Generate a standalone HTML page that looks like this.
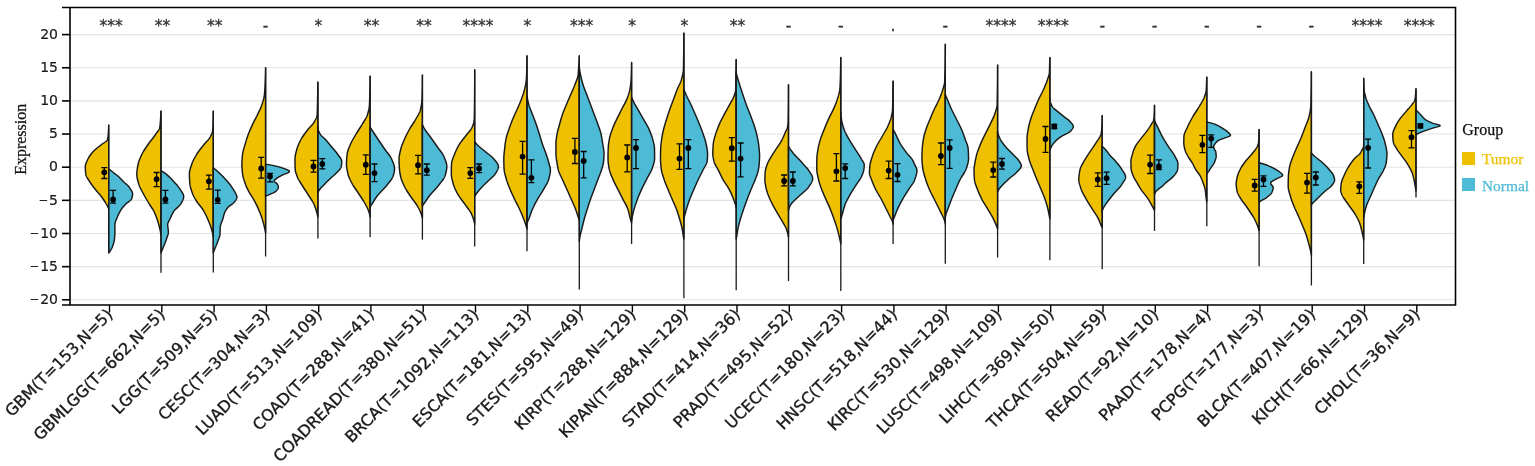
<!DOCTYPE html>
<html><head><meta charset="utf-8"><style>
html,body{margin:0;padding:0;background:#fff;}
svg{display:block;}
.yt{font-family:"DejaVu Sans",sans-serif;font-size:14px;fill:#1a1a1a;stroke:#1a1a1a;stroke-width:0.2px;}
.xt{font-family:"DejaVu Sans",sans-serif;font-size:16px;fill:#1a1a1a;stroke:#1a1a1a;stroke-width:0.35px;}
.sig{font-family:"DejaVu Sans",sans-serif;font-size:15.5px;fill:#333;stroke:#333;stroke-width:0.3px;}
.ttl{font-family:"Liberation Serif",serif;font-size:16px;fill:#111;stroke:#111;stroke-width:0.25px;}
</style></head><body>
<svg width="1535" height="466" viewBox="0 0 1535 466">
<rect width="100%" height="100%" fill="#fff"/>
<line x1="70.0" x2="1455.5" y1="299.80" y2="299.80" stroke="#e3e3e3" stroke-width="1.1"/>
<line x1="70.0" x2="1455.5" y1="266.65" y2="266.65" stroke="#e3e3e3" stroke-width="1.1"/>
<line x1="70.0" x2="1455.5" y1="233.50" y2="233.50" stroke="#e3e3e3" stroke-width="1.1"/>
<line x1="70.0" x2="1455.5" y1="200.35" y2="200.35" stroke="#e3e3e3" stroke-width="1.1"/>
<line x1="70.0" x2="1455.5" y1="167.20" y2="167.20" stroke="#e3e3e3" stroke-width="1.1"/>
<line x1="70.0" x2="1455.5" y1="134.05" y2="134.05" stroke="#e3e3e3" stroke-width="1.1"/>
<line x1="70.0" x2="1455.5" y1="100.90" y2="100.90" stroke="#e3e3e3" stroke-width="1.1"/>
<line x1="70.0" x2="1455.5" y1="67.75" y2="67.75" stroke="#e3e3e3" stroke-width="1.1"/>
<line x1="70.0" x2="1455.5" y1="34.60" y2="34.60" stroke="#e3e3e3" stroke-width="1.1"/>
<path d="M108.7,125.0 L108.70,125.00 L108.70,125.50 L108.69,126.00 L108.68,126.50 L108.67,127.00 L108.66,127.50 L108.64,128.00 L108.62,128.50 L108.59,129.00 L108.57,129.50 L108.54,130.00 L108.51,130.50 L108.48,131.00 L108.45,131.50 L108.41,132.00 L108.38,132.50 L108.34,133.00 L108.30,133.50 L108.26,134.00 L108.22,134.50 L108.18,135.00 L108.14,135.50 L108.10,136.00 L108.05,136.50 L107.99,137.00 L107.92,137.50 L107.85,138.00 L107.76,138.50 L107.66,139.00 L107.55,139.50 L107.39,140.00 L107.06,140.50 L106.58,141.00 L105.98,141.50 L105.29,142.00 L104.54,142.50 L103.76,143.00 L102.98,143.50 L102.23,144.00 L101.55,144.50 L100.94,145.00 L100.32,145.50 L99.70,146.00 L99.06,146.50 L98.43,147.00 L97.80,147.50 L97.17,148.00 L96.56,148.50 L95.95,149.00 L95.36,149.50 L94.79,150.00 L94.25,150.50 L93.73,151.00 L93.24,151.50 L92.79,152.00 L92.36,152.50 L91.94,153.00 L91.54,153.50 L91.14,154.00 L90.76,154.50 L90.38,155.00 L90.02,155.50 L89.68,156.00 L89.35,156.50 L89.03,157.00 L88.73,157.50 L88.44,158.00 L88.18,158.50 L87.93,159.00 L87.70,159.50 L87.48,160.00 L87.25,160.50 L87.03,161.00 L86.80,161.50 L86.58,162.00 L86.37,162.50 L86.17,163.00 L85.98,163.50 L85.81,164.00 L85.66,164.50 L85.53,165.00 L85.43,165.50 L85.36,166.00 L85.31,166.50 L85.30,167.00 L85.30,167.50 L85.31,168.00 L85.33,168.50 L85.35,169.00 L85.37,169.50 L85.40,170.00 L85.43,170.50 L85.47,171.00 L85.51,171.50 L85.55,172.00 L85.60,172.50 L85.65,173.00 L85.71,173.50 L85.76,174.00 L85.83,174.50 L85.93,175.00 L86.08,175.50 L86.26,176.00 L86.48,176.50 L86.73,177.00 L87.00,177.50 L87.29,178.00 L87.61,178.50 L87.93,179.00 L88.26,179.50 L88.60,180.00 L88.93,180.50 L89.26,181.00 L89.58,181.50 L89.89,182.00 L90.21,182.50 L90.54,183.00 L90.88,183.50 L91.23,184.00 L91.58,184.50 L91.95,185.00 L92.32,185.50 L92.70,186.00 L93.08,186.50 L93.46,187.00 L93.85,187.50 L94.24,188.00 L94.63,188.50 L95.02,189.00 L95.42,189.50 L95.82,190.00 L96.24,190.50 L96.67,191.00 L97.10,191.50 L97.54,192.00 L97.97,192.50 L98.41,193.00 L98.85,193.50 L99.28,194.00 L99.71,194.50 L100.12,195.00 L100.53,195.50 L100.92,196.00 L101.30,196.50 L101.67,197.00 L102.03,197.50 L102.39,198.00 L102.74,198.50 L103.09,199.00 L103.43,199.50 L103.77,200.00 L104.10,200.50 L104.43,201.00 L104.75,201.50 L105.07,202.00 L105.37,202.50 L105.67,203.00 L105.97,203.50 L106.26,204.00 L106.54,204.50 L106.81,205.00 L107.08,205.50 L107.34,206.00 L107.60,206.50 L107.85,207.00 L108.09,207.50 L108.33,208.00 L108.56,208.50 L108.70,208.80 L108.7,208.8 Z" fill="#EFC000" stroke="#1a1a1a" stroke-width="1.45" stroke-linejoin="round"/>
<path d="M108.7,168.8 L108.70,168.80 L109.31,169.30 L109.92,169.80 L110.54,170.30 L111.16,170.80 L111.78,171.30 L112.40,171.80 L113.03,172.30 L113.68,172.80 L114.34,173.30 L115.00,173.80 L115.65,174.30 L116.30,174.80 L116.94,175.30 L117.56,175.80 L118.15,176.30 L118.71,176.80 L119.24,177.30 L119.76,177.80 L120.25,178.30 L120.74,178.80 L121.21,179.30 L121.68,179.80 L122.15,180.30 L122.62,180.80 L123.11,181.30 L123.60,181.80 L124.12,182.30 L124.66,182.80 L125.23,183.30 L125.79,183.80 L126.36,184.30 L126.93,184.80 L127.47,185.30 L128.00,185.80 L128.49,186.30 L128.94,186.80 L129.35,187.30 L129.70,187.80 L130.02,188.30 L130.35,188.80 L130.68,189.30 L131.00,189.80 L131.31,190.30 L131.59,190.80 L131.85,191.30 L132.09,191.80 L132.28,192.30 L132.44,192.80 L132.54,193.30 L132.60,193.80 L132.60,194.30 L132.57,194.80 L132.51,195.30 L132.44,195.80 L132.34,196.30 L132.23,196.80 L132.10,197.30 L131.96,197.80 L131.80,198.30 L131.63,198.80 L131.41,199.30 L131.04,199.80 L130.55,200.30 L129.97,200.80 L129.32,201.30 L128.64,201.80 L127.95,202.30 L127.28,202.80 L126.65,203.30 L126.10,203.80 L125.61,204.30 L125.13,204.80 L124.66,205.30 L124.20,205.80 L123.74,206.30 L123.30,206.80 L122.87,207.30 L122.46,207.80 L122.06,208.30 L121.68,208.80 L121.33,209.30 L121.00,209.80 L120.69,210.30 L120.39,210.80 L120.10,211.30 L119.81,211.80 L119.54,212.30 L119.28,212.80 L119.03,213.30 L118.78,213.80 L118.54,214.30 L118.31,214.80 L118.09,215.30 L117.87,215.80 L117.66,216.30 L117.46,216.80 L117.26,217.30 L117.06,217.80 L116.84,218.30 L116.63,218.80 L116.41,219.30 L116.19,219.80 L115.98,220.30 L115.78,220.80 L115.59,221.30 L115.41,221.80 L115.26,222.30 L115.13,222.80 L115.02,223.30 L114.95,223.80 L114.91,224.30 L114.90,224.80 L114.90,225.30 L114.90,225.80 L114.90,226.30 L114.90,226.80 L114.90,227.30 L114.90,227.80 L114.90,228.30 L114.90,228.80 L114.90,229.30 L114.90,229.80 L114.90,230.30 L114.90,230.80 L114.90,231.30 L114.90,231.80 L114.90,232.30 L114.89,232.80 L114.88,233.30 L114.86,233.80 L114.84,234.30 L114.81,234.80 L114.78,235.30 L114.74,235.80 L114.70,236.30 L114.66,236.80 L114.61,237.30 L114.57,237.80 L114.52,238.30 L114.46,238.80 L114.41,239.30 L114.35,239.80 L114.28,240.30 L114.19,240.80 L114.10,241.30 L113.98,241.80 L113.86,242.30 L113.73,242.80 L113.59,243.30 L113.44,243.80 L113.28,244.30 L113.12,244.80 L112.95,245.30 L112.77,245.80 L112.59,246.30 L112.40,246.80 L112.20,247.30 L111.98,247.80 L111.74,248.30 L111.47,248.80 L111.19,249.30 L110.90,249.80 L110.59,250.30 L110.26,250.80 L109.92,251.30 L109.57,251.80 L109.22,252.30 L108.85,252.80 L108.70,253.00 L108.7,253.0 Z" fill="#4DBBD5" stroke="#1a1a1a" stroke-width="1.45" stroke-linejoin="round"/>
<line x1="108.7" x2="108.7" y1="125.0" y2="253.0" stroke="#1a1a1a" stroke-width="1.3"/>
<path d="M161.0,111.0 L160.99,111.00 L160.97,111.50 L160.95,112.00 L160.93,112.50 L160.91,113.00 L160.89,113.50 L160.86,114.00 L160.84,114.50 L160.81,115.00 L160.78,115.50 L160.75,116.00 L160.72,116.50 L160.69,117.00 L160.66,117.50 L160.63,118.00 L160.59,118.50 L160.56,119.00 L160.53,119.50 L160.49,120.00 L160.46,120.50 L160.42,121.00 L160.39,121.50 L160.35,122.00 L160.32,122.50 L160.28,123.00 L160.24,123.50 L160.20,124.00 L160.16,124.50 L160.11,125.00 L160.05,125.50 L159.99,126.00 L159.93,126.50 L159.85,127.00 L159.77,127.50 L159.65,128.00 L159.48,128.50 L159.27,129.00 L159.02,129.50 L158.73,130.00 L158.41,130.50 L158.08,131.00 L157.72,131.50 L157.35,132.00 L156.97,132.50 L156.59,133.00 L156.22,133.50 L155.85,134.00 L155.49,134.50 L155.16,135.00 L154.81,135.50 L154.46,136.00 L154.10,136.50 L153.73,137.00 L153.35,137.50 L152.97,138.00 L152.58,138.50 L152.19,139.00 L151.80,139.50 L151.41,140.00 L151.02,140.50 L150.63,141.00 L150.24,141.50 L149.85,142.00 L149.47,142.50 L149.10,143.00 L148.73,143.50 L148.38,144.00 L148.03,144.50 L147.69,145.00 L147.34,145.50 L147.00,146.00 L146.66,146.50 L146.32,147.00 L145.98,147.50 L145.64,148.00 L145.30,148.50 L144.97,149.00 L144.65,149.50 L144.32,150.00 L144.01,150.50 L143.70,151.00 L143.40,151.50 L143.10,152.00 L142.82,152.50 L142.55,153.00 L142.28,153.50 L142.03,154.00 L141.79,154.50 L141.56,155.00 L141.32,155.50 L141.09,156.00 L140.87,156.50 L140.64,157.00 L140.42,157.50 L140.20,158.00 L139.99,158.50 L139.78,159.00 L139.58,159.50 L139.39,160.00 L139.20,160.50 L139.03,161.00 L138.86,161.50 L138.70,162.00 L138.55,162.50 L138.41,163.00 L138.29,163.50 L138.17,164.00 L138.07,164.50 L137.97,165.00 L137.88,165.50 L137.78,166.00 L137.69,166.50 L137.59,167.00 L137.50,167.50 L137.42,168.00 L137.33,168.50 L137.25,169.00 L137.18,169.50 L137.11,170.00 L137.04,170.50 L136.98,171.00 L136.93,171.50 L136.89,172.00 L136.85,172.50 L136.82,173.00 L136.80,173.50 L136.79,174.00 L136.79,174.50 L136.81,175.00 L136.84,175.50 L136.88,176.00 L136.94,176.50 L137.01,177.00 L137.09,177.50 L137.18,178.00 L137.28,178.50 L137.39,179.00 L137.51,179.50 L137.64,180.00 L137.77,180.50 L137.90,181.00 L138.04,181.50 L138.18,182.00 L138.33,182.50 L138.47,183.00 L138.62,183.50 L138.76,184.00 L138.91,184.50 L139.07,185.00 L139.25,185.50 L139.44,186.00 L139.65,186.50 L139.86,187.00 L140.09,187.50 L140.33,188.00 L140.57,188.50 L140.82,189.00 L141.08,189.50 L141.34,190.00 L141.61,190.50 L141.88,191.00 L142.15,191.50 L142.42,192.00 L142.69,192.50 L142.96,193.00 L143.23,193.50 L143.49,194.00 L143.75,194.50 L144.02,195.00 L144.29,195.50 L144.56,196.00 L144.84,196.50 L145.12,197.00 L145.40,197.50 L145.69,198.00 L145.98,198.50 L146.27,199.00 L146.56,199.50 L146.85,200.00 L147.15,200.50 L147.45,201.00 L147.75,201.50 L148.05,202.00 L148.35,202.50 L148.65,203.00 L148.95,203.50 L149.25,204.00 L149.56,204.50 L149.88,205.00 L150.21,205.50 L150.55,206.00 L150.89,206.50 L151.23,207.00 L151.57,207.50 L151.91,208.00 L152.24,208.50 L152.57,209.00 L152.88,209.50 L153.18,210.00 L153.47,210.50 L153.74,211.00 L153.99,211.50 L154.23,212.00 L154.46,212.50 L154.68,213.00 L154.90,213.50 L155.12,214.00 L155.33,214.50 L155.53,215.00 L155.73,215.50 L155.93,216.00 L156.12,216.50 L156.31,217.00 L156.50,217.50 L156.68,218.00 L156.85,218.50 L157.03,219.00 L157.20,219.50 L157.37,220.00 L157.53,220.50 L157.69,221.00 L157.85,221.50 L158.01,222.00 L158.16,222.50 L158.31,223.00 L158.46,223.50 L158.61,224.00 L158.75,224.50 L158.89,225.00 L159.02,225.50 L159.15,226.00 L159.28,226.50 L159.41,227.00 L159.53,227.50 L159.65,228.00 L159.76,228.50 L159.88,229.00 L159.99,229.50 L160.10,230.00 L160.21,230.50 L160.31,231.00 L160.42,231.50 L160.52,232.00 L160.62,232.50 L160.72,233.00 L160.81,233.50 L160.90,234.00 L160.99,234.50 L161.0,234.5 Z" fill="#EFC000" stroke="#1a1a1a" stroke-width="1.45" stroke-linejoin="round"/>
<path d="M161.0,170.6 L160.99,170.60 L161.79,171.10 L162.58,171.60 L163.35,172.10 L164.10,172.60 L164.81,173.10 L165.50,173.60 L166.14,174.10 L166.75,174.60 L167.33,175.10 L167.89,175.60 L168.44,176.10 L168.97,176.60 L169.48,177.10 L169.98,177.60 L170.46,178.10 L170.94,178.60 L171.41,179.10 L171.88,179.60 L172.33,180.10 L172.79,180.60 L173.24,181.10 L173.70,181.60 L174.16,182.10 L174.62,182.60 L175.08,183.10 L175.54,183.60 L175.99,184.10 L176.45,184.60 L176.89,185.10 L177.33,185.60 L177.75,186.10 L178.17,186.60 L178.57,187.10 L178.95,187.60 L179.32,188.10 L179.67,188.60 L179.99,189.10 L180.31,189.60 L180.64,190.10 L180.98,190.60 L181.32,191.10 L181.66,191.60 L181.99,192.10 L182.30,192.60 L182.59,193.10 L182.86,193.60 L183.10,194.10 L183.31,194.60 L183.48,195.10 L183.60,195.60 L183.67,196.10 L183.69,196.60 L183.66,197.10 L183.59,197.60 L183.49,198.10 L183.36,198.60 L183.20,199.10 L183.01,199.60 L182.80,200.10 L182.57,200.60 L182.32,201.10 L182.06,201.60 L181.79,202.10 L181.52,202.60 L181.24,203.10 L180.96,203.60 L180.67,204.10 L180.34,204.60 L179.94,205.10 L179.49,205.60 L179.00,206.10 L178.48,206.60 L177.94,207.10 L177.38,207.60 L176.82,208.10 L176.27,208.60 L175.73,209.10 L175.22,209.60 L174.74,210.10 L174.31,210.60 L173.93,211.10 L173.60,211.60 L173.29,212.10 L172.99,212.60 L172.71,213.10 L172.45,213.60 L172.19,214.10 L171.94,214.60 L171.70,215.10 L171.47,215.60 L171.24,216.10 L171.02,216.60 L170.80,217.10 L170.58,217.60 L170.36,218.10 L170.13,218.60 L169.90,219.10 L169.65,219.60 L169.38,220.10 L169.11,220.60 L168.84,221.10 L168.59,221.60 L168.34,222.10 L168.13,222.60 L167.95,223.10 L167.81,223.60 L167.72,224.10 L167.69,224.60 L167.70,225.10 L167.72,225.60 L167.76,226.10 L167.82,226.60 L167.88,227.10 L167.94,227.60 L168.01,228.10 L168.08,228.60 L168.15,229.10 L168.22,229.60 L168.28,230.10 L168.32,230.60 L168.36,231.10 L168.38,231.60 L168.39,232.10 L168.37,232.60 L168.32,233.10 L168.24,233.60 L168.13,234.10 L168.01,234.60 L167.87,235.10 L167.72,235.60 L167.55,236.10 L167.38,236.60 L167.20,237.10 L167.02,237.60 L166.84,238.10 L166.66,238.60 L166.49,239.10 L166.33,239.60 L166.16,240.10 L165.98,240.60 L165.80,241.10 L165.61,241.60 L165.41,242.10 L165.21,242.60 L165.01,243.10 L164.81,243.60 L164.60,244.10 L164.39,244.60 L164.18,245.10 L163.98,245.60 L163.77,246.10 L163.57,246.60 L163.37,247.10 L163.17,247.60 L162.97,248.10 L162.77,248.60 L162.57,249.10 L162.37,249.60 L162.17,250.10 L161.97,250.60 L161.76,251.10 L161.56,251.60 L161.36,252.10 L161.15,252.60 L160.99,253.00 L161.0,253.0 Z" fill="#4DBBD5" stroke="#1a1a1a" stroke-width="1.45" stroke-linejoin="round"/>
<line x1="161.0" x2="161.0" y1="111.0" y2="272.7" stroke="#1a1a1a" stroke-width="1.3"/>
<path d="M213.3,111.0 L213.28,111.00 L213.28,111.50 L213.27,112.00 L213.27,112.50 L213.27,113.00 L213.26,113.50 L213.25,114.00 L213.25,114.50 L213.24,115.00 L213.23,115.50 L213.22,116.00 L213.21,116.50 L213.20,117.00 L213.19,117.50 L213.18,118.00 L213.16,118.50 L213.15,119.00 L213.14,119.50 L213.13,120.00 L213.11,120.50 L213.10,121.00 L213.08,121.50 L213.07,122.00 L213.06,122.50 L213.04,123.00 L213.03,123.50 L213.01,124.00 L213.00,124.50 L212.98,125.00 L212.96,125.50 L212.95,126.00 L212.93,126.50 L212.91,127.00 L212.89,127.50 L212.87,128.00 L212.84,128.50 L212.81,129.00 L212.78,129.50 L212.73,130.00 L212.66,130.50 L212.56,131.00 L212.44,131.50 L212.30,132.00 L212.15,132.50 L211.98,133.00 L211.79,133.50 L211.59,134.00 L211.38,134.50 L211.17,135.00 L210.94,135.50 L210.71,136.00 L210.47,136.50 L210.23,137.00 L209.96,137.50 L209.64,138.00 L209.29,138.50 L208.90,139.00 L208.49,139.50 L208.06,140.00 L207.61,140.50 L207.14,141.00 L206.67,141.50 L206.20,142.00 L205.74,142.50 L205.28,143.00 L204.84,143.50 L204.42,144.00 L204.02,144.50 L203.63,145.00 L203.23,145.50 L202.83,146.00 L202.43,146.50 L202.03,147.00 L201.63,147.50 L201.23,148.00 L200.84,148.50 L200.45,149.00 L200.06,149.50 L199.68,150.00 L199.30,150.50 L198.93,151.00 L198.57,151.50 L198.22,152.00 L197.87,152.50 L197.54,153.00 L197.21,153.50 L196.90,154.00 L196.60,154.50 L196.30,155.00 L196.00,155.50 L195.71,156.00 L195.41,156.50 L195.13,157.00 L194.84,157.50 L194.56,158.00 L194.29,158.50 L194.02,159.00 L193.76,159.50 L193.51,160.00 L193.26,160.50 L193.02,161.00 L192.80,161.50 L192.58,162.00 L192.37,162.50 L192.17,163.00 L191.99,163.50 L191.81,164.00 L191.65,164.50 L191.48,165.00 L191.31,165.50 L191.14,166.00 L190.97,166.50 L190.80,167.00 L190.64,167.50 L190.48,168.00 L190.32,168.50 L190.18,169.00 L190.04,169.50 L189.91,170.00 L189.79,170.50 L189.69,171.00 L189.60,171.50 L189.52,172.00 L189.46,172.50 L189.41,173.00 L189.39,173.50 L189.38,174.00 L189.38,174.50 L189.39,175.00 L189.40,175.50 L189.41,176.00 L189.42,176.50 L189.44,177.00 L189.46,177.50 L189.48,178.00 L189.51,178.50 L189.53,179.00 L189.56,179.50 L189.59,180.00 L189.63,180.50 L189.66,181.00 L189.70,181.50 L189.73,182.00 L189.77,182.50 L189.81,183.00 L189.85,183.50 L189.90,184.00 L189.95,184.50 L190.02,185.00 L190.10,185.50 L190.19,186.00 L190.30,186.50 L190.41,187.00 L190.54,187.50 L190.67,188.00 L190.81,188.50 L190.96,189.00 L191.11,189.50 L191.27,190.00 L191.44,190.50 L191.61,191.00 L191.78,191.50 L191.96,192.00 L192.14,192.50 L192.32,193.00 L192.51,193.50 L192.69,194.00 L192.89,194.50 L193.11,195.00 L193.34,195.50 L193.58,196.00 L193.83,196.50 L194.10,197.00 L194.37,197.50 L194.65,198.00 L194.94,198.50 L195.24,199.00 L195.54,199.50 L195.85,200.00 L196.15,200.50 L196.47,201.00 L196.78,201.50 L197.11,202.00 L197.45,202.50 L197.82,203.00 L198.20,203.50 L198.59,204.00 L198.99,204.50 L199.40,205.00 L199.81,205.50 L200.22,206.00 L200.62,206.50 L201.02,207.00 L201.41,207.50 L201.79,208.00 L202.15,208.50 L202.50,209.00 L202.82,209.50 L203.12,210.00 L203.42,210.50 L203.71,211.00 L203.99,211.50 L204.27,212.00 L204.54,212.50 L204.80,213.00 L205.07,213.50 L205.32,214.00 L205.57,214.50 L205.82,215.00 L206.06,215.50 L206.30,216.00 L206.54,216.50 L206.77,217.00 L207.00,217.50 L207.22,218.00 L207.44,218.50 L207.66,219.00 L207.88,219.50 L208.10,220.00 L208.31,220.50 L208.52,221.00 L208.73,221.50 L208.94,222.00 L209.15,222.50 L209.36,223.00 L209.56,223.50 L209.76,224.00 L209.95,224.50 L210.14,225.00 L210.33,225.50 L210.51,226.00 L210.69,226.50 L210.86,227.00 L211.03,227.50 L211.19,228.00 L211.35,228.50 L211.49,229.00 L211.64,229.50 L211.77,230.00 L211.91,230.50 L212.04,231.00 L212.17,231.50 L212.30,232.00 L212.42,232.50 L212.54,233.00 L212.65,233.50 L212.76,234.00 L212.87,234.50 L212.97,235.00 L213.07,235.50 L213.16,236.00 L213.25,236.50 L213.28,236.70 L213.3,236.7 Z" fill="#EFC000" stroke="#1a1a1a" stroke-width="1.45" stroke-linejoin="round"/>
<path d="M213.3,167.8 L213.28,167.80 L213.90,168.30 L214.52,168.80 L215.13,169.30 L215.73,169.80 L216.32,170.30 L216.90,170.80 L217.46,171.30 L218.01,171.80 L218.55,172.30 L219.08,172.80 L219.61,173.30 L220.13,173.80 L220.64,174.30 L221.15,174.80 L221.65,175.30 L222.15,175.80 L222.63,176.30 L223.12,176.80 L223.59,177.30 L224.06,177.80 L224.53,178.30 L224.99,178.80 L225.44,179.30 L225.90,179.80 L226.35,180.30 L226.80,180.80 L227.24,181.30 L227.68,181.80 L228.11,182.30 L228.54,182.80 L228.96,183.30 L229.37,183.80 L229.78,184.30 L230.17,184.80 L230.55,185.30 L230.92,185.80 L231.28,186.30 L231.63,186.80 L231.98,187.30 L232.32,187.80 L232.67,188.30 L233.00,188.80 L233.33,189.30 L233.65,189.80 L233.96,190.30 L234.26,190.80 L234.55,191.30 L234.84,191.80 L235.10,192.30 L235.36,192.80 L235.60,193.30 L235.82,193.80 L236.06,194.30 L236.31,194.80 L236.54,195.30 L236.74,195.80 L236.89,196.30 L236.97,196.80 L236.97,197.30 L236.88,197.80 L236.74,198.30 L236.53,198.80 L236.28,199.30 L235.98,199.80 L235.66,200.30 L235.31,200.80 L234.95,201.30 L234.58,201.80 L234.20,202.30 L233.75,202.80 L233.19,203.30 L232.56,203.80 L231.87,204.30 L231.15,204.80 L230.44,205.30 L229.75,205.80 L229.12,206.30 L228.56,206.80 L228.11,207.30 L227.68,207.80 L227.27,208.30 L226.88,208.80 L226.51,209.30 L226.16,209.80 L225.83,210.30 L225.53,210.80 L225.26,211.30 L225.01,211.80 L224.80,212.30 L224.60,212.80 L224.42,213.30 L224.25,213.80 L224.09,214.30 L223.95,214.80 L223.81,215.30 L223.67,215.80 L223.54,216.30 L223.42,216.80 L223.29,217.30 L223.16,217.80 L223.03,218.30 L222.89,218.80 L222.74,219.30 L222.58,219.80 L222.41,220.30 L222.22,220.80 L222.03,221.30 L221.83,221.80 L221.62,222.30 L221.42,222.80 L221.22,223.30 L221.03,223.80 L220.86,224.30 L220.70,224.80 L220.55,225.30 L220.44,225.80 L220.35,226.30 L220.29,226.80 L220.25,227.30 L220.22,227.80 L220.20,228.30 L220.18,228.80 L220.16,229.30 L220.15,229.80 L220.14,230.30 L220.12,230.80 L220.11,231.30 L220.10,231.80 L220.08,232.30 L220.06,232.80 L220.04,233.30 L220.01,233.80 L219.98,234.30 L219.93,234.80 L219.85,235.30 L219.75,235.80 L219.63,236.30 L219.49,236.80 L219.33,237.30 L219.16,237.80 L218.98,238.30 L218.79,238.80 L218.59,239.30 L218.40,239.80 L218.20,240.30 L218.01,240.80 L217.82,241.30 L217.64,241.80 L217.47,242.30 L217.28,242.80 L217.09,243.30 L216.90,243.80 L216.70,244.30 L216.50,244.80 L216.29,245.30 L216.09,245.80 L215.88,246.30 L215.67,246.80 L215.47,247.30 L215.26,247.80 L215.06,248.30 L214.86,248.80 L214.66,249.30 L214.46,249.80 L214.27,250.30 L214.07,250.80 L213.87,251.30 L213.67,251.80 L213.48,252.30 L213.28,252.80 L213.3,252.8 Z" fill="#4DBBD5" stroke="#1a1a1a" stroke-width="1.45" stroke-linejoin="round"/>
<line x1="213.3" x2="213.3" y1="111.0" y2="272.5" stroke="#1a1a1a" stroke-width="1.3"/>
<path d="M265.6,67.6 L265.57,67.60 L265.57,68.10 L265.57,68.60 L265.56,69.10 L265.56,69.60 L265.55,70.10 L265.54,70.60 L265.54,71.10 L265.53,71.60 L265.52,72.10 L265.51,72.60 L265.50,73.10 L265.48,73.60 L265.47,74.10 L265.46,74.60 L265.44,75.10 L265.43,75.60 L265.41,76.10 L265.40,76.60 L265.38,77.10 L265.36,77.60 L265.35,78.10 L265.33,78.60 L265.31,79.10 L265.29,79.60 L265.27,80.10 L265.25,80.60 L265.23,81.10 L265.21,81.60 L265.19,82.10 L265.17,82.60 L265.15,83.10 L265.13,83.60 L265.11,84.10 L265.09,84.60 L265.07,85.10 L265.04,85.60 L265.02,86.10 L265.00,86.60 L264.97,87.10 L264.95,87.60 L264.92,88.10 L264.89,88.60 L264.86,89.10 L264.83,89.60 L264.80,90.10 L264.76,90.60 L264.73,91.10 L264.69,91.60 L264.65,92.10 L264.61,92.60 L264.56,93.10 L264.51,93.60 L264.46,94.10 L264.41,94.60 L264.36,95.10 L264.30,95.60 L264.22,96.10 L264.14,96.60 L264.05,97.10 L263.95,97.60 L263.84,98.10 L263.73,98.60 L263.61,99.10 L263.48,99.60 L263.34,100.10 L263.20,100.60 L263.06,101.10 L262.91,101.60 L262.76,102.10 L262.61,102.60 L262.45,103.10 L262.29,103.60 L262.13,104.10 L261.97,104.60 L261.80,105.10 L261.63,105.60 L261.45,106.10 L261.26,106.60 L261.06,107.10 L260.85,107.60 L260.63,108.10 L260.41,108.60 L260.18,109.10 L259.95,109.60 L259.71,110.10 L259.47,110.60 L259.23,111.10 L258.98,111.60 L258.74,112.10 L258.49,112.60 L258.25,113.10 L258.00,113.60 L257.76,114.10 L257.52,114.60 L257.28,115.10 L257.03,115.60 L256.79,116.10 L256.53,116.60 L256.28,117.10 L256.02,117.60 L255.76,118.10 L255.50,118.60 L255.24,119.10 L254.98,119.60 L254.72,120.10 L254.46,120.60 L254.20,121.10 L253.94,121.60 L253.69,122.10 L253.43,122.60 L253.19,123.10 L252.94,123.60 L252.70,124.10 L252.47,124.60 L252.24,125.10 L252.01,125.60 L251.78,126.10 L251.56,126.60 L251.33,127.10 L251.11,127.60 L250.89,128.10 L250.67,128.60 L250.45,129.10 L250.23,129.60 L250.02,130.10 L249.81,130.60 L249.60,131.10 L249.40,131.60 L249.20,132.10 L249.00,132.60 L248.80,133.10 L248.61,133.60 L248.42,134.10 L248.23,134.60 L248.05,135.10 L247.87,135.60 L247.69,136.10 L247.51,136.60 L247.34,137.10 L247.17,137.60 L247.00,138.10 L246.83,138.60 L246.67,139.10 L246.50,139.60 L246.34,140.10 L246.18,140.60 L246.02,141.10 L245.87,141.60 L245.72,142.10 L245.57,142.60 L245.42,143.10 L245.27,143.60 L245.13,144.10 L244.98,144.60 L244.84,145.10 L244.69,145.60 L244.54,146.10 L244.39,146.60 L244.24,147.10 L244.09,147.60 L243.94,148.10 L243.79,148.60 L243.65,149.10 L243.51,149.60 L243.37,150.10 L243.25,150.60 L243.12,151.10 L243.01,151.60 L242.90,152.10 L242.81,152.60 L242.72,153.10 L242.65,153.60 L242.58,154.10 L242.53,154.60 L242.47,155.10 L242.42,155.60 L242.37,156.10 L242.31,156.60 L242.26,157.10 L242.22,157.60 L242.17,158.10 L242.13,158.60 L242.09,159.10 L242.05,159.60 L242.01,160.10 L241.98,160.60 L241.95,161.10 L241.93,161.60 L241.91,162.10 L241.89,162.60 L241.88,163.10 L241.87,163.60 L241.87,164.10 L241.87,164.60 L241.88,165.10 L241.89,165.60 L241.91,166.10 L241.93,166.60 L241.95,167.10 L241.98,167.60 L242.02,168.10 L242.05,168.60 L242.09,169.10 L242.13,169.60 L242.17,170.10 L242.22,170.60 L242.27,171.10 L242.32,171.60 L242.37,172.10 L242.43,172.60 L242.48,173.10 L242.54,173.60 L242.59,174.10 L242.66,174.60 L242.74,175.10 L242.83,175.60 L242.93,176.10 L243.04,176.60 L243.16,177.10 L243.28,177.60 L243.42,178.10 L243.56,178.60 L243.71,179.10 L243.86,179.60 L244.02,180.10 L244.18,180.60 L244.34,181.10 L244.51,181.60 L244.68,182.10 L244.85,182.60 L245.03,183.10 L245.20,183.60 L245.38,184.10 L245.56,184.60 L245.75,185.10 L245.96,185.60 L246.17,186.10 L246.38,186.60 L246.61,187.10 L246.84,187.60 L247.08,188.10 L247.32,188.60 L247.57,189.10 L247.82,189.60 L248.08,190.10 L248.34,190.60 L248.60,191.10 L248.86,191.60 L249.12,192.10 L249.40,192.60 L249.68,193.10 L249.98,193.60 L250.29,194.10 L250.60,194.60 L250.92,195.10 L251.24,195.60 L251.57,196.10 L251.89,196.60 L252.22,197.10 L252.54,197.60 L252.85,198.10 L253.16,198.60 L253.46,199.10 L253.75,199.60 L254.02,200.10 L254.30,200.60 L254.56,201.10 L254.83,201.60 L255.09,202.10 L255.35,202.60 L255.61,203.10 L255.87,203.60 L256.12,204.10 L256.37,204.60 L256.61,205.10 L256.86,205.60 L257.09,206.10 L257.33,206.60 L257.56,207.10 L257.79,207.60 L258.02,208.10 L258.24,208.60 L258.46,209.10 L258.67,209.60 L258.88,210.10 L259.09,210.60 L259.30,211.10 L259.50,211.60 L259.71,212.10 L259.91,212.60 L260.11,213.10 L260.30,213.60 L260.50,214.10 L260.69,214.60 L260.88,215.10 L261.06,215.60 L261.24,216.10 L261.42,216.60 L261.59,217.10 L261.76,217.60 L261.93,218.10 L262.09,218.60 L262.25,219.10 L262.40,219.60 L262.55,220.10 L262.70,220.60 L262.84,221.10 L262.98,221.60 L263.12,222.10 L263.26,222.60 L263.39,223.10 L263.53,223.60 L263.65,224.10 L263.78,224.60 L263.91,225.10 L264.03,225.60 L264.15,226.10 L264.27,226.60 L264.38,227.10 L264.50,227.60 L264.61,228.10 L264.72,228.60 L264.83,229.10 L264.93,229.60 L265.04,230.10 L265.13,230.60 L265.23,231.10 L265.32,231.60 L265.41,232.10 L265.50,232.60 L265.57,233.00 L265.6,233.0 Z" fill="#EFC000" stroke="#1a1a1a" stroke-width="1.45" stroke-linejoin="round"/>
<path d="M265.6,164.1 L265.57,164.10 L268.56,164.60 L271.29,165.10 L273.67,165.60 L275.91,166.10 L277.99,166.60 L279.88,167.10 L281.50,167.60 L282.89,168.10 L284.29,168.60 L285.65,169.10 L286.90,169.60 L287.98,170.10 L288.82,170.60 L289.33,171.10 L289.46,171.60 L289.10,172.10 L288.31,172.60 L287.23,173.10 L285.96,173.60 L284.62,174.10 L283.35,174.60 L282.26,175.10 L281.34,175.60 L280.40,176.10 L279.46,176.60 L278.56,177.10 L277.71,177.60 L276.95,178.10 L276.30,178.60 L275.77,179.10 L275.25,179.60 L274.77,180.10 L274.39,180.60 L274.19,181.10 L274.27,181.60 L274.80,182.10 L275.59,182.60 L276.40,183.10 L277.03,183.60 L277.33,184.10 L277.57,184.60 L277.80,185.10 L278.00,185.60 L278.16,186.10 L278.28,186.60 L278.35,187.10 L278.37,187.60 L278.28,188.10 L278.08,188.60 L277.80,189.10 L277.43,189.60 L277.01,190.10 L276.55,190.60 L276.07,191.10 L275.50,191.60 L274.74,192.10 L273.81,192.60 L272.75,193.10 L271.62,193.60 L270.44,194.10 L269.26,194.60 L268.11,195.10 L266.87,195.60 L265.57,196.10 L265.6,196.1 Z" fill="#4DBBD5" stroke="#1a1a1a" stroke-width="1.45" stroke-linejoin="round"/>
<line x1="265.6" x2="265.6" y1="67.6" y2="256.5" stroke="#1a1a1a" stroke-width="1.3"/>
<path d="M317.9,82.0 L317.86,82.00 L317.86,82.50 L317.85,83.00 L317.85,83.50 L317.84,84.00 L317.84,84.50 L317.83,85.00 L317.83,85.50 L317.82,86.00 L317.81,86.50 L317.81,87.00 L317.80,87.50 L317.79,88.00 L317.79,88.50 L317.78,89.00 L317.77,89.50 L317.76,90.00 L317.76,90.50 L317.75,91.00 L317.74,91.50 L317.73,92.00 L317.72,92.50 L317.71,93.00 L317.70,93.50 L317.69,94.00 L317.69,94.50 L317.68,95.00 L317.67,95.50 L317.66,96.00 L317.65,96.50 L317.64,97.00 L317.63,97.50 L317.62,98.00 L317.60,98.50 L317.59,99.00 L317.58,99.50 L317.57,100.00 L317.56,100.50 L317.55,101.00 L317.54,101.50 L317.53,102.00 L317.52,102.50 L317.51,103.00 L317.49,103.50 L317.48,104.00 L317.47,104.50 L317.46,105.00 L317.45,105.50 L317.44,106.00 L317.43,106.50 L317.42,107.00 L317.41,107.50 L317.40,108.00 L317.39,108.50 L317.37,109.00 L317.36,109.50 L317.35,110.00 L317.34,110.50 L317.32,111.00 L317.31,111.50 L317.29,112.00 L317.27,112.50 L317.25,113.00 L317.22,113.50 L317.20,114.00 L317.17,114.50 L317.14,115.00 L317.07,115.50 L316.96,116.00 L316.83,116.50 L316.67,117.00 L316.49,117.50 L316.29,118.00 L316.06,118.50 L315.83,119.00 L315.57,119.50 L315.31,120.00 L315.04,120.50 L314.77,121.00 L314.49,121.50 L314.21,122.00 L313.93,122.50 L313.60,123.00 L313.24,123.50 L312.85,124.00 L312.43,124.50 L311.99,125.00 L311.54,125.50 L311.08,126.00 L310.61,126.50 L310.14,127.00 L309.68,127.50 L309.22,128.00 L308.78,128.50 L308.36,129.00 L307.96,129.50 L307.57,130.00 L307.19,130.50 L306.80,131.00 L306.41,131.50 L306.03,132.00 L305.64,132.50 L305.26,133.00 L304.89,133.50 L304.51,134.00 L304.14,134.50 L303.78,135.00 L303.43,135.50 L303.08,136.00 L302.75,136.50 L302.42,137.00 L302.10,137.50 L301.80,138.00 L301.50,138.50 L301.22,139.00 L300.95,139.50 L300.69,140.00 L300.43,140.50 L300.18,141.00 L299.93,141.50 L299.68,142.00 L299.44,142.50 L299.20,143.00 L298.97,143.50 L298.74,144.00 L298.52,144.50 L298.31,145.00 L298.11,145.50 L297.91,146.00 L297.72,146.50 L297.54,147.00 L297.37,147.50 L297.21,148.00 L297.06,148.50 L296.91,149.00 L296.78,149.50 L296.65,150.00 L296.51,150.50 L296.38,151.00 L296.24,151.50 L296.11,152.00 L295.98,152.50 L295.85,153.00 L295.73,153.50 L295.62,154.00 L295.51,154.50 L295.40,155.00 L295.31,155.50 L295.23,156.00 L295.15,156.50 L295.09,157.00 L295.04,157.50 L295.00,158.00 L294.97,158.50 L294.96,159.00 L294.96,159.50 L294.96,160.00 L294.96,160.50 L294.97,161.00 L294.97,161.50 L294.98,162.00 L294.99,162.50 L294.99,163.00 L295.00,163.50 L295.01,164.00 L295.02,164.50 L295.04,165.00 L295.05,165.50 L295.06,166.00 L295.08,166.50 L295.09,167.00 L295.11,167.50 L295.13,168.00 L295.14,168.50 L295.16,169.00 L295.20,169.50 L295.26,170.00 L295.33,170.50 L295.42,171.00 L295.53,171.50 L295.66,172.00 L295.79,172.50 L295.94,173.00 L296.10,173.50 L296.27,174.00 L296.44,174.50 L296.62,175.00 L296.80,175.50 L296.99,176.00 L297.18,176.50 L297.36,177.00 L297.55,177.50 L297.77,178.00 L298.00,178.50 L298.25,179.00 L298.51,179.50 L298.79,180.00 L299.08,180.50 L299.38,181.00 L299.69,181.50 L300.00,182.00 L300.32,182.50 L300.64,183.00 L300.97,183.50 L301.29,184.00 L301.62,184.50 L301.94,185.00 L302.25,185.50 L302.56,186.00 L302.87,186.50 L303.18,187.00 L303.49,187.50 L303.81,188.00 L304.14,188.50 L304.46,189.00 L304.79,189.50 L305.11,190.00 L305.44,190.50 L305.77,191.00 L306.10,191.50 L306.43,192.00 L306.76,192.50 L307.08,193.00 L307.41,193.50 L307.73,194.00 L308.05,194.50 L308.36,195.00 L308.68,195.50 L309.00,196.00 L309.32,196.50 L309.65,197.00 L309.98,197.50 L310.31,198.00 L310.65,198.50 L310.97,199.00 L311.30,199.50 L311.62,200.00 L311.94,200.50 L312.25,201.00 L312.55,201.50 L312.84,202.00 L313.12,202.50 L313.39,203.00 L313.65,203.50 L313.89,204.00 L314.12,204.50 L314.33,205.00 L314.53,205.50 L314.73,206.00 L314.92,206.50 L315.10,207.00 L315.28,207.50 L315.45,208.00 L315.61,208.50 L315.77,209.00 L315.93,209.50 L316.08,210.00 L316.23,210.50 L316.38,211.00 L316.52,211.50 L316.66,212.00 L316.80,212.50 L316.93,213.00 L317.07,213.50 L317.19,214.00 L317.32,214.50 L317.44,215.00 L317.55,215.50 L317.67,216.00 L317.78,216.50 L317.86,216.90 L317.9,216.9 Z" fill="#EFC000" stroke="#1a1a1a" stroke-width="1.45" stroke-linejoin="round"/>
<path d="M317.9,127.0 L317.86,127.00 L317.88,127.50 L317.92,128.00 L318.00,128.50 L318.10,129.00 L318.23,129.50 L318.38,130.00 L318.55,130.50 L318.74,131.00 L318.95,131.50 L319.17,132.00 L319.40,132.50 L319.64,133.00 L319.90,133.50 L320.15,134.00 L320.41,134.50 L320.74,135.00 L321.16,135.50 L321.64,136.00 L322.18,136.50 L322.74,137.00 L323.32,137.50 L323.90,138.00 L324.45,138.50 L324.97,139.00 L325.44,139.50 L325.89,140.00 L326.33,140.50 L326.77,141.00 L327.19,141.50 L327.61,142.00 L328.03,142.50 L328.44,143.00 L328.85,143.50 L329.25,144.00 L329.66,144.50 L330.07,145.00 L330.47,145.50 L330.88,146.00 L331.29,146.50 L331.71,147.00 L332.14,147.50 L332.57,148.00 L333.00,148.50 L333.44,149.00 L333.88,149.50 L334.31,150.00 L334.74,150.50 L335.17,151.00 L335.59,151.50 L336.00,152.00 L336.39,152.50 L336.78,153.00 L337.14,153.50 L337.49,154.00 L337.84,154.50 L338.20,155.00 L338.57,155.50 L338.95,156.00 L339.34,156.50 L339.71,157.00 L340.07,157.50 L340.42,158.00 L340.73,158.50 L341.02,159.00 L341.27,159.50 L341.48,160.00 L341.63,160.50 L341.73,161.00 L341.76,161.50 L341.75,162.00 L341.73,162.50 L341.71,163.00 L341.66,163.50 L341.62,164.00 L341.56,164.50 L341.49,165.00 L341.42,165.50 L341.34,166.00 L341.26,166.50 L341.14,167.00 L340.96,167.50 L340.71,168.00 L340.41,168.50 L340.07,169.00 L339.68,169.50 L339.26,170.00 L338.81,170.50 L338.33,171.00 L337.84,171.50 L337.34,172.00 L336.84,172.50 L336.34,173.00 L335.84,173.50 L335.36,174.00 L334.87,174.50 L334.33,175.00 L333.77,175.50 L333.18,176.00 L332.59,176.50 L332.00,177.00 L331.42,177.50 L330.86,178.00 L330.31,178.50 L329.77,179.00 L329.23,179.50 L328.70,180.00 L328.18,180.50 L327.66,181.00 L327.16,181.50 L326.67,182.00 L326.20,182.50 L325.73,183.00 L325.27,183.50 L324.80,184.00 L324.33,184.50 L323.86,185.00 L323.37,185.50 L322.86,186.00 L322.34,186.50 L321.83,187.00 L321.33,187.50 L320.87,188.00 L320.44,188.50 L320.05,189.00 L319.67,189.50 L319.31,190.00 L318.97,190.50 L318.65,191.00 L318.35,191.50 L318.07,192.00 L317.86,192.40 L317.9,192.4 Z" fill="#4DBBD5" stroke="#1a1a1a" stroke-width="1.45" stroke-linejoin="round"/>
<line x1="317.9" x2="317.9" y1="82.0" y2="238.6" stroke="#1a1a1a" stroke-width="1.3"/>
<path d="M370.1,76.0 L370.15,76.00 L370.14,76.50 L370.13,77.00 L370.13,77.50 L370.12,78.00 L370.11,78.50 L370.10,79.00 L370.09,79.50 L370.08,80.00 L370.08,80.50 L370.07,81.00 L370.06,81.50 L370.05,82.00 L370.04,82.50 L370.03,83.00 L370.02,83.50 L370.01,84.00 L370.00,84.50 L369.99,85.00 L369.98,85.50 L369.96,86.00 L369.95,86.50 L369.94,87.00 L369.93,87.50 L369.92,88.00 L369.91,88.50 L369.90,89.00 L369.89,89.50 L369.87,90.00 L369.86,90.50 L369.85,91.00 L369.84,91.50 L369.83,92.00 L369.81,92.50 L369.80,93.00 L369.79,93.50 L369.78,94.00 L369.76,94.50 L369.75,95.00 L369.74,95.50 L369.73,96.00 L369.71,96.50 L369.70,97.00 L369.69,97.50 L369.68,98.00 L369.67,98.50 L369.66,99.00 L369.64,99.50 L369.63,100.00 L369.62,100.50 L369.60,101.00 L369.59,101.50 L369.57,102.00 L369.55,102.50 L369.53,103.00 L369.51,103.50 L369.49,104.00 L369.47,104.50 L369.44,105.00 L369.40,105.50 L369.36,106.00 L369.30,106.50 L369.24,107.00 L369.17,107.50 L369.09,108.00 L369.00,108.50 L368.91,109.00 L368.80,109.50 L368.70,110.00 L368.58,110.50 L368.46,111.00 L368.34,111.50 L368.21,112.00 L368.08,112.50 L367.94,113.00 L367.80,113.50 L367.66,114.00 L367.51,114.50 L367.36,115.00 L367.18,115.50 L366.99,116.00 L366.77,116.50 L366.54,117.00 L366.29,117.50 L366.03,118.00 L365.75,118.50 L365.46,119.00 L365.17,119.50 L364.86,120.00 L364.55,120.50 L364.23,121.00 L363.92,121.50 L363.60,122.00 L363.28,122.50 L362.96,123.00 L362.65,123.50 L362.35,124.00 L362.05,124.50 L361.75,125.00 L361.45,125.50 L361.15,126.00 L360.83,126.50 L360.52,127.00 L360.20,127.50 L359.88,128.00 L359.56,128.50 L359.24,129.00 L358.91,129.50 L358.59,130.00 L358.27,130.50 L357.95,131.00 L357.63,131.50 L357.31,132.00 L357.00,132.50 L356.69,133.00 L356.38,133.50 L356.09,134.00 L355.79,134.50 L355.50,135.00 L355.20,135.50 L354.91,136.00 L354.61,136.50 L354.31,137.00 L354.02,137.50 L353.72,138.00 L353.43,138.50 L353.14,139.00 L352.86,139.50 L352.58,140.00 L352.30,140.50 L352.03,141.00 L351.77,141.50 L351.51,142.00 L351.27,142.50 L351.03,143.00 L350.80,143.50 L350.58,144.00 L350.37,144.50 L350.16,145.00 L349.94,145.50 L349.73,146.00 L349.52,146.50 L349.31,147.00 L349.10,147.50 L348.90,148.00 L348.70,148.50 L348.51,149.00 L348.32,149.50 L348.15,150.00 L347.98,150.50 L347.82,151.00 L347.68,151.50 L347.54,152.00 L347.43,152.50 L347.32,153.00 L347.23,153.50 L347.16,154.00 L347.10,154.50 L347.05,155.00 L346.99,155.50 L346.94,156.00 L346.89,156.50 L346.84,157.00 L346.79,157.50 L346.74,158.00 L346.70,158.50 L346.66,159.00 L346.62,159.50 L346.59,160.00 L346.56,160.50 L346.53,161.00 L346.51,161.50 L346.49,162.00 L346.47,162.50 L346.46,163.00 L346.45,163.50 L346.45,164.00 L346.46,164.50 L346.47,165.00 L346.50,165.50 L346.54,166.00 L346.58,166.50 L346.64,167.00 L346.70,167.50 L346.77,168.00 L346.85,168.50 L346.93,169.00 L347.02,169.50 L347.11,170.00 L347.21,170.50 L347.31,171.00 L347.42,171.50 L347.53,172.00 L347.64,172.50 L347.75,173.00 L347.86,173.50 L347.97,174.00 L348.10,174.50 L348.23,175.00 L348.39,175.50 L348.55,176.00 L348.73,176.50 L348.92,177.00 L349.12,177.50 L349.33,178.00 L349.55,178.50 L349.78,179.00 L350.02,179.50 L350.26,180.00 L350.50,180.50 L350.76,181.00 L351.01,181.50 L351.27,182.00 L351.53,182.50 L351.79,183.00 L352.05,183.50 L352.31,184.00 L352.58,184.50 L352.87,185.00 L353.17,185.50 L353.48,186.00 L353.80,186.50 L354.12,187.00 L354.45,187.50 L354.79,188.00 L355.14,188.50 L355.49,189.00 L355.84,189.50 L356.19,190.00 L356.54,190.50 L356.89,191.00 L357.24,191.50 L357.58,192.00 L357.92,192.50 L358.26,193.00 L358.59,193.50 L358.91,194.00 L359.24,194.50 L359.57,195.00 L359.90,195.50 L360.23,196.00 L360.57,196.50 L360.90,197.00 L361.24,197.50 L361.57,198.00 L361.90,198.50 L362.23,199.00 L362.55,199.50 L362.87,200.00 L363.19,200.50 L363.50,201.00 L363.80,201.50 L364.10,202.00 L364.39,202.50 L364.68,203.00 L364.95,203.50 L365.22,204.00 L365.49,204.50 L365.76,205.00 L366.03,205.50 L366.29,206.00 L366.56,206.50 L366.81,207.00 L367.07,207.50 L367.31,208.00 L367.55,208.50 L367.78,209.00 L368.00,209.50 L368.22,210.00 L368.42,210.50 L368.61,211.00 L368.79,211.50 L368.95,212.00 L369.10,212.50 L369.25,213.00 L369.39,213.50 L369.53,214.00 L369.65,214.50 L369.77,215.00 L369.89,215.50 L369.99,216.00 L370.08,216.50 L370.15,216.90 L370.1,216.9 Z" fill="#EFC000" stroke="#1a1a1a" stroke-width="1.45" stroke-linejoin="round"/>
<path d="M370.1,127.0 L370.15,127.00 L370.45,127.50 L370.75,128.00 L371.05,128.50 L371.35,129.00 L371.65,129.50 L371.96,130.00 L372.27,130.50 L372.58,131.00 L372.90,131.50 L373.21,132.00 L373.53,132.50 L373.86,133.00 L374.18,133.50 L374.51,134.00 L374.84,134.50 L375.17,135.00 L375.50,135.50 L375.84,136.00 L376.17,136.50 L376.51,137.00 L376.84,137.50 L377.18,138.00 L377.51,138.50 L377.85,139.00 L378.18,139.50 L378.52,140.00 L378.85,140.50 L379.19,141.00 L379.52,141.50 L379.86,142.00 L380.20,142.50 L380.53,143.00 L380.87,143.50 L381.21,144.00 L381.55,144.50 L381.89,145.00 L382.22,145.50 L382.56,146.00 L382.90,146.50 L383.24,147.00 L383.59,147.50 L383.93,148.00 L384.27,148.50 L384.61,149.00 L384.96,149.50 L385.32,150.00 L385.69,150.50 L386.07,151.00 L386.45,151.50 L386.85,152.00 L387.24,152.50 L387.64,153.00 L388.03,153.50 L388.42,154.00 L388.80,154.50 L389.18,155.00 L389.54,155.50 L389.89,156.00 L390.23,156.50 L390.55,157.00 L390.85,157.50 L391.13,158.00 L391.38,158.50 L391.61,159.00 L391.82,159.50 L392.03,160.00 L392.24,160.50 L392.45,161.00 L392.65,161.50 L392.86,162.00 L393.06,162.50 L393.25,163.00 L393.43,163.50 L393.61,164.00 L393.77,164.50 L393.93,165.00 L394.06,165.50 L394.19,166.00 L394.30,166.50 L394.39,167.00 L394.46,167.50 L394.51,168.00 L394.54,168.50 L394.55,169.00 L394.54,169.50 L394.50,170.00 L394.45,170.50 L394.39,171.00 L394.30,171.50 L394.21,172.00 L394.10,172.50 L393.99,173.00 L393.86,173.50 L393.73,174.00 L393.59,174.50 L393.45,175.00 L393.30,175.50 L393.15,176.00 L392.98,176.50 L392.78,177.00 L392.55,177.50 L392.29,178.00 L392.00,178.50 L391.69,179.00 L391.36,179.50 L391.01,180.00 L390.65,180.50 L390.27,181.00 L389.88,181.50 L389.48,182.00 L389.08,182.50 L388.67,183.00 L388.27,183.50 L387.86,184.00 L387.46,184.50 L387.07,185.00 L386.67,185.50 L386.25,186.00 L385.81,186.50 L385.37,187.00 L384.91,187.50 L384.45,188.00 L383.98,188.50 L383.51,189.00 L383.04,189.50 L382.57,190.00 L382.11,190.50 L381.65,191.00 L381.19,191.50 L380.73,192.00 L380.26,192.50 L379.78,193.00 L379.31,193.50 L378.85,194.00 L378.40,194.50 L377.96,195.00 L377.54,195.50 L377.15,196.00 L376.78,196.50 L376.42,197.00 L376.07,197.50 L375.73,198.00 L375.40,198.50 L375.08,199.00 L374.76,199.50 L374.45,200.00 L374.14,200.50 L373.83,201.00 L373.52,201.50 L373.21,202.00 L372.90,202.50 L372.59,203.00 L372.28,203.50 L371.98,204.00 L371.68,204.50 L371.38,205.00 L371.08,205.50 L370.79,206.00 L370.50,206.50 L370.21,207.00 L370.15,207.10 L370.1,207.1 Z" fill="#4DBBD5" stroke="#1a1a1a" stroke-width="1.45" stroke-linejoin="round"/>
<line x1="370.1" x2="370.1" y1="76.0" y2="237.2" stroke="#1a1a1a" stroke-width="1.3"/>
<path d="M422.4,75.0 L422.44,75.00 L422.44,75.50 L422.44,76.00 L422.44,76.50 L422.44,77.00 L422.43,77.50 L422.43,78.00 L422.43,78.50 L422.42,79.00 L422.42,79.50 L422.42,80.00 L422.41,80.50 L422.41,81.00 L422.40,81.50 L422.39,82.00 L422.39,82.50 L422.38,83.00 L422.37,83.50 L422.37,84.00 L422.36,84.50 L422.35,85.00 L422.34,85.50 L422.33,86.00 L422.32,86.50 L422.32,87.00 L422.31,87.50 L422.30,88.00 L422.29,88.50 L422.28,89.00 L422.27,89.50 L422.25,90.00 L422.24,90.50 L422.23,91.00 L422.22,91.50 L422.21,92.00 L422.20,92.50 L422.19,93.00 L422.18,93.50 L422.16,94.00 L422.15,94.50 L422.14,95.00 L422.13,95.50 L422.11,96.00 L422.10,96.50 L422.08,97.00 L422.06,97.50 L422.04,98.00 L422.02,98.50 L421.99,99.00 L421.96,99.50 L421.93,100.00 L421.90,100.50 L421.86,101.00 L421.82,101.50 L421.77,102.00 L421.71,102.50 L421.65,103.00 L421.59,103.50 L421.52,104.00 L421.45,104.50 L421.37,105.00 L421.29,105.50 L421.20,106.00 L421.11,106.50 L421.02,107.00 L420.92,107.50 L420.82,108.00 L420.71,108.50 L420.60,109.00 L420.49,109.50 L420.37,110.00 L420.22,110.50 L420.06,111.00 L419.88,111.50 L419.68,112.00 L419.46,112.50 L419.23,113.00 L418.99,113.50 L418.73,114.00 L418.47,114.50 L418.19,115.00 L417.91,115.50 L417.62,116.00 L417.33,116.50 L417.04,117.00 L416.75,117.50 L416.45,118.00 L416.16,118.50 L415.88,119.00 L415.60,119.50 L415.32,120.00 L415.03,120.50 L414.73,121.00 L414.42,121.50 L414.11,122.00 L413.79,122.50 L413.46,123.00 L413.14,123.50 L412.81,124.00 L412.48,124.50 L412.15,125.00 L411.82,125.50 L411.49,126.00 L411.16,126.50 L410.84,127.00 L410.53,127.50 L410.22,128.00 L409.92,128.50 L409.62,129.00 L409.34,129.50 L409.06,130.00 L408.79,130.50 L408.52,131.00 L408.25,131.50 L407.98,132.00 L407.71,132.50 L407.45,133.00 L407.19,133.50 L406.94,134.00 L406.68,134.50 L406.43,135.00 L406.19,135.50 L405.94,136.00 L405.70,136.50 L405.47,137.00 L405.24,137.50 L405.01,138.00 L404.79,138.50 L404.57,139.00 L404.35,139.50 L404.14,140.00 L403.92,140.50 L403.71,141.00 L403.49,141.50 L403.28,142.00 L403.07,142.50 L402.86,143.00 L402.65,143.50 L402.45,144.00 L402.25,144.50 L402.06,145.00 L401.88,145.50 L401.70,146.00 L401.52,146.50 L401.36,147.00 L401.20,147.50 L401.05,148.00 L400.92,148.50 L400.79,149.00 L400.67,149.50 L400.55,150.00 L400.43,150.50 L400.31,151.00 L400.19,151.50 L400.07,152.00 L399.95,152.50 L399.84,153.00 L399.73,153.50 L399.63,154.00 L399.53,154.50 L399.44,155.00 L399.35,155.50 L399.28,156.00 L399.21,156.50 L399.15,157.00 L399.11,157.50 L399.07,158.00 L399.05,158.50 L399.04,159.00 L399.04,159.50 L399.04,160.00 L399.05,160.50 L399.06,161.00 L399.07,161.50 L399.08,162.00 L399.10,162.50 L399.12,163.00 L399.14,163.50 L399.16,164.00 L399.18,164.50 L399.21,165.00 L399.23,165.50 L399.26,166.00 L399.29,166.50 L399.32,167.00 L399.35,167.50 L399.38,168.00 L399.41,168.50 L399.45,169.00 L399.49,169.50 L399.53,170.00 L399.58,170.50 L399.64,171.00 L399.71,171.50 L399.78,172.00 L399.86,172.50 L399.94,173.00 L400.02,173.50 L400.12,174.00 L400.21,174.50 L400.31,175.00 L400.41,175.50 L400.52,176.00 L400.63,176.50 L400.74,177.00 L400.86,177.50 L400.99,178.00 L401.13,178.50 L401.28,179.00 L401.45,179.50 L401.62,180.00 L401.80,180.50 L401.99,181.00 L402.19,181.50 L402.39,182.00 L402.60,182.50 L402.82,183.00 L403.04,183.50 L403.27,184.00 L403.50,184.50 L403.73,185.00 L403.96,185.50 L404.20,186.00 L404.44,186.50 L404.68,187.00 L404.94,187.50 L405.21,188.00 L405.48,188.50 L405.77,189.00 L406.06,189.50 L406.36,190.00 L406.67,190.50 L406.98,191.00 L407.30,191.50 L407.63,192.00 L407.96,192.50 L408.29,193.00 L408.62,193.50 L408.96,194.00 L409.29,194.50 L409.63,195.00 L409.97,195.50 L410.31,196.00 L410.64,196.50 L410.98,197.00 L411.33,197.50 L411.69,198.00 L412.06,198.50 L412.43,199.00 L412.81,199.50 L413.18,200.00 L413.56,200.50 L413.94,201.00 L414.32,201.50 L414.69,202.00 L415.06,202.50 L415.42,203.00 L415.77,203.50 L416.10,204.00 L416.43,204.50 L416.74,205.00 L417.04,205.50 L417.34,206.00 L417.64,206.50 L417.93,207.00 L418.22,207.50 L418.50,208.00 L418.77,208.50 L419.04,209.00 L419.30,209.50 L419.55,210.00 L419.79,210.50 L420.02,211.00 L420.23,211.50 L420.44,212.00 L420.64,212.50 L420.83,213.00 L421.02,213.50 L421.20,214.00 L421.37,214.50 L421.54,215.00 L421.70,215.50 L421.86,216.00 L422.00,216.50 L422.14,217.00 L422.27,217.50 L422.39,218.00 L422.44,218.20 L422.4,218.2 Z" fill="#EFC000" stroke="#1a1a1a" stroke-width="1.45" stroke-linejoin="round"/>
<path d="M422.4,124.5 L422.44,124.50 L422.65,125.00 L422.87,125.50 L423.09,126.00 L423.33,126.50 L423.58,127.00 L423.83,127.50 L424.10,128.00 L424.37,128.50 L424.65,129.00 L424.94,129.50 L425.24,130.00 L425.56,130.50 L425.90,131.00 L426.25,131.50 L426.61,132.00 L426.99,132.50 L427.37,133.00 L427.75,133.50 L428.14,134.00 L428.53,134.50 L428.91,135.00 L429.30,135.50 L429.68,136.00 L430.05,136.50 L430.41,137.00 L430.77,137.50 L431.13,138.00 L431.48,138.50 L431.84,139.00 L432.20,139.50 L432.55,140.00 L432.91,140.50 L433.26,141.00 L433.61,141.50 L433.96,142.00 L434.32,142.50 L434.67,143.00 L435.02,143.50 L435.37,144.00 L435.71,144.50 L436.06,145.00 L436.41,145.50 L436.76,146.00 L437.10,146.50 L437.45,147.00 L437.81,147.50 L438.17,148.00 L438.55,148.50 L438.92,149.00 L439.31,149.50 L439.69,150.00 L440.07,150.50 L440.45,151.00 L440.83,151.50 L441.20,152.00 L441.56,152.50 L441.91,153.00 L442.24,153.50 L442.57,154.00 L442.87,154.50 L443.16,155.00 L443.43,155.50 L443.68,156.00 L443.90,156.50 L444.10,157.00 L444.31,157.50 L444.52,158.00 L444.73,158.50 L444.93,159.00 L445.13,159.50 L445.33,160.00 L445.52,160.50 L445.70,161.00 L445.88,161.50 L446.04,162.00 L446.20,162.50 L446.34,163.00 L446.46,163.50 L446.57,164.00 L446.66,164.50 L446.74,165.00 L446.79,165.50 L446.83,166.00 L446.84,166.50 L446.83,167.00 L446.81,167.50 L446.77,168.00 L446.73,168.50 L446.67,169.00 L446.59,169.50 L446.51,170.00 L446.42,170.50 L446.32,171.00 L446.21,171.50 L446.09,172.00 L445.97,172.50 L445.84,173.00 L445.71,173.50 L445.57,174.00 L445.43,174.50 L445.29,175.00 L445.14,175.50 L444.98,176.00 L444.78,176.50 L444.56,177.00 L444.31,177.50 L444.04,178.00 L443.74,178.50 L443.42,179.00 L443.09,179.50 L442.74,180.00 L442.37,180.50 L441.99,181.00 L441.61,181.50 L441.21,182.00 L440.82,182.50 L440.41,183.00 L440.01,183.50 L439.61,184.00 L439.21,184.50 L438.82,185.00 L438.44,185.50 L438.05,186.00 L437.65,186.50 L437.24,187.00 L436.82,187.50 L436.38,188.00 L435.94,188.50 L435.49,189.00 L435.04,189.50 L434.58,190.00 L434.12,190.50 L433.66,191.00 L433.20,191.50 L432.74,192.00 L432.29,192.50 L431.84,193.00 L431.40,193.50 L430.97,194.00 L430.55,194.50 L430.14,195.00 L429.74,195.50 L429.35,196.00 L428.98,196.50 L428.61,197.00 L428.24,197.50 L427.88,198.00 L427.53,198.50 L427.17,199.00 L426.82,199.50 L426.48,200.00 L426.13,200.50 L425.79,201.00 L425.44,201.50 L425.09,202.00 L424.74,202.50 L424.39,203.00 L424.04,203.50 L423.69,204.00 L423.34,204.50 L422.99,205.00 L422.65,205.50 L422.44,205.80 L422.4,205.8 Z" fill="#4DBBD5" stroke="#1a1a1a" stroke-width="1.45" stroke-linejoin="round"/>
<line x1="422.4" x2="422.4" y1="75.0" y2="239.6" stroke="#1a1a1a" stroke-width="1.3"/>
<path d="M474.7,69.7 L474.73,69.70 L474.73,70.20 L474.73,70.70 L474.73,71.20 L474.73,71.70 L474.73,72.20 L474.73,72.70 L474.73,73.20 L474.73,73.70 L474.73,74.20 L474.72,74.70 L474.72,75.20 L474.72,75.70 L474.72,76.20 L474.72,76.70 L474.72,77.20 L474.71,77.70 L474.71,78.20 L474.71,78.70 L474.71,79.20 L474.71,79.70 L474.70,80.20 L474.70,80.70 L474.70,81.20 L474.70,81.70 L474.69,82.20 L474.69,82.70 L474.69,83.20 L474.69,83.70 L474.68,84.20 L474.68,84.70 L474.68,85.20 L474.67,85.70 L474.67,86.20 L474.67,86.70 L474.66,87.20 L474.66,87.70 L474.65,88.20 L474.65,88.70 L474.65,89.20 L474.64,89.70 L474.64,90.20 L474.63,90.70 L474.63,91.20 L474.63,91.70 L474.62,92.20 L474.62,92.70 L474.61,93.20 L474.61,93.70 L474.60,94.20 L474.60,94.70 L474.59,95.20 L474.59,95.70 L474.58,96.20 L474.58,96.70 L474.57,97.20 L474.57,97.70 L474.56,98.20 L474.56,98.70 L474.55,99.20 L474.55,99.70 L474.54,100.20 L474.54,100.70 L474.53,101.20 L474.53,101.70 L474.52,102.20 L474.52,102.70 L474.51,103.20 L474.50,103.70 L474.50,104.20 L474.49,104.70 L474.49,105.20 L474.48,105.70 L474.48,106.20 L474.47,106.70 L474.46,107.20 L474.46,107.70 L474.45,108.20 L474.45,108.70 L474.44,109.20 L474.43,109.70 L474.43,110.20 L474.42,110.70 L474.42,111.20 L474.41,111.70 L474.40,112.20 L474.40,112.70 L474.39,113.20 L474.38,113.70 L474.37,114.20 L474.37,114.70 L474.36,115.20 L474.35,115.70 L474.34,116.20 L474.32,116.70 L474.31,117.20 L474.30,117.70 L474.28,118.20 L474.26,118.70 L474.25,119.20 L474.23,119.70 L474.19,120.20 L474.13,120.70 L474.06,121.20 L473.96,121.70 L473.85,122.20 L473.73,122.70 L473.59,123.20 L473.44,123.70 L473.27,124.20 L473.10,124.70 L472.92,125.20 L472.73,125.70 L472.54,126.20 L472.35,126.70 L472.15,127.20 L471.91,127.70 L471.64,128.20 L471.33,128.70 L470.99,129.20 L470.63,129.70 L470.25,130.20 L469.85,130.70 L469.44,131.20 L469.02,131.70 L468.60,132.20 L468.18,132.70 L467.77,133.20 L467.37,133.70 L466.98,134.20 L466.61,134.70 L466.23,135.20 L465.85,135.70 L465.46,136.20 L465.06,136.70 L464.67,137.20 L464.27,137.70 L463.87,138.20 L463.47,138.70 L463.08,139.20 L462.68,139.70 L462.30,140.20 L461.91,140.70 L461.54,141.20 L461.17,141.70 L460.81,142.20 L460.46,142.70 L460.12,143.20 L459.80,143.70 L459.49,144.20 L459.19,144.70 L458.90,145.20 L458.61,145.70 L458.32,146.20 L458.04,146.70 L457.76,147.20 L457.49,147.70 L457.23,148.20 L456.96,148.70 L456.71,149.20 L456.46,149.70 L456.21,150.20 L455.98,150.70 L455.74,151.20 L455.52,151.70 L455.30,152.20 L455.09,152.70 L454.88,153.20 L454.68,153.70 L454.49,154.20 L454.30,154.70 L454.10,155.20 L453.90,155.70 L453.70,156.20 L453.50,156.70 L453.30,157.20 L453.11,157.70 L452.92,158.20 L452.73,158.70 L452.56,159.20 L452.39,159.70 L452.23,160.20 L452.09,160.70 L451.95,161.20 L451.84,161.70 L451.74,162.20 L451.65,162.70 L451.59,163.20 L451.55,163.70 L451.52,164.20 L451.50,164.70 L451.49,165.20 L451.47,165.70 L451.45,166.20 L451.44,166.70 L451.43,167.20 L451.41,167.70 L451.40,168.20 L451.39,168.70 L451.38,169.20 L451.37,169.70 L451.36,170.20 L451.35,170.70 L451.35,171.20 L451.34,171.70 L451.34,172.20 L451.33,172.70 L451.33,173.20 L451.33,173.70 L451.33,174.20 L451.35,174.70 L451.38,175.20 L451.43,175.70 L451.48,176.20 L451.55,176.70 L451.64,177.20 L451.73,177.70 L451.82,178.20 L451.93,178.70 L452.05,179.20 L452.17,179.70 L452.29,180.20 L452.42,180.70 L452.55,181.20 L452.69,181.70 L452.82,182.20 L452.96,182.70 L453.10,183.20 L453.23,183.70 L453.37,184.20 L453.52,184.70 L453.68,185.20 L453.84,185.70 L454.02,186.20 L454.21,186.70 L454.40,187.20 L454.60,187.70 L454.81,188.20 L455.03,188.70 L455.25,189.20 L455.48,189.70 L455.71,190.20 L455.95,190.70 L456.20,191.20 L456.45,191.70 L456.70,192.20 L456.96,192.70 L457.22,193.20 L457.48,193.70 L457.76,194.20 L458.05,194.70 L458.36,195.20 L458.68,195.70 L459.01,196.20 L459.35,196.70 L459.70,197.20 L460.06,197.70 L460.43,198.20 L460.80,198.70 L461.18,199.20 L461.56,199.70 L461.94,200.20 L462.32,200.70 L462.70,201.20 L463.07,201.70 L463.44,202.20 L463.81,202.70 L464.17,203.20 L464.52,203.70 L464.87,204.20 L465.22,204.70 L465.57,205.20 L465.94,205.70 L466.30,206.20 L466.67,206.70 L467.04,207.20 L467.41,207.70 L467.78,208.20 L468.15,208.70 L468.51,209.20 L468.87,209.70 L469.22,210.20 L469.56,210.70 L469.89,211.20 L470.21,211.70 L470.52,212.20 L470.81,212.70 L471.09,213.20 L471.35,213.70 L471.59,214.20 L471.82,214.70 L472.03,215.20 L472.24,215.70 L472.43,216.20 L472.63,216.70 L472.81,217.20 L472.99,217.70 L473.16,218.20 L473.32,218.70 L473.48,219.20 L473.63,219.70 L473.78,220.20 L473.92,220.70 L474.05,221.20 L474.18,221.70 L474.30,222.20 L474.42,222.70 L474.52,223.20 L474.62,223.70 L474.71,224.20 L474.73,224.30 L474.7,224.3 Z" fill="#EFC000" stroke="#1a1a1a" stroke-width="1.45" stroke-linejoin="round"/>
<path d="M474.7,141.8 L474.73,141.80 L475.11,142.30 L475.50,142.80 L475.92,143.30 L476.35,143.80 L476.79,144.30 L477.25,144.80 L477.73,145.30 L478.23,145.80 L478.76,146.30 L479.32,146.80 L479.90,147.30 L480.50,147.80 L481.11,148.30 L481.73,148.80 L482.36,149.30 L482.99,149.80 L483.62,150.30 L484.24,150.80 L484.85,151.30 L485.45,151.80 L486.05,152.30 L486.67,152.80 L487.30,153.30 L487.94,153.80 L488.58,154.30 L489.22,154.80 L489.86,155.30 L490.48,155.80 L491.08,156.30 L491.66,156.80 L492.22,157.30 L492.74,157.80 L493.23,158.30 L493.68,158.80 L494.09,159.30 L494.50,159.80 L494.92,160.30 L495.34,160.80 L495.75,161.30 L496.16,161.80 L496.55,162.30 L496.92,162.80 L497.26,163.30 L497.57,163.80 L497.84,164.30 L498.07,164.80 L498.24,165.30 L498.36,165.80 L498.42,166.30 L498.42,166.80 L498.37,167.30 L498.28,167.80 L498.15,168.30 L497.99,168.80 L497.80,169.30 L497.58,169.80 L497.34,170.30 L497.08,170.80 L496.80,171.30 L496.51,171.80 L496.21,172.30 L495.90,172.80 L495.60,173.30 L495.29,173.80 L494.97,174.30 L494.61,174.80 L494.19,175.30 L493.75,175.80 L493.26,176.30 L492.75,176.80 L492.22,177.30 L491.68,177.80 L491.12,178.30 L490.55,178.80 L489.99,179.30 L489.43,179.80 L488.88,180.30 L488.34,180.80 L487.83,181.30 L487.33,181.80 L486.82,182.30 L486.30,182.80 L485.78,183.30 L485.26,183.80 L484.74,184.30 L484.22,184.80 L483.71,185.30 L483.20,185.80 L482.70,186.30 L482.20,186.80 L481.72,187.30 L481.25,187.80 L480.79,188.30 L480.34,188.80 L479.91,189.30 L479.49,189.80 L479.09,190.30 L478.69,190.80 L478.30,191.30 L477.91,191.80 L477.53,192.30 L477.14,192.80 L476.76,193.30 L476.38,193.80 L476.00,194.30 L475.62,194.80 L475.25,195.30 L474.88,195.80 L474.73,196.00 L474.7,196.0 Z" fill="#4DBBD5" stroke="#1a1a1a" stroke-width="1.45" stroke-linejoin="round"/>
<line x1="474.7" x2="474.7" y1="69.7" y2="246.5" stroke="#1a1a1a" stroke-width="1.3"/>
<path d="M527.0,55.7 L527.02,55.70 L527.01,56.20 L527.01,56.70 L527.00,57.20 L527.00,57.70 L526.99,58.20 L526.98,58.70 L526.97,59.20 L526.96,59.70 L526.95,60.20 L526.95,60.70 L526.94,61.20 L526.93,61.70 L526.91,62.20 L526.90,62.70 L526.89,63.20 L526.88,63.70 L526.87,64.20 L526.86,64.70 L526.84,65.20 L526.83,65.70 L526.82,66.20 L526.81,66.70 L526.79,67.20 L526.78,67.70 L526.76,68.20 L526.75,68.70 L526.74,69.20 L526.72,69.70 L526.71,70.20 L526.69,70.70 L526.68,71.20 L526.67,71.70 L526.65,72.20 L526.64,72.70 L526.62,73.20 L526.60,73.70 L526.59,74.20 L526.57,74.70 L526.55,75.20 L526.53,75.70 L526.51,76.20 L526.49,76.70 L526.46,77.20 L526.44,77.70 L526.41,78.20 L526.38,78.70 L526.35,79.20 L526.32,79.70 L526.28,80.20 L526.24,80.70 L526.18,81.20 L526.12,81.70 L526.05,82.20 L525.97,82.70 L525.89,83.20 L525.80,83.70 L525.70,84.20 L525.61,84.70 L525.50,85.20 L525.40,85.70 L525.29,86.20 L525.17,86.70 L525.06,87.20 L524.94,87.70 L524.83,88.20 L524.71,88.70 L524.59,89.20 L524.47,89.70 L524.35,90.20 L524.22,90.70 L524.08,91.20 L523.94,91.70 L523.80,92.20 L523.65,92.70 L523.49,93.20 L523.33,93.70 L523.17,94.20 L523.00,94.70 L522.83,95.20 L522.66,95.70 L522.48,96.20 L522.30,96.70 L522.12,97.20 L521.94,97.70 L521.76,98.20 L521.58,98.70 L521.39,99.20 L521.21,99.70 L521.02,100.20 L520.83,100.70 L520.63,101.20 L520.43,101.70 L520.22,102.20 L520.01,102.70 L519.80,103.20 L519.59,103.70 L519.37,104.20 L519.15,104.70 L518.93,105.20 L518.71,105.70 L518.49,106.20 L518.27,106.70 L518.05,107.20 L517.82,107.70 L517.60,108.20 L517.38,108.70 L517.16,109.20 L516.94,109.70 L516.72,110.20 L516.50,110.70 L516.27,111.20 L516.04,111.70 L515.81,112.20 L515.58,112.70 L515.35,113.20 L515.12,113.70 L514.89,114.20 L514.65,114.70 L514.42,115.20 L514.20,115.70 L513.97,116.20 L513.75,116.70 L513.53,117.20 L513.31,117.70 L513.09,118.20 L512.88,118.70 L512.68,119.20 L512.48,119.70 L512.27,120.20 L512.08,120.70 L511.88,121.20 L511.68,121.70 L511.49,122.20 L511.29,122.70 L511.10,123.20 L510.91,123.70 L510.72,124.20 L510.54,124.70 L510.35,125.20 L510.17,125.70 L509.99,126.20 L509.81,126.70 L509.64,127.20 L509.46,127.70 L509.29,128.20 L509.12,128.70 L508.95,129.20 L508.78,129.70 L508.61,130.20 L508.44,130.70 L508.27,131.20 L508.10,131.70 L507.93,132.20 L507.76,132.70 L507.59,133.20 L507.43,133.70 L507.27,134.20 L507.11,134.70 L506.96,135.20 L506.81,135.70 L506.67,136.20 L506.53,136.70 L506.40,137.20 L506.28,137.70 L506.16,138.20 L506.06,138.70 L505.96,139.20 L505.87,139.70 L505.78,140.20 L505.69,140.70 L505.61,141.20 L505.52,141.70 L505.45,142.20 L505.37,142.70 L505.29,143.20 L505.22,143.70 L505.15,144.20 L505.09,144.70 L505.02,145.20 L504.96,145.70 L504.90,146.20 L504.84,146.70 L504.78,147.20 L504.73,147.70 L504.67,148.20 L504.62,148.70 L504.57,149.20 L504.51,149.70 L504.46,150.20 L504.40,150.70 L504.35,151.20 L504.29,151.70 L504.24,152.20 L504.19,152.70 L504.14,153.20 L504.09,153.70 L504.04,154.20 L504.00,154.70 L503.96,155.20 L503.92,155.70 L503.89,156.20 L503.87,156.70 L503.85,157.20 L503.83,157.70 L503.82,158.20 L503.82,158.70 L503.82,159.20 L503.82,159.70 L503.83,160.20 L503.83,160.70 L503.84,161.20 L503.84,161.70 L503.85,162.20 L503.86,162.70 L503.87,163.20 L503.88,163.70 L503.89,164.20 L503.90,164.70 L503.91,165.20 L503.93,165.70 L503.94,166.20 L503.96,166.70 L503.97,167.20 L503.99,167.70 L504.01,168.20 L504.03,168.70 L504.06,169.20 L504.10,169.70 L504.16,170.20 L504.23,170.70 L504.30,171.20 L504.39,171.70 L504.49,172.20 L504.59,172.70 L504.71,173.20 L504.83,173.70 L504.95,174.20 L505.08,174.70 L505.22,175.20 L505.36,175.70 L505.50,176.20 L505.65,176.70 L505.79,177.20 L505.94,177.70 L506.09,178.20 L506.23,178.70 L506.38,179.20 L506.52,179.70 L506.66,180.20 L506.82,180.70 L506.97,181.20 L507.14,181.70 L507.31,182.20 L507.48,182.70 L507.66,183.20 L507.85,183.70 L508.04,184.20 L508.23,184.70 L508.43,185.20 L508.62,185.70 L508.82,186.20 L509.03,186.70 L509.23,187.20 L509.44,187.70 L509.64,188.20 L509.85,188.70 L510.06,189.20 L510.26,189.70 L510.47,190.20 L510.68,190.70 L510.89,191.20 L511.11,191.70 L511.33,192.20 L511.55,192.70 L511.77,193.20 L512.00,193.70 L512.23,194.20 L512.46,194.70 L512.69,195.20 L512.92,195.70 L513.16,196.20 L513.39,196.70 L513.63,197.20 L513.86,197.70 L514.10,198.20 L514.34,198.70 L514.58,199.20 L514.82,199.70 L515.06,200.20 L515.30,200.70 L515.55,201.20 L515.80,201.70 L516.06,202.20 L516.31,202.70 L516.57,203.20 L516.83,203.70 L517.09,204.20 L517.35,204.70 L517.60,205.20 L517.86,205.70 L518.11,206.20 L518.37,206.70 L518.61,207.20 L518.86,207.70 L519.10,208.20 L519.34,208.70 L519.57,209.20 L519.80,209.70 L520.03,210.20 L520.26,210.70 L520.48,211.20 L520.71,211.70 L520.93,212.20 L521.15,212.70 L521.37,213.20 L521.59,213.70 L521.80,214.20 L522.02,214.70 L522.23,215.20 L522.44,215.70 L522.64,216.20 L522.85,216.70 L523.05,217.20 L523.24,217.70 L523.44,218.20 L523.63,218.70 L523.82,219.20 L524.01,219.70 L524.19,220.20 L524.37,220.70 L524.55,221.20 L524.72,221.70 L524.89,222.20 L525.06,222.70 L525.23,223.20 L525.40,223.70 L525.56,224.20 L525.72,224.70 L525.88,225.20 L526.04,225.70 L526.20,226.20 L526.35,226.70 L526.50,227.20 L526.65,227.70 L526.79,228.20 L526.94,228.70 L527.02,229.00 L527.0,229.0 Z" fill="#EFC000" stroke="#1a1a1a" stroke-width="1.45" stroke-linejoin="round"/>
<path d="M527.0,95.7 L527.02,95.70 L527.08,96.20 L527.15,96.70 L527.22,97.20 L527.30,97.70 L527.38,98.20 L527.47,98.70 L527.56,99.20 L527.66,99.70 L527.76,100.20 L527.86,100.70 L527.97,101.20 L528.09,101.70 L528.20,102.20 L528.32,102.70 L528.44,103.20 L528.57,103.70 L528.69,104.20 L528.83,104.70 L528.97,105.20 L529.12,105.70 L529.28,106.20 L529.46,106.70 L529.63,107.20 L529.82,107.70 L530.01,108.20 L530.21,108.70 L530.41,109.20 L530.61,109.70 L530.81,110.20 L531.02,110.70 L531.22,111.20 L531.43,111.70 L531.63,112.20 L531.84,112.70 L532.04,113.20 L532.23,113.70 L532.42,114.20 L532.61,114.70 L532.80,115.20 L532.99,115.70 L533.18,116.20 L533.37,116.70 L533.56,117.20 L533.75,117.70 L533.94,118.20 L534.13,118.70 L534.32,119.20 L534.51,119.70 L534.70,120.20 L534.89,120.70 L535.07,121.20 L535.26,121.70 L535.44,122.20 L535.62,122.70 L535.80,123.20 L535.98,123.70 L536.15,124.20 L536.33,124.70 L536.50,125.20 L536.67,125.70 L536.84,126.20 L537.01,126.70 L537.17,127.20 L537.34,127.70 L537.50,128.20 L537.66,128.70 L537.83,129.20 L537.99,129.70 L538.15,130.20 L538.31,130.70 L538.47,131.20 L538.63,131.70 L538.78,132.20 L538.94,132.70 L539.10,133.20 L539.26,133.70 L539.41,134.20 L539.57,134.70 L539.72,135.20 L539.87,135.70 L540.02,136.20 L540.17,136.70 L540.31,137.20 L540.46,137.70 L540.61,138.20 L540.75,138.70 L540.90,139.20 L541.04,139.70 L541.19,140.20 L541.34,140.70 L541.49,141.20 L541.65,141.70 L541.80,142.20 L541.96,142.70 L542.12,143.20 L542.29,143.70 L542.46,144.20 L542.63,144.70 L542.81,145.20 L542.99,145.70 L543.18,146.20 L543.37,146.70 L543.56,147.20 L543.76,147.70 L543.95,148.20 L544.15,148.70 L544.34,149.20 L544.54,149.70 L544.74,150.20 L544.93,150.70 L545.12,151.20 L545.31,151.70 L545.49,152.20 L545.67,152.70 L545.85,153.20 L546.02,153.70 L546.19,154.20 L546.36,154.70 L546.52,155.20 L546.69,155.70 L546.85,156.20 L547.02,156.70 L547.18,157.20 L547.34,157.70 L547.50,158.20 L547.65,158.70 L547.81,159.20 L547.96,159.70 L548.11,160.20 L548.26,160.70 L548.40,161.20 L548.54,161.70 L548.68,162.20 L548.81,162.70 L548.94,163.20 L549.07,163.70 L549.21,164.20 L549.35,164.70 L549.50,165.20 L549.64,165.70 L549.78,166.20 L549.92,166.70 L550.05,167.20 L550.16,167.70 L550.26,168.20 L550.34,168.70 L550.39,169.20 L550.42,169.70 L550.42,170.20 L550.40,170.70 L550.37,171.20 L550.33,171.70 L550.27,172.20 L550.20,172.70 L550.13,173.20 L550.04,173.70 L549.94,174.20 L549.83,174.70 L549.72,175.20 L549.60,175.70 L549.48,176.20 L549.35,176.70 L549.22,177.20 L549.08,177.70 L548.94,178.20 L548.80,178.70 L548.66,179.20 L548.52,179.70 L548.37,180.20 L548.20,180.70 L548.02,181.20 L547.81,181.70 L547.60,182.20 L547.36,182.70 L547.12,183.20 L546.87,183.70 L546.60,184.20 L546.33,184.70 L546.05,185.20 L545.77,185.70 L545.48,186.20 L545.19,186.70 L544.90,187.20 L544.61,187.70 L544.32,188.20 L544.03,188.70 L543.74,189.20 L543.46,189.70 L543.18,190.20 L542.89,190.70 L542.59,191.20 L542.29,191.70 L541.98,192.20 L541.66,192.70 L541.34,193.20 L541.02,193.70 L540.70,194.20 L540.38,194.70 L540.05,195.20 L539.73,195.70 L539.41,196.20 L539.10,196.70 L538.78,197.20 L538.48,197.70 L538.17,198.20 L537.88,198.70 L537.59,199.20 L537.31,199.70 L537.03,200.20 L536.75,200.70 L536.48,201.20 L536.20,201.70 L535.93,202.20 L535.66,202.70 L535.40,203.20 L535.13,203.70 L534.87,204.20 L534.61,204.70 L534.35,205.20 L534.10,205.70 L533.86,206.20 L533.61,206.70 L533.37,207.20 L533.14,207.70 L532.91,208.20 L532.68,208.70 L532.46,209.20 L532.25,209.70 L532.04,210.20 L531.84,210.70 L531.65,211.20 L531.46,211.70 L531.28,212.20 L531.10,212.70 L530.92,213.20 L530.75,213.70 L530.57,214.20 L530.40,214.70 L530.22,215.20 L530.05,215.70 L529.87,216.20 L529.69,216.70 L529.51,217.20 L529.32,217.70 L529.12,218.20 L528.93,218.70 L528.72,219.20 L528.51,219.70 L528.29,220.20 L528.06,220.70 L527.83,221.20 L527.59,221.70 L527.36,222.20 L527.12,222.70 L527.02,222.90 L527.0,222.9 Z" fill="#4DBBD5" stroke="#1a1a1a" stroke-width="1.45" stroke-linejoin="round"/>
<line x1="527.0" x2="527.0" y1="55.7" y2="251.3" stroke="#1a1a1a" stroke-width="1.3"/>
<path d="M579.3,55.7 L579.31,55.70 L579.29,56.20 L579.26,56.70 L579.24,57.20 L579.21,57.70 L579.19,58.20 L579.16,58.70 L579.14,59.20 L579.11,59.70 L579.08,60.20 L579.06,60.70 L579.03,61.20 L579.00,61.70 L578.97,62.20 L578.94,62.70 L578.91,63.20 L578.88,63.70 L578.85,64.20 L578.82,64.70 L578.79,65.20 L578.76,65.70 L578.73,66.20 L578.71,66.70 L578.68,67.20 L578.65,67.70 L578.62,68.20 L578.59,68.70 L578.56,69.20 L578.53,69.70 L578.50,70.20 L578.47,70.70 L578.43,71.20 L578.40,71.70 L578.36,72.20 L578.31,72.70 L578.27,73.20 L578.22,73.70 L578.17,74.20 L578.11,74.70 L578.04,75.20 L577.96,75.70 L577.86,76.20 L577.74,76.70 L577.61,77.20 L577.47,77.70 L577.32,78.20 L577.15,78.70 L576.98,79.20 L576.80,79.70 L576.62,80.20 L576.43,80.70 L576.23,81.20 L576.03,81.70 L575.84,82.20 L575.64,82.70 L575.44,83.20 L575.25,83.70 L575.06,84.20 L574.87,84.70 L574.69,85.20 L574.49,85.70 L574.30,86.20 L574.09,86.70 L573.89,87.20 L573.68,87.70 L573.47,88.20 L573.25,88.70 L573.04,89.20 L572.82,89.70 L572.60,90.20 L572.38,90.70 L572.16,91.20 L571.93,91.70 L571.71,92.20 L571.49,92.70 L571.27,93.20 L571.05,93.70 L570.84,94.20 L570.62,94.70 L570.41,95.20 L570.20,95.70 L569.98,96.20 L569.77,96.70 L569.55,97.20 L569.33,97.70 L569.12,98.20 L568.90,98.70 L568.68,99.20 L568.47,99.70 L568.25,100.20 L568.04,100.70 L567.82,101.20 L567.61,101.70 L567.39,102.20 L567.18,102.70 L566.97,103.20 L566.76,103.70 L566.55,104.20 L566.34,104.70 L566.13,105.20 L565.92,105.70 L565.71,106.20 L565.50,106.70 L565.28,107.20 L565.07,107.70 L564.86,108.20 L564.65,108.70 L564.44,109.20 L564.23,109.70 L564.02,110.20 L563.82,110.70 L563.62,111.20 L563.42,111.70 L563.23,112.20 L563.04,112.70 L562.86,113.20 L562.68,113.70 L562.51,114.20 L562.34,114.70 L562.18,115.20 L562.02,115.70 L561.86,116.20 L561.70,116.70 L561.55,117.20 L561.40,117.70 L561.25,118.20 L561.11,118.70 L560.96,119.20 L560.82,119.70 L560.68,120.20 L560.54,120.70 L560.40,121.20 L560.26,121.70 L560.13,122.20 L559.99,122.70 L559.86,123.20 L559.72,123.70 L559.58,124.20 L559.44,124.70 L559.30,125.20 L559.16,125.70 L559.02,126.20 L558.88,126.70 L558.73,127.20 L558.59,127.70 L558.45,128.20 L558.31,128.70 L558.17,129.20 L558.04,129.70 L557.91,130.20 L557.78,130.70 L557.66,131.20 L557.54,131.70 L557.43,132.20 L557.33,132.70 L557.23,133.20 L557.14,133.70 L557.06,134.20 L556.98,134.70 L556.89,135.20 L556.81,135.70 L556.72,136.20 L556.64,136.70 L556.56,137.20 L556.48,137.70 L556.40,138.20 L556.33,138.70 L556.26,139.20 L556.19,139.70 L556.13,140.20 L556.08,140.70 L556.03,141.20 L555.99,141.70 L555.96,142.20 L555.93,142.70 L555.92,143.20 L555.91,143.70 L555.91,144.20 L555.91,144.70 L555.91,145.20 L555.91,145.70 L555.91,146.20 L555.91,146.70 L555.91,147.20 L555.91,147.70 L555.91,148.20 L555.91,148.70 L555.91,149.20 L555.91,149.70 L555.91,150.20 L555.91,150.70 L555.91,151.20 L555.91,151.70 L555.91,152.20 L555.91,152.70 L555.91,153.20 L555.91,153.70 L555.92,154.20 L555.93,154.70 L555.96,155.20 L555.99,155.70 L556.03,156.20 L556.08,156.70 L556.14,157.20 L556.20,157.70 L556.27,158.20 L556.34,158.70 L556.42,159.20 L556.49,159.70 L556.58,160.20 L556.66,160.70 L556.74,161.20 L556.82,161.70 L556.91,162.20 L556.99,162.70 L557.06,163.20 L557.14,163.70 L557.22,164.20 L557.29,164.70 L557.37,165.20 L557.45,165.70 L557.54,166.20 L557.63,166.70 L557.72,167.20 L557.82,167.70 L557.92,168.20 L558.03,168.70 L558.14,169.20 L558.26,169.70 L558.39,170.20 L558.53,170.70 L558.69,171.20 L558.87,171.70 L559.06,172.20 L559.25,172.70 L559.46,173.20 L559.68,173.70 L559.90,174.20 L560.13,174.70 L560.37,175.20 L560.61,175.70 L560.85,176.20 L561.09,176.70 L561.34,177.20 L561.58,177.70 L561.82,178.20 L562.06,178.70 L562.29,179.20 L562.51,179.70 L562.73,180.20 L562.95,180.70 L563.18,181.20 L563.40,181.70 L563.63,182.20 L563.86,182.70 L564.09,183.20 L564.31,183.70 L564.54,184.20 L564.77,184.70 L565.00,185.20 L565.23,185.70 L565.46,186.20 L565.69,186.70 L565.92,187.20 L566.15,187.70 L566.38,188.20 L566.60,188.70 L566.83,189.20 L567.05,189.70 L567.28,190.20 L567.50,190.70 L567.73,191.20 L567.95,191.70 L568.18,192.20 L568.40,192.70 L568.62,193.20 L568.85,193.70 L569.07,194.20 L569.29,194.70 L569.52,195.20 L569.74,195.70 L569.96,196.20 L570.18,196.70 L570.40,197.20 L570.62,197.70 L570.84,198.20 L571.06,198.70 L571.28,199.20 L571.50,199.70 L571.72,200.20 L571.94,200.70 L572.16,201.20 L572.38,201.70 L572.61,202.20 L572.83,202.70 L573.05,203.20 L573.27,203.70 L573.50,204.20 L573.72,204.70 L573.93,205.20 L574.15,205.70 L574.36,206.20 L574.57,206.70 L574.78,207.20 L574.99,207.70 L575.19,208.20 L575.38,208.70 L575.57,209.20 L575.76,209.70 L575.94,210.20 L576.12,210.70 L576.29,211.20 L576.47,211.70 L576.64,212.20 L576.80,212.70 L576.97,213.20 L577.13,213.70 L577.29,214.20 L577.46,214.70 L577.62,215.20 L577.78,215.70 L577.95,216.20 L578.11,216.70 L578.27,217.20 L578.44,217.70 L578.60,218.20 L578.76,218.70 L578.92,219.20 L579.09,219.70 L579.25,220.20 L579.31,220.40 L579.3,220.4 Z" fill="#EFC000" stroke="#1a1a1a" stroke-width="1.45" stroke-linejoin="round"/>
<path d="M579.3,66.0 L579.31,66.00 L579.33,66.50 L579.36,67.00 L579.39,67.50 L579.43,68.00 L579.48,68.50 L579.53,69.00 L579.58,69.50 L579.63,70.00 L579.70,70.50 L579.77,71.00 L579.86,71.50 L579.95,72.00 L580.05,72.50 L580.15,73.00 L580.26,73.50 L580.36,74.00 L580.47,74.50 L580.57,75.00 L580.68,75.50 L580.79,76.00 L580.90,76.50 L581.01,77.00 L581.13,77.50 L581.24,78.00 L581.36,78.50 L581.48,79.00 L581.61,79.50 L581.73,80.00 L581.86,80.50 L581.99,81.00 L582.13,81.50 L582.26,82.00 L582.40,82.50 L582.54,83.00 L582.69,83.50 L582.83,84.00 L582.98,84.50 L583.13,85.00 L583.29,85.50 L583.46,86.00 L583.63,86.50 L583.81,87.00 L583.99,87.50 L584.17,88.00 L584.36,88.50 L584.55,89.00 L584.75,89.50 L584.94,90.00 L585.14,90.50 L585.34,91.00 L585.54,91.50 L585.74,92.00 L585.94,92.50 L586.13,93.00 L586.33,93.50 L586.52,94.00 L586.71,94.50 L586.90,95.00 L587.09,95.50 L587.27,96.00 L587.46,96.50 L587.65,97.00 L587.84,97.50 L588.03,98.00 L588.22,98.50 L588.41,99.00 L588.60,99.50 L588.79,100.00 L588.98,100.50 L589.17,101.00 L589.35,101.50 L589.54,102.00 L589.73,102.50 L589.92,103.00 L590.11,103.50 L590.30,104.00 L590.49,104.50 L590.67,105.00 L590.86,105.50 L591.05,106.00 L591.23,106.50 L591.42,107.00 L591.61,107.50 L591.80,108.00 L591.98,108.50 L592.17,109.00 L592.36,109.50 L592.54,110.00 L592.73,110.50 L592.92,111.00 L593.10,111.50 L593.29,112.00 L593.48,112.50 L593.66,113.00 L593.85,113.50 L594.04,114.00 L594.22,114.50 L594.41,115.00 L594.60,115.50 L594.79,116.00 L594.98,116.50 L595.17,117.00 L595.36,117.50 L595.55,118.00 L595.74,118.50 L595.93,119.00 L596.12,119.50 L596.31,120.00 L596.50,120.50 L596.69,121.00 L596.87,121.50 L597.06,122.00 L597.24,122.50 L597.42,123.00 L597.60,123.50 L597.78,124.00 L597.95,124.50 L598.13,125.00 L598.31,125.50 L598.49,126.00 L598.67,126.50 L598.85,127.00 L599.03,127.50 L599.21,128.00 L599.39,128.50 L599.56,129.00 L599.73,129.50 L599.90,130.00 L600.06,130.50 L600.22,131.00 L600.37,131.50 L600.52,132.00 L600.66,132.50 L600.79,133.00 L600.92,133.50 L601.03,134.00 L601.14,134.50 L601.25,135.00 L601.35,135.50 L601.45,136.00 L601.54,136.50 L601.64,137.00 L601.73,137.50 L601.81,138.00 L601.90,138.50 L601.98,139.00 L602.06,139.50 L602.14,140.00 L602.22,140.50 L602.29,141.00 L602.37,141.50 L602.44,142.00 L602.52,142.50 L602.59,143.00 L602.67,143.50 L602.74,144.00 L602.82,144.50 L602.90,145.00 L602.99,145.50 L603.07,146.00 L603.16,146.50 L603.25,147.00 L603.33,147.50 L603.42,148.00 L603.50,148.50 L603.58,149.00 L603.66,149.50 L603.73,150.00 L603.79,150.50 L603.85,151.00 L603.90,151.50 L603.94,152.00 L603.98,152.50 L604.00,153.00 L604.01,153.50 L604.01,154.00 L604.00,154.50 L603.99,155.00 L603.98,155.50 L603.96,156.00 L603.94,156.50 L603.91,157.00 L603.88,157.50 L603.85,158.00 L603.82,158.50 L603.78,159.00 L603.74,159.50 L603.70,160.00 L603.65,160.50 L603.61,161.00 L603.56,161.50 L603.51,162.00 L603.45,162.50 L603.38,163.00 L603.29,163.50 L603.20,164.00 L603.08,164.50 L602.96,165.00 L602.83,165.50 L602.70,166.00 L602.55,166.50 L602.40,167.00 L602.25,167.50 L602.10,168.00 L601.94,168.50 L601.79,169.00 L601.63,169.50 L601.48,170.00 L601.32,170.50 L601.16,171.00 L600.99,171.50 L600.82,172.00 L600.63,172.50 L600.45,173.00 L600.26,173.50 L600.07,174.00 L599.87,174.50 L599.67,175.00 L599.47,175.50 L599.27,176.00 L599.07,176.50 L598.87,177.00 L598.67,177.50 L598.47,178.00 L598.27,178.50 L598.08,179.00 L597.89,179.50 L597.70,180.00 L597.51,180.50 L597.32,181.00 L597.13,181.50 L596.95,182.00 L596.76,182.50 L596.57,183.00 L596.39,183.50 L596.20,184.00 L596.01,184.50 L595.83,185.00 L595.64,185.50 L595.45,186.00 L595.27,186.50 L595.08,187.00 L594.89,187.50 L594.71,188.00 L594.52,188.50 L594.33,189.00 L594.15,189.50 L593.96,190.00 L593.77,190.50 L593.58,191.00 L593.39,191.50 L593.20,192.00 L593.01,192.50 L592.82,193.00 L592.63,193.50 L592.44,194.00 L592.25,194.50 L592.06,195.00 L591.87,195.50 L591.68,196.00 L591.49,196.50 L591.31,197.00 L591.13,197.50 L590.94,198.00 L590.76,198.50 L590.59,199.00 L590.41,199.50 L590.24,200.00 L590.06,200.50 L589.89,201.00 L589.73,201.50 L589.56,202.00 L589.39,202.50 L589.23,203.00 L589.06,203.50 L588.90,204.00 L588.74,204.50 L588.57,205.00 L588.41,205.50 L588.25,206.00 L588.09,206.50 L587.94,207.00 L587.78,207.50 L587.62,208.00 L587.46,208.50 L587.30,209.00 L587.15,209.50 L586.99,210.00 L586.83,210.50 L586.67,211.00 L586.52,211.50 L586.36,212.00 L586.20,212.50 L586.04,213.00 L585.89,213.50 L585.73,214.00 L585.58,214.50 L585.43,215.00 L585.27,215.50 L585.12,216.00 L584.98,216.50 L584.83,217.00 L584.68,217.50 L584.54,218.00 L584.40,218.50 L584.26,219.00 L584.13,219.50 L584.00,220.00 L583.87,220.50 L583.74,221.00 L583.61,221.50 L583.49,222.00 L583.36,222.50 L583.24,223.00 L583.12,223.50 L583.00,224.00 L582.88,224.50 L582.76,225.00 L582.64,225.50 L582.52,226.00 L582.41,226.50 L582.29,227.00 L582.17,227.50 L582.05,228.00 L581.93,228.50 L581.81,229.00 L581.69,229.50 L581.56,230.00 L581.43,230.50 L581.30,231.00 L581.17,231.50 L581.04,232.00 L580.91,232.50 L580.78,233.00 L580.66,233.50 L580.54,234.00 L580.42,234.50 L580.31,235.00 L580.20,235.50 L580.10,236.00 L580.01,236.50 L579.92,237.00 L579.84,237.50 L579.76,238.00 L579.68,238.50 L579.61,239.00 L579.54,239.50 L579.47,240.00 L579.41,240.50 L579.35,241.00 L579.31,241.40 L579.3,241.4 Z" fill="#4DBBD5" stroke="#1a1a1a" stroke-width="1.45" stroke-linejoin="round"/>
<line x1="579.3" x2="579.3" y1="55.7" y2="289.6" stroke="#1a1a1a" stroke-width="1.3"/>
<path d="M631.6,62.4 L631.60,62.40 L631.59,62.90 L631.59,63.40 L631.58,63.90 L631.57,64.40 L631.57,64.90 L631.56,65.40 L631.55,65.90 L631.54,66.40 L631.53,66.90 L631.52,67.40 L631.50,67.90 L631.49,68.40 L631.48,68.90 L631.47,69.40 L631.45,69.90 L631.44,70.40 L631.43,70.90 L631.41,71.40 L631.40,71.90 L631.38,72.40 L631.37,72.90 L631.35,73.40 L631.33,73.90 L631.32,74.40 L631.30,74.90 L631.29,75.40 L631.27,75.90 L631.25,76.40 L631.23,76.90 L631.21,77.40 L631.19,77.90 L631.17,78.40 L631.14,78.90 L631.12,79.40 L631.09,79.90 L631.05,80.40 L631.02,80.90 L630.98,81.40 L630.93,81.90 L630.89,82.40 L630.84,82.90 L630.78,83.40 L630.73,83.90 L630.67,84.40 L630.61,84.90 L630.54,85.40 L630.47,85.90 L630.40,86.40 L630.33,86.90 L630.25,87.40 L630.17,87.90 L630.09,88.40 L630.00,88.90 L629.92,89.40 L629.83,89.90 L629.72,90.40 L629.61,90.90 L629.49,91.40 L629.36,91.90 L629.22,92.40 L629.07,92.90 L628.91,93.40 L628.75,93.90 L628.59,94.40 L628.41,94.90 L628.23,95.40 L628.05,95.90 L627.87,96.40 L627.68,96.90 L627.48,97.40 L627.29,97.90 L627.09,98.40 L626.90,98.90 L626.70,99.40 L626.50,99.90 L626.28,100.40 L626.06,100.90 L625.83,101.40 L625.59,101.90 L625.34,102.40 L625.09,102.90 L624.83,103.40 L624.57,103.90 L624.31,104.40 L624.04,104.90 L623.77,105.40 L623.50,105.90 L623.23,106.40 L622.96,106.90 L622.69,107.40 L622.42,107.90 L622.16,108.40 L621.90,108.90 L621.65,109.40 L621.40,109.90 L621.14,110.40 L620.89,110.90 L620.64,111.40 L620.38,111.90 L620.13,112.40 L619.87,112.90 L619.62,113.40 L619.36,113.90 L619.11,114.40 L618.86,114.90 L618.61,115.40 L618.36,115.90 L618.11,116.40 L617.86,116.90 L617.62,117.40 L617.37,117.90 L617.13,118.40 L616.89,118.90 L616.66,119.40 L616.42,119.90 L616.18,120.40 L615.95,120.90 L615.71,121.40 L615.47,121.90 L615.23,122.40 L615.00,122.90 L614.76,123.40 L614.53,123.90 L614.30,124.40 L614.08,124.90 L613.86,125.40 L613.64,125.90 L613.42,126.40 L613.21,126.90 L613.01,127.40 L612.81,127.90 L612.62,128.40 L612.44,128.90 L612.26,129.40 L612.08,129.90 L611.89,130.40 L611.72,130.90 L611.54,131.40 L611.36,131.90 L611.19,132.40 L611.02,132.90 L610.85,133.40 L610.69,133.90 L610.53,134.40 L610.37,134.90 L610.23,135.40 L610.09,135.90 L609.95,136.40 L609.82,136.90 L609.70,137.40 L609.59,137.90 L609.49,138.40 L609.40,138.90 L609.31,139.40 L609.23,139.90 L609.14,140.40 L609.06,140.90 L608.98,141.40 L608.90,141.90 L608.83,142.40 L608.75,142.90 L608.68,143.40 L608.62,143.90 L608.55,144.40 L608.49,144.90 L608.44,145.40 L608.39,145.90 L608.34,146.40 L608.30,146.90 L608.27,147.40 L608.24,147.90 L608.21,148.40 L608.19,148.90 L608.18,149.40 L608.16,149.90 L608.14,150.40 L608.13,150.90 L608.11,151.40 L608.10,151.90 L608.09,152.40 L608.07,152.90 L608.06,153.40 L608.05,153.90 L608.04,154.40 L608.03,154.90 L608.02,155.40 L608.02,155.90 L608.01,156.40 L608.01,156.90 L608.00,157.40 L608.00,157.90 L608.00,158.40 L608.00,158.90 L608.01,159.40 L608.03,159.90 L608.05,160.40 L608.08,160.90 L608.12,161.40 L608.16,161.90 L608.21,162.40 L608.27,162.90 L608.32,163.40 L608.39,163.90 L608.45,164.40 L608.52,164.90 L608.60,165.40 L608.68,165.90 L608.75,166.40 L608.83,166.90 L608.92,167.40 L609.00,167.90 L609.08,168.40 L609.17,168.90 L609.27,169.40 L609.39,169.90 L609.51,170.40 L609.65,170.90 L609.80,171.40 L609.96,171.90 L610.13,172.40 L610.30,172.90 L610.48,173.40 L610.67,173.90 L610.87,174.40 L611.07,174.90 L611.28,175.40 L611.48,175.90 L611.69,176.40 L611.91,176.90 L612.12,177.40 L612.34,177.90 L612.55,178.40 L612.76,178.90 L612.97,179.40 L613.18,179.90 L613.40,180.40 L613.62,180.90 L613.85,181.40 L614.08,181.90 L614.32,182.40 L614.57,182.90 L614.81,183.40 L615.06,183.90 L615.32,184.40 L615.58,184.90 L615.83,185.40 L616.09,185.90 L616.35,186.40 L616.61,186.90 L616.87,187.40 L617.13,187.90 L617.39,188.40 L617.65,188.90 L617.90,189.40 L618.15,189.90 L618.40,190.40 L618.65,190.90 L618.90,191.40 L619.16,191.90 L619.41,192.40 L619.66,192.90 L619.91,193.40 L620.17,193.90 L620.42,194.40 L620.67,194.90 L620.93,195.40 L621.18,195.90 L621.43,196.40 L621.69,196.90 L621.94,197.40 L622.19,197.90 L622.45,198.40 L622.70,198.90 L622.95,199.40 L623.20,199.90 L623.46,200.40 L623.73,200.90 L624.00,201.40 L624.28,201.90 L624.55,202.40 L624.83,202.90 L625.11,203.40 L625.38,203.90 L625.65,204.40 L625.92,204.90 L626.18,205.40 L626.44,205.90 L626.69,206.40 L626.93,206.90 L627.15,207.40 L627.37,207.90 L627.57,208.40 L627.76,208.90 L627.93,209.40 L628.09,209.90 L628.25,210.40 L628.39,210.90 L628.53,211.40 L628.66,211.90 L628.78,212.40 L628.90,212.90 L629.02,213.40 L629.13,213.90 L629.24,214.40 L629.35,214.90 L629.46,215.40 L629.57,215.90 L629.69,216.40 L629.80,216.90 L629.92,217.40 L630.05,217.90 L630.18,218.40 L630.31,218.90 L630.46,219.40 L630.61,219.90 L630.76,220.40 L630.93,220.90 L631.09,221.40 L631.26,221.90 L631.43,222.40 L631.60,222.90 L631.6,222.9 Z" fill="#EFC000" stroke="#1a1a1a" stroke-width="1.45" stroke-linejoin="round"/>
<path d="M631.6,96.9 L631.60,96.90 L631.77,97.40 L631.95,97.90 L632.13,98.40 L632.32,98.90 L632.52,99.40 L632.72,99.90 L632.93,100.40 L633.15,100.90 L633.37,101.40 L633.60,101.90 L633.84,102.40 L634.09,102.90 L634.35,103.40 L634.62,103.90 L634.90,104.40 L635.19,104.90 L635.48,105.40 L635.78,105.90 L636.08,106.40 L636.38,106.90 L636.68,107.40 L636.98,107.90 L637.28,108.40 L637.57,108.90 L637.86,109.40 L638.14,109.90 L638.43,110.40 L638.71,110.90 L639.00,111.40 L639.29,111.90 L639.57,112.40 L639.86,112.90 L640.15,113.40 L640.44,113.90 L640.72,114.40 L641.01,114.90 L641.30,115.40 L641.58,115.90 L641.87,116.40 L642.15,116.90 L642.44,117.40 L642.72,117.90 L643.00,118.40 L643.29,118.90 L643.57,119.40 L643.86,119.90 L644.15,120.40 L644.44,120.90 L644.73,121.40 L645.03,121.90 L645.32,122.40 L645.62,122.90 L645.91,123.40 L646.21,123.90 L646.50,124.40 L646.78,124.90 L647.06,125.40 L647.34,125.90 L647.61,126.40 L647.88,126.90 L648.14,127.40 L648.38,127.90 L648.62,128.40 L648.86,128.90 L649.08,129.40 L649.30,129.90 L649.52,130.40 L649.74,130.90 L649.95,131.40 L650.16,131.90 L650.37,132.40 L650.57,132.90 L650.77,133.40 L650.97,133.90 L651.16,134.40 L651.34,134.90 L651.52,135.40 L651.70,135.90 L651.87,136.40 L652.03,136.90 L652.18,137.40 L652.33,137.90 L652.47,138.40 L652.60,138.90 L652.73,139.40 L652.86,139.90 L652.99,140.40 L653.12,140.90 L653.25,141.40 L653.38,141.90 L653.51,142.40 L653.63,142.90 L653.75,143.40 L653.86,143.90 L653.97,144.40 L654.07,144.90 L654.16,145.40 L654.24,145.90 L654.31,146.40 L654.38,146.90 L654.43,147.40 L654.47,147.90 L654.49,148.40 L654.50,148.90 L654.51,149.40 L654.52,149.90 L654.53,150.40 L654.54,150.90 L654.55,151.40 L654.55,151.90 L654.56,152.40 L654.57,152.90 L654.57,153.40 L654.58,153.90 L654.58,154.40 L654.59,154.90 L654.59,155.40 L654.59,155.90 L654.59,156.40 L654.60,156.90 L654.60,157.40 L654.60,157.90 L654.60,158.40 L654.60,158.90 L654.57,159.40 L654.53,159.90 L654.47,160.40 L654.40,160.90 L654.30,161.40 L654.20,161.90 L654.08,162.40 L653.95,162.90 L653.81,163.40 L653.66,163.90 L653.50,164.40 L653.34,164.90 L653.17,165.40 L653.00,165.90 L652.83,166.40 L652.65,166.90 L652.48,167.40 L652.30,167.90 L652.13,168.40 L651.96,168.90 L651.77,169.40 L651.57,169.90 L651.36,170.40 L651.13,170.90 L650.90,171.40 L650.65,171.90 L650.40,172.40 L650.13,172.90 L649.87,173.40 L649.59,173.90 L649.32,174.40 L649.04,174.90 L648.75,175.40 L648.47,175.90 L648.19,176.40 L647.90,176.90 L647.63,177.40 L647.35,177.90 L647.08,178.40 L646.81,178.90 L646.55,179.40 L646.30,179.90 L646.05,180.40 L645.79,180.90 L645.54,181.40 L645.29,181.90 L645.03,182.40 L644.78,182.90 L644.53,183.40 L644.27,183.90 L644.02,184.40 L643.77,184.90 L643.52,185.40 L643.27,185.90 L643.02,186.40 L642.78,186.90 L642.54,187.40 L642.30,187.90 L642.06,188.40 L641.82,188.90 L641.59,189.40 L641.36,189.90 L641.14,190.40 L640.91,190.90 L640.68,191.40 L640.46,191.90 L640.23,192.40 L640.01,192.90 L639.79,193.40 L639.57,193.90 L639.36,194.40 L639.14,194.90 L638.93,195.40 L638.72,195.90 L638.51,196.40 L638.31,196.90 L638.11,197.40 L637.91,197.90 L637.72,198.40 L637.52,198.90 L637.34,199.40 L637.15,199.90 L636.97,200.40 L636.79,200.90 L636.61,201.40 L636.44,201.90 L636.26,202.40 L636.09,202.90 L635.92,203.40 L635.75,203.90 L635.59,204.40 L635.42,204.90 L635.26,205.40 L635.11,205.90 L634.95,206.40 L634.80,206.90 L634.65,207.40 L634.50,207.90 L634.35,208.40 L634.21,208.90 L634.07,209.40 L633.94,209.90 L633.80,210.40 L633.67,210.90 L633.54,211.40 L633.41,211.90 L633.29,212.40 L633.16,212.90 L633.04,213.40 L632.92,213.90 L632.81,214.40 L632.69,214.90 L632.58,215.40 L632.47,215.90 L632.36,216.40 L632.26,216.90 L632.16,217.40 L632.06,217.90 L631.96,218.40 L631.87,218.90 L631.78,219.40 L631.69,219.90 L631.60,220.40 L631.6,220.4 Z" fill="#4DBBD5" stroke="#1a1a1a" stroke-width="1.45" stroke-linejoin="round"/>
<line x1="631.6" x2="631.6" y1="62.4" y2="243.9" stroke="#1a1a1a" stroke-width="1.3"/>
<path d="M683.9,33.0 L683.89,33.00 L683.89,33.50 L683.89,34.00 L683.88,34.50 L683.88,35.00 L683.88,35.50 L683.87,36.00 L683.87,36.50 L683.87,37.00 L683.86,37.50 L683.86,38.00 L683.86,38.50 L683.85,39.00 L683.85,39.50 L683.84,40.00 L683.84,40.50 L683.83,41.00 L683.83,41.50 L683.83,42.00 L683.82,42.50 L683.82,43.00 L683.81,43.50 L683.80,44.00 L683.80,44.50 L683.79,45.00 L683.79,45.50 L683.78,46.00 L683.78,46.50 L683.77,47.00 L683.76,47.50 L683.76,48.00 L683.75,48.50 L683.75,49.00 L683.74,49.50 L683.73,50.00 L683.73,50.50 L683.72,51.00 L683.71,51.50 L683.71,52.00 L683.70,52.50 L683.69,53.00 L683.69,53.50 L683.68,54.00 L683.67,54.50 L683.66,55.00 L683.66,55.50 L683.65,56.00 L683.64,56.50 L683.63,57.00 L683.63,57.50 L683.62,58.00 L683.61,58.50 L683.61,59.00 L683.60,59.50 L683.59,60.00 L683.58,60.50 L683.58,61.00 L683.57,61.50 L683.56,62.00 L683.55,62.50 L683.55,63.00 L683.54,63.50 L683.53,64.00 L683.52,64.50 L683.52,65.00 L683.51,65.50 L683.50,66.00 L683.49,66.50 L683.47,67.00 L683.46,67.50 L683.45,68.00 L683.43,68.50 L683.42,69.00 L683.40,69.50 L683.38,70.00 L683.35,70.50 L683.31,71.00 L683.26,71.50 L683.19,72.00 L683.12,72.50 L683.04,73.00 L682.94,73.50 L682.85,74.00 L682.74,74.50 L682.63,75.00 L682.51,75.50 L682.39,76.00 L682.26,76.50 L682.13,77.00 L681.99,77.50 L681.86,78.00 L681.72,78.50 L681.58,79.00 L681.45,79.50 L681.30,80.00 L681.15,80.50 L680.98,81.00 L680.80,81.50 L680.60,82.00 L680.39,82.50 L680.18,83.00 L679.95,83.50 L679.72,84.00 L679.49,84.50 L679.25,85.00 L679.01,85.50 L678.77,86.00 L678.53,86.50 L678.29,87.00 L678.06,87.50 L677.83,88.00 L677.61,88.50 L677.39,89.00 L677.19,89.50 L676.99,90.00 L676.80,90.50 L676.60,91.00 L676.41,91.50 L676.22,92.00 L676.03,92.50 L675.84,93.00 L675.66,93.50 L675.47,94.00 L675.29,94.50 L675.11,95.00 L674.92,95.50 L674.74,96.00 L674.56,96.50 L674.38,97.00 L674.19,97.50 L674.01,98.00 L673.82,98.50 L673.64,99.00 L673.45,99.50 L673.26,100.00 L673.08,100.50 L672.89,101.00 L672.70,101.50 L672.51,102.00 L672.31,102.50 L672.12,103.00 L671.93,103.50 L671.74,104.00 L671.55,104.50 L671.36,105.00 L671.17,105.50 L670.99,106.00 L670.80,106.50 L670.62,107.00 L670.43,107.50 L670.25,108.00 L670.07,108.50 L669.90,109.00 L669.72,109.50 L669.55,110.00 L669.38,110.50 L669.21,111.00 L669.04,111.50 L668.87,112.00 L668.70,112.50 L668.53,113.00 L668.37,113.50 L668.21,114.00 L668.04,114.50 L667.88,115.00 L667.72,115.50 L667.56,116.00 L667.40,116.50 L667.25,117.00 L667.09,117.50 L666.93,118.00 L666.78,118.50 L666.62,119.00 L666.47,119.50 L666.31,120.00 L666.15,120.50 L666.00,121.00 L665.84,121.50 L665.69,122.00 L665.53,122.50 L665.37,123.00 L665.22,123.50 L665.07,124.00 L664.92,124.50 L664.77,125.00 L664.62,125.50 L664.48,126.00 L664.34,126.50 L664.20,127.00 L664.07,127.50 L663.94,128.00 L663.81,128.50 L663.69,129.00 L663.57,129.50 L663.45,130.00 L663.33,130.50 L663.22,131.00 L663.10,131.50 L662.99,132.00 L662.88,132.50 L662.77,133.00 L662.66,133.50 L662.55,134.00 L662.45,134.50 L662.35,135.00 L662.25,135.50 L662.16,136.00 L662.07,136.50 L661.98,137.00 L661.90,137.50 L661.82,138.00 L661.75,138.50 L661.68,139.00 L661.61,139.50 L661.54,140.00 L661.47,140.50 L661.41,141.00 L661.34,141.50 L661.28,142.00 L661.22,142.50 L661.16,143.00 L661.10,143.50 L661.04,144.00 L660.99,144.50 L660.94,145.00 L660.89,145.50 L660.85,146.00 L660.81,146.50 L660.78,147.00 L660.75,147.50 L660.72,148.00 L660.70,148.50 L660.68,149.00 L660.66,149.50 L660.65,150.00 L660.63,150.50 L660.62,151.00 L660.60,151.50 L660.59,152.00 L660.58,152.50 L660.56,153.00 L660.55,153.50 L660.54,154.00 L660.53,154.50 L660.52,155.00 L660.51,155.50 L660.51,156.00 L660.50,156.50 L660.50,157.00 L660.49,157.50 L660.49,158.00 L660.49,158.50 L660.49,159.00 L660.50,159.50 L660.51,160.00 L660.52,160.50 L660.54,161.00 L660.57,161.50 L660.60,162.00 L660.63,162.50 L660.66,163.00 L660.70,163.50 L660.74,164.00 L660.78,164.50 L660.83,165.00 L660.88,165.50 L660.92,166.00 L660.98,166.50 L661.03,167.00 L661.08,167.50 L661.13,168.00 L661.19,168.50 L661.25,169.00 L661.32,169.50 L661.41,170.00 L661.50,170.50 L661.60,171.00 L661.71,171.50 L661.83,172.00 L661.95,172.50 L662.09,173.00 L662.22,173.50 L662.37,174.00 L662.52,174.50 L662.67,175.00 L662.82,175.50 L662.98,176.00 L663.14,176.50 L663.31,177.00 L663.47,177.50 L663.64,178.00 L663.80,178.50 L663.96,179.00 L664.13,179.50 L664.29,180.00 L664.45,180.50 L664.63,181.00 L664.81,181.50 L664.99,182.00 L665.18,182.50 L665.37,183.00 L665.57,183.50 L665.77,184.00 L665.97,184.50 L666.17,185.00 L666.38,185.50 L666.59,186.00 L666.80,186.50 L667.01,187.00 L667.22,187.50 L667.43,188.00 L667.64,188.50 L667.84,189.00 L668.05,189.50 L668.25,190.00 L668.46,190.50 L668.67,191.00 L668.88,191.50 L669.09,192.00 L669.30,192.50 L669.51,193.00 L669.72,193.50 L669.93,194.00 L670.15,194.50 L670.36,195.00 L670.57,195.50 L670.79,196.00 L671.00,196.50 L671.22,197.00 L671.43,197.50 L671.65,198.00 L671.86,198.50 L672.08,199.00 L672.29,199.50 L672.50,200.00 L672.72,200.50 L672.94,201.00 L673.16,201.50 L673.39,202.00 L673.61,202.50 L673.84,203.00 L674.06,203.50 L674.28,204.00 L674.51,204.50 L674.73,205.00 L674.94,205.50 L675.16,206.00 L675.37,206.50 L675.58,207.00 L675.79,207.50 L675.99,208.00 L676.19,208.50 L676.38,209.00 L676.56,209.50 L676.75,210.00 L676.92,210.50 L677.10,211.00 L677.28,211.50 L677.45,212.00 L677.62,212.50 L677.78,213.00 L677.95,213.50 L678.11,214.00 L678.27,214.50 L678.43,215.00 L678.59,215.50 L678.74,216.00 L678.90,216.50 L679.05,217.00 L679.20,217.50 L679.34,218.00 L679.49,218.50 L679.63,219.00 L679.78,219.50 L679.92,220.00 L680.06,220.50 L680.20,221.00 L680.34,221.50 L680.48,222.00 L680.62,222.50 L680.76,223.00 L680.89,223.50 L681.02,224.00 L681.16,224.50 L681.28,225.00 L681.41,225.50 L681.53,226.00 L681.65,226.50 L681.77,227.00 L681.88,227.50 L681.99,228.00 L682.09,228.50 L682.19,229.00 L682.28,229.50 L682.37,230.00 L682.46,230.50 L682.54,231.00 L682.61,231.50 L682.69,232.00 L682.76,232.50 L682.84,233.00 L682.91,233.50 L682.98,234.00 L683.06,234.50 L683.13,235.00 L683.22,235.50 L683.30,236.00 L683.39,236.50 L683.49,237.00 L683.59,237.50 L683.69,238.00 L683.80,238.50 L683.89,238.90 L683.9,238.9 Z" fill="#EFC000" stroke="#1a1a1a" stroke-width="1.45" stroke-linejoin="round"/>
<path d="M683.9,89.5 L683.89,89.50 L684.09,90.00 L684.29,90.50 L684.50,91.00 L684.71,91.50 L684.92,92.00 L685.13,92.50 L685.34,93.00 L685.56,93.50 L685.78,94.00 L686.00,94.50 L686.22,95.00 L686.45,95.50 L686.68,96.00 L686.91,96.50 L687.14,97.00 L687.37,97.50 L687.62,98.00 L687.86,98.50 L688.11,99.00 L688.37,99.50 L688.62,100.00 L688.88,100.50 L689.14,101.00 L689.40,101.50 L689.65,102.00 L689.91,102.50 L690.16,103.00 L690.41,103.50 L690.65,104.00 L690.88,104.50 L691.12,105.00 L691.35,105.50 L691.58,106.00 L691.81,106.50 L692.03,107.00 L692.26,107.50 L692.48,108.00 L692.71,108.50 L692.93,109.00 L693.15,109.50 L693.37,110.00 L693.58,110.50 L693.80,111.00 L694.02,111.50 L694.24,112.00 L694.45,112.50 L694.67,113.00 L694.89,113.50 L695.10,114.00 L695.32,114.50 L695.54,115.00 L695.75,115.50 L695.97,116.00 L696.19,116.50 L696.41,117.00 L696.62,117.50 L696.84,118.00 L697.05,118.50 L697.27,119.00 L697.48,119.50 L697.70,120.00 L697.91,120.50 L698.12,121.00 L698.33,121.50 L698.53,122.00 L698.74,122.50 L698.95,123.00 L699.15,123.50 L699.35,124.00 L699.55,124.50 L699.75,125.00 L699.95,125.50 L700.15,126.00 L700.34,126.50 L700.54,127.00 L700.74,127.50 L700.93,128.00 L701.13,128.50 L701.32,129.00 L701.51,129.50 L701.70,130.00 L701.88,130.50 L702.07,131.00 L702.25,131.50 L702.43,132.00 L702.61,132.50 L702.78,133.00 L702.95,133.50 L703.12,134.00 L703.29,134.50 L703.46,135.00 L703.63,135.50 L703.81,136.00 L703.98,136.50 L704.15,137.00 L704.31,137.50 L704.48,138.00 L704.64,138.50 L704.80,139.00 L704.96,139.50 L705.11,140.00 L705.26,140.50 L705.41,141.00 L705.54,141.50 L705.68,142.00 L705.80,142.50 L705.92,143.00 L706.03,143.50 L706.13,144.00 L706.23,144.50 L706.34,145.00 L706.44,145.50 L706.55,146.00 L706.65,146.50 L706.75,147.00 L706.86,147.50 L706.95,148.00 L707.05,148.50 L707.13,149.00 L707.22,149.50 L707.29,150.00 L707.36,150.50 L707.42,151.00 L707.48,151.50 L707.52,152.00 L707.56,152.50 L707.58,153.00 L707.59,153.50 L707.59,154.00 L707.58,154.50 L707.57,155.00 L707.56,155.50 L707.54,156.00 L707.52,156.50 L707.50,157.00 L707.47,157.50 L707.44,158.00 L707.40,158.50 L707.36,159.00 L707.32,159.50 L707.28,160.00 L707.24,160.50 L707.19,161.00 L707.12,161.50 L707.02,162.00 L706.88,162.50 L706.71,163.00 L706.52,163.50 L706.30,164.00 L706.06,164.50 L705.81,165.00 L705.54,165.50 L705.26,166.00 L704.97,166.50 L704.68,167.00 L704.39,167.50 L704.10,168.00 L703.82,168.50 L703.55,169.00 L703.29,169.50 L703.04,170.00 L702.80,170.50 L702.55,171.00 L702.31,171.50 L702.06,172.00 L701.80,172.50 L701.55,173.00 L701.30,173.50 L701.04,174.00 L700.78,174.50 L700.53,175.00 L700.27,175.50 L700.02,176.00 L699.76,176.50 L699.51,177.00 L699.26,177.50 L699.01,178.00 L698.77,178.50 L698.52,179.00 L698.28,179.50 L698.05,180.00 L697.82,180.50 L697.58,181.00 L697.36,181.50 L697.13,182.00 L696.90,182.50 L696.68,183.00 L696.45,183.50 L696.23,184.00 L696.01,184.50 L695.79,185.00 L695.57,185.50 L695.35,186.00 L695.14,186.50 L694.92,187.00 L694.70,187.50 L694.48,188.00 L694.27,188.50 L694.05,189.00 L693.83,189.50 L693.62,190.00 L693.40,190.50 L693.18,191.00 L692.96,191.50 L692.73,192.00 L692.51,192.50 L692.29,193.00 L692.07,193.50 L691.85,194.00 L691.63,194.50 L691.41,195.00 L691.20,195.50 L690.99,196.00 L690.78,196.50 L690.57,197.00 L690.36,197.50 L690.16,198.00 L689.97,198.50 L689.78,199.00 L689.59,199.50 L689.41,200.00 L689.23,200.50 L689.05,201.00 L688.87,201.50 L688.70,202.00 L688.53,202.50 L688.36,203.00 L688.19,203.50 L688.03,204.00 L687.87,204.50 L687.71,205.00 L687.55,205.50 L687.39,206.00 L687.23,206.50 L687.08,207.00 L686.93,207.50 L686.78,208.00 L686.63,208.50 L686.48,209.00 L686.33,209.50 L686.18,210.00 L686.04,210.50 L685.89,211.00 L685.75,211.50 L685.61,212.00 L685.46,212.50 L685.33,213.00 L685.19,213.50 L685.05,214.00 L684.92,214.50 L684.80,215.00 L684.67,215.50 L684.55,216.00 L684.44,216.50 L684.32,217.00 L684.22,217.50 L684.12,218.00 L684.02,218.50 L683.93,219.00 L683.89,219.20 L683.9,219.2 Z" fill="#4DBBD5" stroke="#1a1a1a" stroke-width="1.45" stroke-linejoin="round"/>
<line x1="683.9" x2="683.9" y1="33.0" y2="298.3" stroke="#1a1a1a" stroke-width="1.3"/>
<path d="M736.2,59.4 L736.18,59.40 L736.17,59.90 L736.17,60.40 L736.16,60.90 L736.16,61.40 L736.15,61.90 L736.15,62.40 L736.14,62.90 L736.14,63.40 L736.13,63.90 L736.12,64.40 L736.12,64.90 L736.11,65.40 L736.10,65.90 L736.10,66.40 L736.09,66.90 L736.08,67.40 L736.08,67.90 L736.07,68.40 L736.06,68.90 L736.05,69.40 L736.05,69.90 L736.04,70.40 L736.03,70.90 L736.02,71.40 L736.02,71.90 L736.01,72.40 L736.00,72.90 L735.99,73.40 L735.98,73.90 L735.98,74.40 L735.97,74.90 L735.96,75.40 L735.95,75.90 L735.94,76.40 L735.93,76.90 L735.93,77.40 L735.92,77.90 L735.91,78.40 L735.90,78.90 L735.89,79.40 L735.88,79.90 L735.87,80.40 L735.87,80.90 L735.86,81.40 L735.85,81.90 L735.84,82.40 L735.84,82.90 L735.83,83.40 L735.82,83.90 L735.81,84.40 L735.80,84.90 L735.80,85.40 L735.79,85.90 L735.77,86.40 L735.76,86.90 L735.75,87.40 L735.74,87.90 L735.72,88.40 L735.70,88.90 L735.68,89.40 L735.66,89.90 L735.60,90.40 L735.53,90.90 L735.44,91.40 L735.33,91.90 L735.20,92.40 L735.06,92.90 L734.91,93.40 L734.75,93.90 L734.58,94.40 L734.40,94.90 L734.22,95.40 L734.04,95.90 L733.86,96.40 L733.68,96.90 L733.49,97.40 L733.28,97.90 L733.05,98.40 L732.81,98.90 L732.55,99.40 L732.29,99.90 L732.01,100.40 L731.72,100.90 L731.43,101.40 L731.14,101.90 L730.85,102.40 L730.56,102.90 L730.28,103.40 L730.00,103.90 L729.73,104.40 L729.46,104.90 L729.19,105.40 L728.91,105.90 L728.64,106.40 L728.37,106.90 L728.09,107.40 L727.81,107.90 L727.54,108.40 L727.26,108.90 L726.98,109.40 L726.71,109.90 L726.43,110.40 L726.16,110.90 L725.88,111.40 L725.61,111.90 L725.34,112.40 L725.07,112.90 L724.80,113.40 L724.54,113.90 L724.27,114.40 L724.01,114.90 L723.75,115.40 L723.48,115.90 L723.22,116.40 L722.95,116.90 L722.68,117.40 L722.42,117.90 L722.16,118.40 L721.90,118.90 L721.64,119.40 L721.38,119.90 L721.13,120.40 L720.88,120.90 L720.63,121.40 L720.39,121.90 L720.15,122.40 L719.92,122.90 L719.69,123.40 L719.47,123.90 L719.25,124.40 L719.04,124.90 L718.82,125.40 L718.61,125.90 L718.40,126.40 L718.20,126.90 L717.99,127.40 L717.79,127.90 L717.60,128.40 L717.40,128.90 L717.21,129.40 L717.02,129.90 L716.84,130.40 L716.66,130.90 L716.48,131.40 L716.31,131.90 L716.15,132.40 L715.99,132.90 L715.83,133.40 L715.68,133.90 L715.53,134.40 L715.38,134.90 L715.23,135.40 L715.08,135.90 L714.93,136.40 L714.77,136.90 L714.63,137.40 L714.48,137.90 L714.34,138.40 L714.20,138.90 L714.07,139.40 L713.95,139.90 L713.83,140.40 L713.72,140.90 L713.62,141.40 L713.53,141.90 L713.45,142.40 L713.38,142.90 L713.32,143.40 L713.27,143.90 L713.23,144.40 L713.19,144.90 L713.15,145.40 L713.11,145.90 L713.08,146.40 L713.04,146.90 L713.01,147.40 L712.98,147.90 L712.95,148.40 L712.92,148.90 L712.89,149.40 L712.87,149.90 L712.85,150.40 L712.83,150.90 L712.81,151.40 L712.80,151.90 L712.79,152.40 L712.78,152.90 L712.78,153.40 L712.78,153.90 L712.79,154.40 L712.82,154.90 L712.86,155.40 L712.91,155.90 L712.98,156.40 L713.05,156.90 L713.13,157.40 L713.23,157.90 L713.33,158.40 L713.43,158.90 L713.54,159.40 L713.66,159.90 L713.78,160.40 L713.90,160.90 L714.03,161.40 L714.15,161.90 L714.29,162.40 L714.46,162.90 L714.65,163.40 L714.87,163.90 L715.10,164.40 L715.36,164.90 L715.63,165.40 L715.91,165.90 L716.19,166.40 L716.49,166.90 L716.78,167.40 L717.08,167.90 L717.37,168.40 L717.65,168.90 L717.92,169.40 L718.18,169.90 L718.43,170.40 L718.68,170.90 L718.92,171.40 L719.17,171.90 L719.41,172.40 L719.65,172.90 L719.89,173.40 L720.13,173.90 L720.37,174.40 L720.61,174.90 L720.86,175.40 L721.10,175.90 L721.35,176.40 L721.60,176.90 L721.86,177.40 L722.11,177.90 L722.38,178.40 L722.64,178.90 L722.91,179.40 L723.19,179.90 L723.48,180.40 L723.78,180.90 L724.09,181.40 L724.40,181.90 L724.73,182.40 L725.06,182.90 L725.39,183.40 L725.72,183.90 L726.06,184.40 L726.39,184.90 L726.73,185.40 L727.06,185.90 L727.38,186.40 L727.70,186.90 L728.02,187.40 L728.32,187.90 L728.62,188.40 L728.90,188.90 L729.17,189.40 L729.44,189.90 L729.69,190.40 L729.94,190.90 L730.19,191.40 L730.43,191.90 L730.67,192.40 L730.91,192.90 L731.14,193.40 L731.37,193.90 L731.60,194.40 L731.82,194.90 L732.03,195.40 L732.25,195.90 L732.46,196.40 L732.66,196.90 L732.87,197.40 L733.07,197.90 L733.26,198.40 L733.45,198.90 L733.64,199.40 L733.83,199.90 L734.01,200.40 L734.20,200.90 L734.38,201.40 L734.56,201.90 L734.73,202.40 L734.90,202.90 L735.06,203.40 L735.22,203.90 L735.36,204.40 L735.50,204.90 L735.63,205.40 L735.75,205.90 L735.86,206.40 L735.96,206.90 L736.06,207.40 L736.15,207.90 L736.18,208.10 L736.2,208.1 Z" fill="#EFC000" stroke="#1a1a1a" stroke-width="1.45" stroke-linejoin="round"/>
<path d="M736.2,72.3 L736.18,72.30 L736.29,72.80 L736.41,73.30 L736.53,73.80 L736.65,74.30 L736.77,74.80 L736.89,75.30 L737.02,75.80 L737.14,76.30 L737.27,76.80 L737.41,77.30 L737.54,77.80 L737.68,78.30 L737.82,78.80 L737.97,79.30 L738.11,79.80 L738.26,80.30 L738.41,80.80 L738.56,81.30 L738.71,81.80 L738.87,82.30 L739.02,82.80 L739.18,83.30 L739.34,83.80 L739.50,84.30 L739.65,84.80 L739.81,85.30 L739.97,85.80 L740.13,86.30 L740.29,86.80 L740.44,87.30 L740.60,87.80 L740.76,88.30 L740.92,88.80 L741.08,89.30 L741.24,89.80 L741.40,90.30 L741.56,90.80 L741.72,91.30 L741.88,91.80 L742.05,92.30 L742.21,92.80 L742.38,93.30 L742.54,93.80 L742.71,94.30 L742.87,94.80 L743.04,95.30 L743.21,95.80 L743.38,96.30 L743.55,96.80 L743.72,97.30 L743.89,97.80 L744.06,98.30 L744.23,98.80 L744.40,99.30 L744.57,99.80 L744.75,100.30 L744.92,100.80 L745.10,101.30 L745.27,101.80 L745.45,102.30 L745.63,102.80 L745.80,103.30 L745.98,103.80 L746.16,104.30 L746.34,104.80 L746.53,105.30 L746.71,105.80 L746.89,106.30 L747.08,106.80 L747.27,107.30 L747.46,107.80 L747.65,108.30 L747.85,108.80 L748.04,109.30 L748.24,109.80 L748.44,110.30 L748.64,110.80 L748.85,111.30 L749.05,111.80 L749.25,112.30 L749.45,112.80 L749.65,113.30 L749.85,113.80 L750.05,114.30 L750.25,114.80 L750.44,115.30 L750.64,115.80 L750.83,116.30 L751.02,116.80 L751.21,117.30 L751.39,117.80 L751.58,118.30 L751.77,118.80 L751.96,119.30 L752.14,119.80 L752.33,120.30 L752.52,120.80 L752.70,121.30 L752.88,121.80 L753.06,122.30 L753.24,122.80 L753.42,123.30 L753.59,123.80 L753.76,124.30 L753.93,124.80 L754.10,125.30 L754.26,125.80 L754.42,126.30 L754.57,126.80 L754.73,127.30 L754.88,127.80 L755.03,128.30 L755.18,128.80 L755.33,129.30 L755.48,129.80 L755.62,130.30 L755.77,130.80 L755.91,131.30 L756.05,131.80 L756.19,132.30 L756.32,132.80 L756.45,133.30 L756.58,133.80 L756.70,134.30 L756.82,134.80 L756.94,135.30 L757.05,135.80 L757.16,136.30 L757.26,136.80 L757.37,137.30 L757.47,137.80 L757.58,138.30 L757.68,138.80 L757.78,139.30 L757.88,139.80 L757.97,140.30 L758.07,140.80 L758.16,141.30 L758.25,141.80 L758.33,142.30 L758.41,142.80 L758.49,143.30 L758.57,143.80 L758.64,144.30 L758.71,144.80 L758.77,145.30 L758.83,145.80 L758.88,146.30 L758.93,146.80 L758.98,147.30 L759.03,147.80 L759.08,148.30 L759.13,148.80 L759.18,149.30 L759.23,149.80 L759.28,150.30 L759.32,150.80 L759.36,151.30 L759.40,151.80 L759.44,152.30 L759.47,152.80 L759.50,153.30 L759.52,153.80 L759.55,154.30 L759.56,154.80 L759.57,155.30 L759.58,155.80 L759.58,156.30 L759.58,156.80 L759.57,157.30 L759.55,157.80 L759.54,158.30 L759.52,158.80 L759.50,159.30 L759.47,159.80 L759.45,160.30 L759.42,160.80 L759.39,161.30 L759.36,161.80 L759.33,162.30 L759.29,162.80 L759.26,163.30 L759.22,163.80 L759.18,164.30 L759.13,164.80 L759.07,165.30 L759.01,165.80 L758.95,166.30 L758.88,166.80 L758.81,167.30 L758.74,167.80 L758.66,168.30 L758.57,168.80 L758.49,169.30 L758.40,169.80 L758.30,170.30 L758.20,170.80 L758.08,171.30 L757.95,171.80 L757.81,172.30 L757.67,172.80 L757.51,173.30 L757.35,173.80 L757.18,174.30 L757.01,174.80 L756.83,175.30 L756.65,175.80 L756.46,176.30 L756.28,176.80 L756.09,177.30 L755.90,177.80 L755.71,178.30 L755.52,178.80 L755.33,179.30 L755.14,179.80 L754.95,180.30 L754.76,180.80 L754.56,181.30 L754.36,181.80 L754.15,182.30 L753.94,182.80 L753.72,183.30 L753.50,183.80 L753.28,184.30 L753.06,184.80 L752.84,185.30 L752.62,185.80 L752.40,186.30 L752.18,186.80 L751.96,187.30 L751.74,187.80 L751.52,188.30 L751.31,188.80 L751.10,189.30 L750.90,189.80 L750.69,190.30 L750.49,190.80 L750.29,191.30 L750.09,191.80 L749.89,192.30 L749.68,192.80 L749.48,193.30 L749.29,193.80 L749.09,194.30 L748.89,194.80 L748.69,195.30 L748.50,195.80 L748.30,196.30 L748.11,196.80 L747.92,197.30 L747.72,197.80 L747.53,198.30 L747.34,198.80 L747.16,199.30 L746.97,199.80 L746.78,200.30 L746.60,200.80 L746.41,201.30 L746.23,201.80 L746.04,202.30 L745.86,202.80 L745.68,203.30 L745.50,203.80 L745.32,204.30 L745.14,204.80 L744.97,205.30 L744.79,205.80 L744.61,206.30 L744.44,206.80 L744.27,207.30 L744.09,207.80 L743.92,208.30 L743.75,208.80 L743.58,209.30 L743.41,209.80 L743.24,210.30 L743.07,210.80 L742.90,211.30 L742.73,211.80 L742.56,212.30 L742.39,212.80 L742.23,213.30 L742.06,213.80 L741.90,214.30 L741.73,214.80 L741.57,215.30 L741.41,215.80 L741.25,216.30 L741.10,216.80 L740.94,217.30 L740.79,217.80 L740.64,218.30 L740.49,218.80 L740.35,219.30 L740.21,219.80 L740.07,220.30 L739.93,220.80 L739.78,221.30 L739.64,221.80 L739.51,222.30 L739.37,222.80 L739.23,223.30 L739.10,223.80 L738.97,224.30 L738.84,224.80 L738.71,225.30 L738.59,225.80 L738.47,226.30 L738.35,226.80 L738.24,227.30 L738.13,227.80 L738.02,228.30 L737.92,228.80 L737.82,229.30 L737.73,229.80 L737.65,230.30 L737.56,230.80 L737.49,231.30 L737.41,231.80 L737.34,232.30 L737.26,232.80 L737.19,233.30 L737.12,233.80 L737.04,234.30 L736.97,234.80 L736.89,235.30 L736.80,235.80 L736.72,236.30 L736.62,236.80 L736.52,237.30 L736.42,237.80 L736.31,238.30 L736.20,238.80 L736.18,238.90 L736.2,238.9 Z" fill="#4DBBD5" stroke="#1a1a1a" stroke-width="1.45" stroke-linejoin="round"/>
<line x1="736.2" x2="736.2" y1="59.4" y2="290.2" stroke="#1a1a1a" stroke-width="1.3"/>
<path d="M788.5,84.8 L788.47,84.80 L788.47,85.30 L788.47,85.80 L788.47,86.30 L788.47,86.80 L788.47,87.30 L788.47,87.80 L788.47,88.30 L788.47,88.80 L788.47,89.30 L788.47,89.80 L788.46,90.30 L788.46,90.80 L788.46,91.30 L788.46,91.80 L788.46,92.30 L788.46,92.80 L788.46,93.30 L788.45,93.80 L788.45,94.30 L788.45,94.80 L788.45,95.30 L788.44,95.80 L788.44,96.30 L788.44,96.80 L788.44,97.30 L788.43,97.80 L788.43,98.30 L788.43,98.80 L788.43,99.30 L788.42,99.80 L788.42,100.30 L788.41,100.80 L788.41,101.30 L788.41,101.80 L788.40,102.30 L788.40,102.80 L788.40,103.30 L788.39,103.80 L788.39,104.30 L788.38,104.80 L788.38,105.30 L788.37,105.80 L788.37,106.30 L788.36,106.80 L788.36,107.30 L788.35,107.80 L788.35,108.30 L788.34,108.80 L788.33,109.30 L788.33,109.80 L788.32,110.30 L788.32,110.80 L788.31,111.30 L788.30,111.80 L788.30,112.30 L788.29,112.80 L788.28,113.30 L788.27,113.80 L788.27,114.30 L788.26,114.80 L788.25,115.30 L788.24,115.80 L788.23,116.30 L788.23,116.80 L788.22,117.30 L788.21,117.80 L788.20,118.30 L788.19,118.80 L788.18,119.30 L788.17,119.80 L788.16,120.30 L788.15,120.80 L788.13,121.30 L788.11,121.80 L788.08,122.30 L788.04,122.80 L788.01,123.30 L787.97,123.80 L787.92,124.30 L787.87,124.80 L787.82,125.30 L787.76,125.80 L787.70,126.30 L787.62,126.80 L787.51,127.30 L787.36,127.80 L787.18,128.30 L786.97,128.80 L786.74,129.30 L786.51,129.80 L786.26,130.30 L786.02,130.80 L785.78,131.30 L785.56,131.80 L785.34,132.30 L785.14,132.80 L784.93,133.30 L784.73,133.80 L784.52,134.30 L784.31,134.80 L784.10,135.30 L783.89,135.80 L783.68,136.30 L783.46,136.80 L783.23,137.30 L783.00,137.80 L782.77,138.30 L782.52,138.80 L782.27,139.30 L782.01,139.80 L781.74,140.30 L781.46,140.80 L781.17,141.30 L780.87,141.80 L780.57,142.30 L780.25,142.80 L779.93,143.30 L779.61,143.80 L779.28,144.30 L778.94,144.80 L778.61,145.30 L778.27,145.80 L777.92,146.30 L777.58,146.80 L777.24,147.30 L776.90,147.80 L776.56,148.30 L776.22,148.80 L775.88,149.30 L775.55,149.80 L775.23,150.30 L774.91,150.80 L774.58,151.30 L774.26,151.80 L773.93,152.30 L773.60,152.80 L773.28,153.30 L772.95,153.80 L772.63,154.30 L772.31,154.80 L771.99,155.30 L771.68,155.80 L771.38,156.30 L771.09,156.80 L770.80,157.30 L770.51,157.80 L770.22,158.30 L769.92,158.80 L769.64,159.30 L769.35,159.80 L769.07,160.30 L768.80,160.80 L768.55,161.30 L768.30,161.80 L768.06,162.30 L767.85,162.80 L767.64,163.30 L767.46,163.80 L767.28,164.30 L767.09,164.80 L766.91,165.30 L766.73,165.80 L766.55,166.30 L766.38,166.80 L766.22,167.30 L766.06,167.80 L765.91,168.30 L765.77,168.80 L765.64,169.30 L765.53,169.80 L765.42,170.30 L765.33,170.80 L765.26,171.30 L765.20,171.80 L765.16,172.30 L765.13,172.80 L765.10,173.30 L765.07,173.80 L765.04,174.30 L765.02,174.80 L764.99,175.30 L764.97,175.80 L764.95,176.30 L764.93,176.80 L764.91,177.30 L764.90,177.80 L764.89,178.30 L764.88,178.80 L764.87,179.30 L764.87,179.80 L764.87,180.30 L764.89,180.80 L764.93,181.30 L764.98,181.80 L765.04,182.30 L765.11,182.80 L765.19,183.30 L765.28,183.80 L765.36,184.30 L765.46,184.80 L765.55,185.30 L765.64,185.80 L765.72,186.30 L765.82,186.80 L765.91,187.30 L766.02,187.80 L766.13,188.30 L766.25,188.80 L766.37,189.30 L766.50,189.80 L766.63,190.30 L766.77,190.80 L766.91,191.30 L767.06,191.80 L767.21,192.30 L767.38,192.80 L767.55,193.30 L767.72,193.80 L767.91,194.30 L768.10,194.80 L768.29,195.30 L768.49,195.80 L768.70,196.30 L768.91,196.80 L769.12,197.30 L769.34,197.80 L769.56,198.30 L769.79,198.80 L770.01,199.30 L770.24,199.80 L770.47,200.30 L770.71,200.80 L770.94,201.30 L771.18,201.80 L771.41,202.30 L771.65,202.80 L771.90,203.30 L772.16,203.80 L772.42,204.30 L772.68,204.80 L772.95,205.30 L773.23,205.80 L773.50,206.30 L773.78,206.80 L774.07,207.30 L774.35,207.80 L774.64,208.30 L774.93,208.80 L775.21,209.30 L775.50,209.80 L775.79,210.30 L776.08,210.80 L776.37,211.30 L776.66,211.80 L776.94,212.30 L777.23,212.80 L777.52,213.30 L777.81,213.80 L778.11,214.30 L778.40,214.80 L778.70,215.30 L779.00,215.80 L779.30,216.30 L779.60,216.80 L779.90,217.30 L780.20,217.80 L780.50,218.30 L780.80,218.80 L781.10,219.30 L781.39,219.80 L781.69,220.30 L781.98,220.80 L782.27,221.30 L782.56,221.80 L782.84,222.30 L783.13,222.80 L783.43,223.30 L783.73,223.80 L784.03,224.30 L784.33,224.80 L784.62,225.30 L784.90,225.80 L785.18,226.30 L785.43,226.80 L785.67,227.30 L785.89,227.80 L786.09,228.30 L786.28,228.80 L786.46,229.30 L786.63,229.80 L786.80,230.30 L786.96,230.80 L787.12,231.30 L787.26,231.80 L787.41,232.30 L787.54,232.80 L787.67,233.30 L787.80,233.80 L787.92,234.30 L788.04,234.80 L788.15,235.30 L788.25,235.80 L788.35,236.30 L788.44,236.80 L788.47,237.00 L788.5,237.0 Z" fill="#EFC000" stroke="#1a1a1a" stroke-width="1.45" stroke-linejoin="round"/>
<path d="M788.5,146.3 L788.47,146.30 L788.76,146.80 L789.06,147.30 L789.37,147.80 L789.69,148.30 L790.01,148.80 L790.34,149.30 L790.69,149.80 L791.04,150.30 L791.39,150.80 L791.76,151.30 L792.13,151.80 L792.51,152.30 L792.89,152.80 L793.29,153.30 L793.70,153.80 L794.13,154.30 L794.58,154.80 L795.04,155.30 L795.51,155.80 L795.98,156.30 L796.47,156.80 L796.95,157.30 L797.45,157.80 L797.94,158.30 L798.43,158.80 L798.91,159.30 L799.40,159.80 L799.87,160.30 L800.34,160.80 L800.79,161.30 L801.23,161.80 L801.67,162.30 L802.09,162.80 L802.52,163.30 L802.94,163.80 L803.36,164.30 L803.80,164.80 L804.24,165.30 L804.70,165.80 L805.19,166.30 L805.68,166.80 L806.17,167.30 L806.65,167.80 L807.12,168.30 L807.56,168.80 L807.97,169.30 L808.34,169.80 L808.67,170.30 L809.00,170.80 L809.34,171.30 L809.68,171.80 L810.01,172.30 L810.34,172.80 L810.67,173.30 L810.98,173.80 L811.27,174.30 L811.54,174.80 L811.80,175.30 L812.02,175.80 L812.22,176.30 L812.39,176.80 L812.52,177.30 L812.61,177.80 L812.66,178.30 L812.67,178.80 L812.63,179.30 L812.54,179.80 L812.42,180.30 L812.26,180.80 L812.07,181.30 L811.85,181.80 L811.61,182.30 L811.34,182.80 L811.05,183.30 L810.74,183.80 L810.42,184.30 L810.09,184.80 L809.76,185.30 L809.42,185.80 L809.08,186.30 L808.74,186.80 L808.40,187.30 L808.04,187.80 L807.65,188.30 L807.22,188.80 L806.76,189.30 L806.27,189.80 L805.77,190.30 L805.23,190.80 L804.69,191.30 L804.13,191.80 L803.55,192.30 L802.97,192.80 L802.39,193.30 L801.81,193.80 L801.22,194.30 L800.65,194.80 L800.08,195.30 L799.52,195.80 L798.98,196.30 L798.45,196.80 L797.92,197.30 L797.37,197.80 L796.82,198.30 L796.27,198.80 L795.73,199.30 L795.18,199.80 L794.65,200.30 L794.13,200.80 L793.63,201.30 L793.14,201.80 L792.68,202.30 L792.22,202.80 L791.76,203.30 L791.32,203.80 L790.93,204.30 L790.59,204.80 L790.31,205.30 L790.07,205.80 L789.86,206.30 L789.67,206.80 L789.48,207.30 L789.30,207.80 L789.12,208.30 L788.93,208.80 L788.74,209.30 L788.55,209.80 L788.47,210.00 L788.5,210.0 Z" fill="#4DBBD5" stroke="#1a1a1a" stroke-width="1.45" stroke-linejoin="round"/>
<line x1="788.5" x2="788.5" y1="84.8" y2="281.0" stroke="#1a1a1a" stroke-width="1.3"/>
<path d="M840.8,57.4 L840.76,57.40 L840.76,57.90 L840.75,58.40 L840.74,58.90 L840.74,59.40 L840.73,59.90 L840.73,60.40 L840.72,60.90 L840.71,61.40 L840.71,61.90 L840.70,62.40 L840.69,62.90 L840.68,63.40 L840.68,63.90 L840.67,64.40 L840.66,64.90 L840.65,65.40 L840.64,65.90 L840.63,66.40 L840.62,66.90 L840.62,67.40 L840.61,67.90 L840.60,68.40 L840.59,68.90 L840.58,69.40 L840.57,69.90 L840.56,70.40 L840.55,70.90 L840.54,71.40 L840.53,71.90 L840.52,72.40 L840.51,72.90 L840.49,73.40 L840.48,73.90 L840.47,74.40 L840.46,74.90 L840.45,75.40 L840.44,75.90 L840.43,76.40 L840.42,76.90 L840.41,77.40 L840.39,77.90 L840.38,78.40 L840.37,78.90 L840.35,79.40 L840.34,79.90 L840.32,80.40 L840.31,80.90 L840.29,81.40 L840.27,81.90 L840.25,82.40 L840.23,82.90 L840.21,83.40 L840.18,83.90 L840.16,84.40 L840.13,84.90 L840.10,85.40 L840.07,85.90 L840.04,86.40 L840.00,86.90 L839.96,87.40 L839.92,87.90 L839.88,88.40 L839.83,88.90 L839.78,89.40 L839.73,89.90 L839.66,90.40 L839.59,90.90 L839.50,91.40 L839.40,91.90 L839.30,92.40 L839.19,92.90 L839.07,93.40 L838.94,93.90 L838.81,94.40 L838.67,94.90 L838.52,95.40 L838.38,95.90 L838.22,96.40 L838.07,96.90 L837.92,97.40 L837.76,97.90 L837.60,98.40 L837.45,98.90 L837.29,99.40 L837.13,99.90 L836.97,100.40 L836.80,100.90 L836.63,101.40 L836.45,101.90 L836.26,102.40 L836.07,102.90 L835.87,103.40 L835.67,103.90 L835.47,104.40 L835.27,104.90 L835.06,105.40 L834.84,105.90 L834.63,106.40 L834.41,106.90 L834.20,107.40 L833.98,107.90 L833.76,108.40 L833.54,108.90 L833.32,109.40 L833.09,109.90 L832.86,110.40 L832.62,110.90 L832.38,111.40 L832.13,111.90 L831.88,112.40 L831.62,112.90 L831.37,113.40 L831.11,113.90 L830.85,114.40 L830.59,114.90 L830.33,115.40 L830.08,115.90 L829.82,116.40 L829.57,116.90 L829.32,117.40 L829.07,117.90 L828.83,118.40 L828.60,118.90 L828.37,119.40 L828.14,119.90 L827.92,120.40 L827.69,120.90 L827.47,121.40 L827.25,121.90 L827.04,122.40 L826.82,122.90 L826.61,123.40 L826.39,123.90 L826.18,124.40 L825.97,124.90 L825.77,125.40 L825.56,125.90 L825.35,126.40 L825.15,126.90 L824.94,127.40 L824.74,127.90 L824.54,128.40 L824.34,128.90 L824.14,129.40 L823.94,129.90 L823.74,130.40 L823.53,130.90 L823.33,131.40 L823.13,131.90 L822.93,132.40 L822.73,132.90 L822.53,133.40 L822.33,133.90 L822.14,134.40 L821.94,134.90 L821.76,135.40 L821.57,135.90 L821.39,136.40 L821.21,136.90 L821.04,137.40 L820.88,137.90 L820.71,138.40 L820.56,138.90 L820.41,139.40 L820.26,139.90 L820.11,140.40 L819.96,140.90 L819.82,141.40 L819.67,141.90 L819.53,142.40 L819.39,142.90 L819.26,143.40 L819.12,143.90 L819.00,144.40 L818.87,144.90 L818.75,145.40 L818.63,145.90 L818.52,146.40 L818.41,146.90 L818.31,147.40 L818.22,147.90 L818.13,148.40 L818.04,148.90 L817.96,149.40 L817.88,149.90 L817.80,150.40 L817.71,150.90 L817.63,151.40 L817.55,151.90 L817.48,152.40 L817.40,152.90 L817.33,153.40 L817.26,153.90 L817.20,154.40 L817.13,154.90 L817.08,155.40 L817.03,155.90 L816.98,156.40 L816.94,156.90 L816.91,157.40 L816.89,157.90 L816.87,158.40 L816.86,158.90 L816.85,159.40 L816.84,159.90 L816.83,160.40 L816.82,160.90 L816.81,161.40 L816.81,161.90 L816.80,162.40 L816.79,162.90 L816.79,163.40 L816.78,163.90 L816.78,164.40 L816.77,164.90 L816.77,165.40 L816.77,165.90 L816.77,166.40 L816.76,166.90 L816.76,167.40 L816.76,167.90 L816.76,168.40 L816.76,168.90 L816.78,169.40 L816.80,169.90 L816.84,170.40 L816.89,170.90 L816.94,171.40 L817.00,171.90 L817.07,172.40 L817.15,172.90 L817.23,173.40 L817.32,173.90 L817.41,174.40 L817.51,174.90 L817.61,175.40 L817.72,175.90 L817.83,176.40 L817.94,176.90 L818.05,177.40 L818.16,177.90 L818.27,178.40 L818.38,178.90 L818.49,179.40 L818.60,179.90 L818.72,180.40 L818.84,180.90 L818.97,181.40 L819.11,181.90 L819.26,182.40 L819.41,182.90 L819.56,183.40 L819.72,183.90 L819.89,184.40 L820.06,184.90 L820.23,185.40 L820.41,185.90 L820.59,186.40 L820.77,186.90 L820.95,187.40 L821.13,187.90 L821.32,188.40 L821.50,188.90 L821.69,189.40 L821.87,189.90 L822.06,190.40 L822.25,190.90 L822.45,191.40 L822.65,191.90 L822.86,192.40 L823.07,192.90 L823.28,193.40 L823.49,193.90 L823.71,194.40 L823.93,194.90 L824.15,195.40 L824.37,195.90 L824.59,196.40 L824.81,196.90 L825.03,197.40 L825.26,197.90 L825.48,198.40 L825.70,198.90 L825.92,199.40 L826.14,199.90 L826.36,200.40 L826.58,200.90 L826.81,201.40 L827.04,201.90 L827.27,202.40 L827.50,202.90 L827.73,203.40 L827.96,203.90 L828.19,204.40 L828.43,204.90 L828.66,205.40 L828.88,205.90 L829.11,206.40 L829.33,206.90 L829.55,207.40 L829.77,207.90 L829.99,208.40 L830.20,208.90 L830.40,209.40 L830.60,209.90 L830.80,210.40 L831.00,210.90 L831.20,211.40 L831.39,211.90 L831.59,212.40 L831.78,212.90 L831.97,213.40 L832.16,213.90 L832.34,214.40 L832.53,214.90 L832.71,215.40 L832.89,215.90 L833.07,216.40 L833.25,216.90 L833.43,217.40 L833.61,217.90 L833.78,218.40 L833.96,218.90 L834.13,219.40 L834.30,219.90 L834.47,220.40 L834.65,220.90 L834.82,221.40 L834.99,221.90 L835.16,222.40 L835.32,222.90 L835.49,223.40 L835.65,223.90 L835.82,224.40 L835.98,224.90 L836.14,225.40 L836.30,225.90 L836.45,226.40 L836.61,226.90 L836.76,227.40 L836.91,227.90 L837.06,228.40 L837.20,228.90 L837.35,229.40 L837.49,229.90 L837.63,230.40 L837.76,230.90 L837.90,231.40 L838.04,231.90 L838.17,232.40 L838.30,232.90 L838.43,233.40 L838.56,233.90 L838.69,234.40 L838.82,234.90 L838.94,235.40 L839.06,235.90 L839.18,236.40 L839.30,236.90 L839.42,237.40 L839.53,237.90 L839.65,238.40 L839.76,238.90 L839.87,239.40 L839.98,239.90 L840.08,240.40 L840.18,240.90 L840.28,241.40 L840.38,241.90 L840.48,242.40 L840.58,242.90 L840.67,243.40 L840.76,243.90 L840.8,243.9 Z" fill="#EFC000" stroke="#1a1a1a" stroke-width="1.45" stroke-linejoin="round"/>
<path d="M840.8,111.8 L840.76,111.80 L840.78,112.30 L840.80,112.80 L840.83,113.30 L840.86,113.80 L840.90,114.30 L840.94,114.80 L840.99,115.30 L841.04,115.80 L841.10,116.30 L841.15,116.80 L841.21,117.30 L841.28,117.80 L841.34,118.30 L841.41,118.80 L841.47,119.30 L841.55,119.80 L841.63,120.30 L841.71,120.80 L841.81,121.30 L841.91,121.80 L842.01,122.30 L842.13,122.80 L842.25,123.30 L842.37,123.80 L842.50,124.30 L842.64,124.80 L842.77,125.30 L842.92,125.80 L843.07,126.30 L843.22,126.80 L843.37,127.30 L843.53,127.80 L843.69,128.30 L843.86,128.80 L844.03,129.30 L844.21,129.80 L844.40,130.30 L844.61,130.80 L844.82,131.30 L845.05,131.80 L845.28,132.30 L845.53,132.80 L845.78,133.30 L846.04,133.80 L846.30,134.30 L846.57,134.80 L846.84,135.30 L847.12,135.80 L847.40,136.30 L847.68,136.80 L847.96,137.30 L848.24,137.80 L848.52,138.30 L848.80,138.80 L849.08,139.30 L849.37,139.80 L849.66,140.30 L849.96,140.80 L850.27,141.30 L850.57,141.80 L850.89,142.30 L851.20,142.80 L851.52,143.30 L851.84,143.80 L852.16,144.30 L852.49,144.80 L852.81,145.30 L853.14,145.80 L853.46,146.30 L853.78,146.80 L854.11,147.30 L854.43,147.80 L854.75,148.30 L855.06,148.80 L855.38,149.30 L855.69,149.80 L856.02,150.30 L856.34,150.80 L856.67,151.30 L857.00,151.80 L857.32,152.30 L857.65,152.80 L857.98,153.30 L858.30,153.80 L858.63,154.30 L858.95,154.80 L859.26,155.30 L859.58,155.80 L859.88,156.30 L860.18,156.80 L860.48,157.30 L860.76,157.80 L861.04,158.30 L861.31,158.80 L861.60,159.30 L861.90,159.80 L862.22,160.30 L862.54,160.80 L862.85,161.30 L863.15,161.80 L863.43,162.30 L863.69,162.80 L863.90,163.30 L864.07,163.80 L864.19,164.30 L864.25,164.80 L864.26,165.30 L864.24,165.80 L864.21,166.30 L864.18,166.80 L864.13,167.30 L864.07,167.80 L864.01,168.30 L863.94,168.80 L863.87,169.30 L863.79,169.80 L863.71,170.30 L863.61,170.80 L863.49,171.30 L863.36,171.80 L863.20,172.30 L863.04,172.80 L862.86,173.30 L862.67,173.80 L862.47,174.30 L862.27,174.80 L862.06,175.30 L861.85,175.80 L861.63,176.30 L861.39,176.80 L861.13,177.30 L860.85,177.80 L860.56,178.30 L860.25,178.80 L859.93,179.30 L859.60,179.80 L859.26,180.30 L858.92,180.80 L858.57,181.30 L858.22,181.80 L857.87,182.30 L857.52,182.80 L857.18,183.30 L856.84,183.80 L856.51,184.30 L856.20,184.80 L855.88,185.30 L855.56,185.80 L855.24,186.30 L854.92,186.80 L854.60,187.30 L854.28,187.80 L853.96,188.30 L853.64,188.80 L853.32,189.30 L853.00,189.80 L852.68,190.30 L852.37,190.80 L852.05,191.30 L851.75,191.80 L851.44,192.30 L851.14,192.80 L850.85,193.30 L850.56,193.80 L850.27,194.30 L849.99,194.80 L849.71,195.30 L849.43,195.80 L849.15,196.30 L848.87,196.80 L848.59,197.30 L848.32,197.80 L848.04,198.30 L847.77,198.80 L847.51,199.30 L847.25,199.80 L846.99,200.30 L846.74,200.80 L846.49,201.30 L846.26,201.80 L846.03,202.30 L845.81,202.80 L845.59,203.30 L845.39,203.80 L845.20,204.30 L845.01,204.80 L844.84,205.30 L844.67,205.80 L844.51,206.30 L844.35,206.80 L844.20,207.30 L844.06,207.80 L843.91,208.30 L843.77,208.80 L843.64,209.30 L843.50,209.80 L843.37,210.30 L843.23,210.80 L843.10,211.30 L842.97,211.80 L842.83,212.30 L842.69,212.80 L842.55,213.30 L842.41,213.80 L842.26,214.30 L842.11,214.80 L841.96,215.30 L841.81,215.80 L841.65,216.30 L841.50,216.80 L841.35,217.30 L841.19,217.80 L841.04,218.30 L840.88,218.80 L840.76,219.20 L840.8,219.2 Z" fill="#4DBBD5" stroke="#1a1a1a" stroke-width="1.45" stroke-linejoin="round"/>
<line x1="840.8" x2="840.8" y1="57.4" y2="291.0" stroke="#1a1a1a" stroke-width="1.3"/>
<path d="M893.1,81.0 L893.05,81.00 L893.04,81.50 L893.04,82.00 L893.03,82.50 L893.03,83.00 L893.02,83.50 L893.01,84.00 L893.01,84.50 L893.00,85.00 L892.99,85.50 L892.98,86.00 L892.98,86.50 L892.97,87.00 L892.96,87.50 L892.95,88.00 L892.95,88.50 L892.94,89.00 L892.93,89.50 L892.92,90.00 L892.92,90.50 L892.91,91.00 L892.90,91.50 L892.89,92.00 L892.88,92.50 L892.87,93.00 L892.87,93.50 L892.86,94.00 L892.85,94.50 L892.84,95.00 L892.83,95.50 L892.82,96.00 L892.81,96.50 L892.80,97.00 L892.80,97.50 L892.79,98.00 L892.78,98.50 L892.77,99.00 L892.76,99.50 L892.75,100.00 L892.74,100.50 L892.73,101.00 L892.72,101.50 L892.72,102.00 L892.71,102.50 L892.70,103.00 L892.69,103.50 L892.69,104.00 L892.68,104.50 L892.67,105.00 L892.66,105.50 L892.65,106.00 L892.64,106.50 L892.62,107.00 L892.61,107.50 L892.60,108.00 L892.58,108.50 L892.56,109.00 L892.54,109.50 L892.51,110.00 L892.47,110.50 L892.42,111.00 L892.35,111.50 L892.28,112.00 L892.20,112.50 L892.12,113.00 L892.03,113.50 L891.93,114.00 L891.83,114.50 L891.72,115.00 L891.62,115.50 L891.51,116.00 L891.39,116.50 L891.28,117.00 L891.16,117.50 L891.02,118.00 L890.88,118.50 L890.73,119.00 L890.56,119.50 L890.39,120.00 L890.21,120.50 L890.03,121.00 L889.84,121.50 L889.64,122.00 L889.44,122.50 L889.23,123.00 L889.02,123.50 L888.80,124.00 L888.58,124.50 L888.36,125.00 L888.14,125.50 L887.92,126.00 L887.69,126.50 L887.47,127.00 L887.23,127.50 L886.99,128.00 L886.73,128.50 L886.47,129.00 L886.20,129.50 L885.93,130.00 L885.65,130.50 L885.36,131.00 L885.07,131.50 L884.78,132.00 L884.49,132.50 L884.19,133.00 L883.90,133.50 L883.60,134.00 L883.31,134.50 L883.01,135.00 L882.72,135.50 L882.43,136.00 L882.15,136.50 L881.87,137.00 L881.58,137.50 L881.29,138.00 L880.99,138.50 L880.69,139.00 L880.39,139.50 L880.09,140.00 L879.79,140.50 L879.49,141.00 L879.20,141.50 L878.90,142.00 L878.61,142.50 L878.32,143.00 L878.03,143.50 L877.75,144.00 L877.48,144.50 L877.21,145.00 L876.95,145.50 L876.70,146.00 L876.45,146.50 L876.21,147.00 L875.97,147.50 L875.73,148.00 L875.49,148.50 L875.26,149.00 L875.02,149.50 L874.80,150.00 L874.57,150.50 L874.35,151.00 L874.13,151.50 L873.92,152.00 L873.71,152.50 L873.51,153.00 L873.31,153.50 L873.12,154.00 L872.93,154.50 L872.75,155.00 L872.58,155.50 L872.41,156.00 L872.25,156.50 L872.10,157.00 L871.93,157.50 L871.77,158.00 L871.62,158.50 L871.46,159.00 L871.30,159.50 L871.15,160.00 L871.01,160.50 L870.86,161.00 L870.73,161.50 L870.59,162.00 L870.47,162.50 L870.35,163.00 L870.25,163.50 L870.15,164.00 L870.06,164.50 L869.98,165.00 L869.91,165.50 L869.86,166.00 L869.81,166.50 L869.77,167.00 L869.73,167.50 L869.69,168.00 L869.65,168.50 L869.61,169.00 L869.57,169.50 L869.54,170.00 L869.52,170.50 L869.49,171.00 L869.48,171.50 L869.46,172.00 L869.45,172.50 L869.45,173.00 L869.47,173.50 L869.53,174.00 L869.63,174.50 L869.75,175.00 L869.90,175.50 L870.07,176.00 L870.26,176.50 L870.46,177.00 L870.67,177.50 L870.87,178.00 L871.08,178.50 L871.29,179.00 L871.48,179.50 L871.66,180.00 L871.84,180.50 L872.03,181.00 L872.22,181.50 L872.41,182.00 L872.60,182.50 L872.80,183.00 L873.01,183.50 L873.21,184.00 L873.42,184.50 L873.64,185.00 L873.85,185.50 L874.07,186.00 L874.30,186.50 L874.52,187.00 L874.75,187.50 L874.98,188.00 L875.22,188.50 L875.46,189.00 L875.70,189.50 L875.95,190.00 L876.21,190.50 L876.47,191.00 L876.75,191.50 L877.03,192.00 L877.32,192.50 L877.61,193.00 L877.91,193.50 L878.21,194.00 L878.51,194.50 L878.82,195.00 L879.12,195.50 L879.42,196.00 L879.73,196.50 L880.03,197.00 L880.32,197.50 L880.61,198.00 L880.90,198.50 L881.18,199.00 L881.45,199.50 L881.72,200.00 L881.98,200.50 L882.24,201.00 L882.49,201.50 L882.75,202.00 L883.00,202.50 L883.25,203.00 L883.50,203.50 L883.75,204.00 L883.99,204.50 L884.24,205.00 L884.48,205.50 L884.73,206.00 L884.97,206.50 L885.21,207.00 L885.46,207.50 L885.71,208.00 L885.95,208.50 L886.20,209.00 L886.45,209.50 L886.70,210.00 L886.95,210.50 L887.20,211.00 L887.45,211.50 L887.70,212.00 L887.95,212.50 L888.20,213.00 L888.45,213.50 L888.70,214.00 L888.95,214.50 L889.20,215.00 L889.45,215.50 L889.70,216.00 L889.95,216.50 L890.20,217.00 L890.47,217.50 L890.75,218.00 L891.04,218.50 L891.33,219.00 L891.60,219.50 L891.86,220.00 L892.10,220.50 L892.31,221.00 L892.49,221.50 L892.63,222.00 L892.76,222.50 L892.87,223.00 L892.97,223.50 L893.04,224.00 L893.05,224.10 L893.1,224.1 Z" fill="#EFC000" stroke="#1a1a1a" stroke-width="1.45" stroke-linejoin="round"/>
<path d="M893.1,129.1 L893.05,129.10 L893.31,129.60 L893.56,130.10 L893.82,130.60 L894.08,131.10 L894.33,131.60 L894.59,132.10 L894.84,132.60 L895.10,133.10 L895.35,133.60 L895.60,134.10 L895.85,134.60 L896.09,135.10 L896.33,135.60 L896.57,136.10 L896.81,136.60 L897.04,137.10 L897.27,137.60 L897.51,138.10 L897.74,138.60 L897.97,139.10 L898.21,139.60 L898.45,140.10 L898.70,140.60 L898.94,141.10 L899.20,141.60 L899.46,142.10 L899.72,142.60 L900.00,143.10 L900.28,143.60 L900.57,144.10 L900.87,144.60 L901.17,145.10 L901.49,145.60 L901.81,146.10 L902.14,146.60 L902.48,147.10 L902.83,147.60 L903.18,148.10 L903.53,148.60 L903.89,149.10 L904.26,149.60 L904.63,150.10 L905.00,150.60 L905.37,151.10 L905.75,151.60 L906.13,152.10 L906.51,152.60 L906.89,153.10 L907.27,153.60 L907.66,154.10 L908.08,154.60 L908.51,155.10 L908.96,155.60 L909.41,156.10 L909.86,156.60 L910.31,157.10 L910.75,157.60 L911.18,158.10 L911.58,158.60 L911.96,159.10 L912.30,159.60 L912.61,160.10 L912.88,160.60 L913.14,161.10 L913.38,161.60 L913.60,162.10 L913.82,162.60 L914.04,163.10 L914.25,163.60 L914.48,164.10 L914.72,164.60 L914.97,165.10 L915.23,165.60 L915.50,166.10 L915.75,166.60 L916.00,167.10 L916.23,167.60 L916.43,168.10 L916.61,168.60 L916.76,169.10 L916.87,169.60 L916.93,170.10 L916.95,170.60 L916.94,171.10 L916.90,171.60 L916.85,172.10 L916.79,172.60 L916.70,173.10 L916.61,173.60 L916.50,174.10 L916.38,174.60 L916.25,175.10 L916.11,175.60 L915.96,176.10 L915.80,176.60 L915.64,177.10 L915.47,177.60 L915.30,178.10 L915.13,178.60 L914.96,179.10 L914.78,179.60 L914.60,180.10 L914.40,180.60 L914.16,181.10 L913.91,181.60 L913.63,182.10 L913.34,182.60 L913.03,183.10 L912.71,183.60 L912.37,184.10 L912.03,184.60 L911.68,185.10 L911.32,185.60 L910.96,186.10 L910.60,186.60 L910.24,187.10 L909.89,187.60 L909.54,188.10 L909.20,188.60 L908.87,189.10 L908.55,189.60 L908.24,190.10 L907.92,190.60 L907.61,191.10 L907.29,191.60 L906.98,192.10 L906.66,192.60 L906.34,193.10 L906.02,193.60 L905.71,194.10 L905.39,194.60 L905.08,195.10 L904.77,195.60 L904.46,196.10 L904.15,196.60 L903.85,197.10 L903.55,197.60 L903.25,198.10 L902.96,198.60 L902.68,199.10 L902.39,199.60 L902.12,200.10 L901.84,200.60 L901.56,201.10 L901.29,201.60 L901.02,202.10 L900.75,202.60 L900.49,203.10 L900.22,203.60 L899.96,204.10 L899.70,204.60 L899.45,205.10 L899.20,205.60 L898.95,206.10 L898.70,206.60 L898.46,207.10 L898.22,207.60 L897.99,208.10 L897.76,208.60 L897.54,209.10 L897.32,209.60 L897.11,210.10 L896.90,210.60 L896.70,211.10 L896.50,211.60 L896.30,212.10 L896.11,212.60 L895.92,213.10 L895.74,213.60 L895.55,214.10 L895.36,214.60 L895.17,215.10 L894.98,215.60 L894.79,216.10 L894.59,216.60 L894.39,217.10 L894.19,217.60 L893.99,218.10 L893.78,218.60 L893.58,219.10 L893.38,219.60 L893.17,220.10 L893.05,220.40 L893.1,220.4 Z" fill="#4DBBD5" stroke="#1a1a1a" stroke-width="1.45" stroke-linejoin="round"/>
<line x1="893.1" x2="893.1" y1="81.0" y2="243.9" stroke="#1a1a1a" stroke-width="1.3"/>
<path d="M945.3,44.3 L945.34,44.30 L945.34,44.80 L945.34,45.30 L945.34,45.80 L945.34,46.30 L945.34,46.80 L945.34,47.30 L945.33,47.80 L945.33,48.30 L945.33,48.80 L945.33,49.30 L945.32,49.80 L945.32,50.30 L945.32,50.80 L945.31,51.30 L945.31,51.80 L945.31,52.30 L945.30,52.80 L945.30,53.30 L945.29,53.80 L945.29,54.30 L945.28,54.80 L945.28,55.30 L945.27,55.80 L945.27,56.30 L945.26,56.80 L945.26,57.30 L945.25,57.80 L945.24,58.30 L945.24,58.80 L945.23,59.30 L945.22,59.80 L945.22,60.30 L945.21,60.80 L945.20,61.30 L945.19,61.80 L945.18,62.30 L945.18,62.80 L945.17,63.30 L945.16,63.80 L945.15,64.30 L945.14,64.80 L945.13,65.30 L945.12,65.80 L945.11,66.30 L945.10,66.80 L945.09,67.30 L945.09,67.80 L945.08,68.30 L945.06,68.80 L945.05,69.30 L945.04,69.80 L945.03,70.30 L945.02,70.80 L945.00,71.30 L944.97,71.80 L944.95,72.30 L944.92,72.80 L944.90,73.30 L944.88,73.80 L944.85,74.30 L944.84,74.80 L944.82,75.30 L944.81,75.80 L944.80,76.30 L944.79,76.80 L944.78,77.30 L944.77,77.80 L944.76,78.30 L944.75,78.80 L944.73,79.30 L944.72,79.80 L944.71,80.30 L944.69,80.80 L944.67,81.30 L944.65,81.80 L944.63,82.30 L944.58,82.80 L944.52,83.30 L944.44,83.80 L944.34,84.30 L944.23,84.80 L944.10,85.30 L943.96,85.80 L943.82,86.30 L943.67,86.80 L943.52,87.30 L943.36,87.80 L943.20,88.30 L943.05,88.80 L942.90,89.30 L942.75,89.80 L942.60,90.30 L942.44,90.80 L942.28,91.30 L942.11,91.80 L941.94,92.30 L941.77,92.80 L941.58,93.30 L941.40,93.80 L941.21,94.30 L941.02,94.80 L940.83,95.30 L940.63,95.80 L940.43,96.30 L940.23,96.80 L940.02,97.30 L939.81,97.80 L939.61,98.30 L939.39,98.80 L939.18,99.30 L938.97,99.80 L938.74,100.30 L938.51,100.80 L938.27,101.30 L938.03,101.80 L937.78,102.30 L937.53,102.80 L937.28,103.30 L937.02,103.80 L936.76,104.30 L936.50,104.80 L936.24,105.30 L935.98,105.80 L935.72,106.30 L935.46,106.80 L935.21,107.30 L934.96,107.80 L934.71,108.30 L934.47,108.80 L934.24,109.30 L934.01,109.80 L933.78,110.30 L933.56,110.80 L933.34,111.30 L933.12,111.80 L932.90,112.30 L932.68,112.80 L932.47,113.30 L932.25,113.80 L932.04,114.30 L931.83,114.80 L931.62,115.30 L931.41,115.80 L931.20,116.30 L930.99,116.80 L930.78,117.30 L930.57,117.80 L930.37,118.30 L930.16,118.80 L929.96,119.30 L929.75,119.80 L929.54,120.30 L929.33,120.80 L929.12,121.30 L928.91,121.80 L928.70,122.30 L928.50,122.80 L928.29,123.30 L928.08,123.80 L927.88,124.30 L927.68,124.80 L927.48,125.30 L927.28,125.80 L927.09,126.30 L926.91,126.80 L926.72,127.30 L926.54,127.80 L926.37,128.30 L926.20,128.80 L926.04,129.30 L925.88,129.80 L925.72,130.30 L925.56,130.80 L925.40,131.30 L925.25,131.80 L925.09,132.30 L924.94,132.80 L924.79,133.30 L924.64,133.80 L924.50,134.30 L924.36,134.80 L924.23,135.30 L924.10,135.80 L923.98,136.30 L923.86,136.80 L923.75,137.30 L923.64,137.80 L923.55,138.30 L923.46,138.80 L923.37,139.30 L923.29,139.80 L923.21,140.30 L923.13,140.80 L923.05,141.30 L922.97,141.80 L922.90,142.30 L922.83,142.80 L922.76,143.30 L922.69,143.80 L922.63,144.30 L922.57,144.80 L922.51,145.30 L922.46,145.80 L922.41,146.30 L922.37,146.80 L922.33,147.30 L922.29,147.80 L922.26,148.30 L922.24,148.80 L922.21,149.30 L922.19,149.80 L922.16,150.30 L922.14,150.80 L922.12,151.30 L922.10,151.80 L922.08,152.30 L922.06,152.80 L922.04,153.30 L922.02,153.80 L922.01,154.30 L921.99,154.80 L921.98,155.30 L921.97,155.80 L921.96,156.30 L921.95,156.80 L921.95,157.30 L921.94,157.80 L921.94,158.30 L921.94,158.80 L921.95,159.30 L921.96,159.80 L921.98,160.30 L922.00,160.80 L922.03,161.30 L922.07,161.80 L922.11,162.30 L922.15,162.80 L922.20,163.30 L922.25,163.80 L922.31,164.30 L922.36,164.80 L922.42,165.30 L922.49,165.80 L922.55,166.30 L922.61,166.80 L922.68,167.30 L922.75,167.80 L922.81,168.30 L922.88,168.80 L922.96,169.30 L923.04,169.80 L923.13,170.30 L923.23,170.80 L923.34,171.30 L923.45,171.80 L923.57,172.30 L923.69,172.80 L923.82,173.30 L923.95,173.80 L924.09,174.30 L924.23,174.80 L924.37,175.30 L924.52,175.80 L924.66,176.30 L924.81,176.80 L924.97,177.30 L925.12,177.80 L925.27,178.30 L925.43,178.80 L925.58,179.30 L925.73,179.80 L925.89,180.30 L926.05,180.80 L926.22,181.30 L926.39,181.80 L926.56,182.30 L926.74,182.80 L926.93,183.30 L927.11,183.80 L927.30,184.30 L927.49,184.80 L927.69,185.30 L927.89,185.80 L928.09,186.30 L928.29,186.80 L928.50,187.30 L928.71,187.80 L928.91,188.30 L929.13,188.80 L929.34,189.30 L929.56,189.80 L929.78,190.30 L930.01,190.80 L930.24,191.30 L930.48,191.80 L930.73,192.30 L930.97,192.80 L931.23,193.30 L931.48,193.80 L931.73,194.30 L931.99,194.80 L932.25,195.30 L932.51,195.80 L932.76,196.30 L933.02,196.80 L933.28,197.30 L933.54,197.80 L933.79,198.30 L934.04,198.80 L934.29,199.30 L934.54,199.80 L934.78,200.30 L935.03,200.80 L935.28,201.30 L935.53,201.80 L935.77,202.30 L936.02,202.80 L936.27,203.30 L936.51,203.80 L936.76,204.30 L937.01,204.80 L937.26,205.30 L937.50,205.80 L937.75,206.30 L938.00,206.80 L938.25,207.30 L938.49,207.80 L938.74,208.30 L938.99,208.80 L939.24,209.30 L939.49,209.80 L939.75,210.30 L940.00,210.80 L940.26,211.30 L940.52,211.80 L940.78,212.30 L941.04,212.80 L941.29,213.30 L941.55,213.80 L941.80,214.30 L942.04,214.80 L942.28,215.30 L942.52,215.80 L942.75,216.30 L942.98,216.80 L943.20,217.30 L943.44,217.80 L943.66,218.30 L943.89,218.80 L944.10,219.30 L944.31,219.80 L944.50,220.30 L944.67,220.80 L944.81,221.30 L944.94,221.80 L945.06,222.30 L945.16,222.80 L945.25,223.30 L945.33,223.80 L945.34,223.90 L945.3,223.9 Z" fill="#EFC000" stroke="#1a1a1a" stroke-width="1.45" stroke-linejoin="round"/>
<path d="M945.3,94.5 L945.34,94.50 L945.54,95.00 L945.74,95.50 L945.95,96.00 L946.15,96.50 L946.35,97.00 L946.56,97.50 L946.76,98.00 L946.97,98.50 L947.17,99.00 L947.38,99.50 L947.59,100.00 L947.79,100.50 L948.00,101.00 L948.21,101.50 L948.41,102.00 L948.62,102.50 L948.82,103.00 L949.03,103.50 L949.24,104.00 L949.45,104.50 L949.66,105.00 L949.87,105.50 L950.08,106.00 L950.30,106.50 L950.51,107.00 L950.73,107.50 L950.95,108.00 L951.18,108.50 L951.40,109.00 L951.63,109.50 L951.87,110.00 L952.10,110.50 L952.34,111.00 L952.59,111.50 L952.83,112.00 L953.08,112.50 L953.33,113.00 L953.59,113.50 L953.84,114.00 L954.10,114.50 L954.35,115.00 L954.61,115.50 L954.87,116.00 L955.12,116.50 L955.38,117.00 L955.63,117.50 L955.89,118.00 L956.14,118.50 L956.39,119.00 L956.64,119.50 L956.89,120.00 L957.15,120.50 L957.40,121.00 L957.66,121.50 L957.92,122.00 L958.18,122.50 L958.44,123.00 L958.70,123.50 L958.95,124.00 L959.21,124.50 L959.46,125.00 L959.71,125.50 L959.96,126.00 L960.20,126.50 L960.44,127.00 L960.67,127.50 L960.90,128.00 L961.12,128.50 L961.34,129.00 L961.55,129.50 L961.76,130.00 L961.96,130.50 L962.16,131.00 L962.36,131.50 L962.56,132.00 L962.75,132.50 L962.94,133.00 L963.13,133.50 L963.31,134.00 L963.49,134.50 L963.68,135.00 L963.85,135.50 L964.03,136.00 L964.21,136.50 L964.38,137.00 L964.56,137.50 L964.73,138.00 L964.90,138.50 L965.07,139.00 L965.25,139.50 L965.44,140.00 L965.63,140.50 L965.82,141.00 L966.02,141.50 L966.22,142.00 L966.42,142.50 L966.62,143.00 L966.81,143.50 L967.00,144.00 L967.17,144.50 L967.34,145.00 L967.50,145.50 L967.65,146.00 L967.78,146.50 L967.89,147.00 L967.99,147.50 L968.07,148.00 L968.12,148.50 L968.16,149.00 L968.20,149.50 L968.23,150.00 L968.26,150.50 L968.29,151.00 L968.32,151.50 L968.35,152.00 L968.38,152.50 L968.40,153.00 L968.42,153.50 L968.44,154.00 L968.46,154.50 L968.48,155.00 L968.49,155.50 L968.51,156.00 L968.52,156.50 L968.53,157.00 L968.53,157.50 L968.54,158.00 L968.54,158.50 L968.53,159.00 L968.51,159.50 L968.47,160.00 L968.42,160.50 L968.35,161.00 L968.27,161.50 L968.18,162.00 L968.08,162.50 L967.97,163.00 L967.84,163.50 L967.71,164.00 L967.58,164.50 L967.43,165.00 L967.28,165.50 L967.13,166.00 L966.98,166.50 L966.82,167.00 L966.66,167.50 L966.50,168.00 L966.34,168.50 L966.17,169.00 L965.98,169.50 L965.76,170.00 L965.52,170.50 L965.27,171.00 L965.00,171.50 L964.72,172.00 L964.43,172.50 L964.12,173.00 L963.81,173.50 L963.49,174.00 L963.17,174.50 L962.84,175.00 L962.52,175.50 L962.19,176.00 L961.88,176.50 L961.56,177.00 L961.25,177.50 L960.96,178.00 L960.67,178.50 L960.40,179.00 L960.14,179.50 L959.89,180.00 L959.65,180.50 L959.41,181.00 L959.17,181.50 L958.94,182.00 L958.71,182.50 L958.49,183.00 L958.26,183.50 L958.04,184.00 L957.82,184.50 L957.60,185.00 L957.38,185.50 L957.17,186.00 L956.95,186.50 L956.73,187.00 L956.52,187.50 L956.30,188.00 L956.09,188.50 L955.87,189.00 L955.65,189.50 L955.43,190.00 L955.22,190.50 L955.00,191.00 L954.78,191.50 L954.56,192.00 L954.35,192.50 L954.13,193.00 L953.91,193.50 L953.70,194.00 L953.49,194.50 L953.27,195.00 L953.06,195.50 L952.85,196.00 L952.64,196.50 L952.43,197.00 L952.23,197.50 L952.02,198.00 L951.82,198.50 L951.62,199.00 L951.42,199.50 L951.22,200.00 L951.03,200.50 L950.84,201.00 L950.65,201.50 L950.46,202.00 L950.27,202.50 L950.08,203.00 L949.90,203.50 L949.71,204.00 L949.53,204.50 L949.34,205.00 L949.16,205.50 L948.98,206.00 L948.79,206.50 L948.61,207.00 L948.43,207.50 L948.25,208.00 L948.06,208.50 L947.88,209.00 L947.69,209.50 L947.49,210.00 L947.29,210.50 L947.09,211.00 L946.88,211.50 L946.69,212.00 L946.50,212.50 L946.33,213.00 L946.17,213.50 L946.04,214.00 L945.92,214.50 L945.81,215.00 L945.70,215.50 L945.60,216.00 L945.51,216.50 L945.43,217.00 L945.36,217.50 L945.34,217.70 L945.3,217.7 Z" fill="#4DBBD5" stroke="#1a1a1a" stroke-width="1.45" stroke-linejoin="round"/>
<line x1="945.3" x2="945.3" y1="44.3" y2="263.7" stroke="#1a1a1a" stroke-width="1.3"/>
<path d="M997.6,64.9 L997.63,64.90 L997.63,65.40 L997.63,65.90 L997.63,66.40 L997.63,66.90 L997.62,67.40 L997.62,67.90 L997.62,68.40 L997.62,68.90 L997.62,69.40 L997.61,69.90 L997.61,70.40 L997.61,70.90 L997.61,71.40 L997.60,71.90 L997.60,72.40 L997.60,72.90 L997.59,73.40 L997.59,73.90 L997.58,74.40 L997.58,74.90 L997.58,75.40 L997.57,75.90 L997.57,76.40 L997.56,76.90 L997.56,77.40 L997.55,77.90 L997.55,78.40 L997.54,78.90 L997.54,79.40 L997.53,79.90 L997.53,80.40 L997.52,80.90 L997.51,81.40 L997.51,81.90 L997.50,82.40 L997.50,82.90 L997.49,83.40 L997.48,83.90 L997.48,84.40 L997.47,84.90 L997.46,85.40 L997.46,85.90 L997.45,86.40 L997.44,86.90 L997.44,87.40 L997.43,87.90 L997.42,88.40 L997.42,88.90 L997.41,89.40 L997.40,89.90 L997.40,90.40 L997.39,90.90 L997.38,91.40 L997.37,91.90 L997.37,92.40 L997.36,92.90 L997.35,93.40 L997.35,93.90 L997.34,94.40 L997.33,94.90 L997.32,95.40 L997.32,95.90 L997.31,96.40 L997.30,96.90 L997.30,97.40 L997.29,97.90 L997.28,98.40 L997.27,98.90 L997.26,99.40 L997.25,99.90 L997.24,100.40 L997.23,100.90 L997.22,101.40 L997.21,101.90 L997.19,102.40 L997.18,102.90 L997.16,103.40 L997.15,103.90 L997.13,104.40 L997.09,104.90 L997.05,105.40 L996.98,105.90 L996.90,106.40 L996.81,106.90 L996.71,107.40 L996.59,107.90 L996.46,108.40 L996.33,108.90 L996.19,109.40 L996.04,109.90 L995.88,110.40 L995.72,110.90 L995.56,111.40 L995.39,111.90 L995.23,112.40 L995.06,112.90 L994.89,113.40 L994.73,113.90 L994.56,114.40 L994.39,114.90 L994.21,115.40 L994.02,115.90 L993.83,116.40 L993.62,116.90 L993.41,117.40 L993.19,117.90 L992.96,118.40 L992.73,118.90 L992.50,119.40 L992.26,119.90 L992.02,120.40 L991.78,120.90 L991.53,121.40 L991.29,121.90 L991.05,122.40 L990.80,122.90 L990.56,123.40 L990.32,123.90 L990.09,124.40 L989.85,124.90 L989.61,125.40 L989.36,125.90 L989.11,126.40 L988.86,126.90 L988.61,127.40 L988.36,127.90 L988.11,128.40 L987.85,128.90 L987.60,129.40 L987.34,129.90 L987.08,130.40 L986.83,130.90 L986.58,131.40 L986.32,131.90 L986.07,132.40 L985.82,132.90 L985.57,133.40 L985.33,133.90 L985.09,134.40 L984.84,134.90 L984.59,135.40 L984.35,135.90 L984.10,136.40 L983.85,136.90 L983.61,137.40 L983.36,137.90 L983.11,138.40 L982.87,138.90 L982.63,139.40 L982.39,139.90 L982.15,140.40 L981.92,140.90 L981.69,141.40 L981.46,141.90 L981.23,142.40 L981.01,142.90 L980.80,143.40 L980.59,143.90 L980.38,144.40 L980.17,144.90 L979.96,145.40 L979.75,145.90 L979.54,146.40 L979.34,146.90 L979.14,147.40 L978.93,147.90 L978.74,148.40 L978.54,148.90 L978.35,149.40 L978.16,149.90 L977.98,150.40 L977.81,150.90 L977.63,151.40 L977.47,151.90 L977.31,152.40 L977.16,152.90 L977.01,153.40 L976.88,153.90 L976.74,154.40 L976.61,154.90 L976.49,155.40 L976.36,155.90 L976.24,156.40 L976.12,156.90 L976.01,157.40 L975.89,157.90 L975.79,158.40 L975.68,158.90 L975.58,159.40 L975.47,159.90 L975.38,160.40 L975.28,160.90 L975.19,161.40 L975.10,161.90 L975.01,162.40 L974.93,162.90 L974.85,163.40 L974.76,163.90 L974.68,164.40 L974.59,164.90 L974.50,165.40 L974.41,165.90 L974.33,166.40 L974.26,166.90 L974.19,167.40 L974.13,167.90 L974.08,168.40 L974.05,168.90 L974.03,169.40 L974.03,169.90 L974.03,170.40 L974.04,170.90 L974.05,171.40 L974.06,171.90 L974.07,172.40 L974.08,172.90 L974.10,173.40 L974.12,173.90 L974.14,174.40 L974.16,174.90 L974.18,175.40 L974.21,175.90 L974.23,176.40 L974.26,176.90 L974.29,177.40 L974.32,177.90 L974.35,178.40 L974.39,178.90 L974.42,179.40 L974.47,179.90 L974.53,180.40 L974.61,180.90 L974.71,181.40 L974.82,181.90 L974.95,182.40 L975.09,182.90 L975.24,183.40 L975.40,183.90 L975.57,184.40 L975.75,184.90 L975.94,185.40 L976.13,185.90 L976.32,186.40 L976.51,186.90 L976.71,187.40 L976.90,187.90 L977.10,188.40 L977.28,188.90 L977.47,189.40 L977.65,189.90 L977.84,190.40 L978.03,190.90 L978.23,191.40 L978.44,191.90 L978.64,192.40 L978.86,192.90 L979.07,193.40 L979.29,193.90 L979.52,194.40 L979.74,194.90 L979.97,195.40 L980.21,195.90 L980.45,196.40 L980.69,196.90 L980.93,197.40 L981.18,197.90 L981.43,198.40 L981.68,198.90 L981.93,199.40 L982.20,199.90 L982.47,200.40 L982.74,200.90 L983.03,201.40 L983.32,201.90 L983.62,202.40 L983.92,202.90 L984.22,203.40 L984.53,203.90 L984.84,204.40 L985.15,204.90 L985.46,205.40 L985.78,205.90 L986.09,206.40 L986.40,206.90 L986.71,207.40 L987.01,207.90 L987.32,208.40 L987.61,208.90 L987.91,209.40 L988.20,209.90 L988.50,210.40 L988.80,210.90 L989.10,211.40 L989.40,211.90 L989.70,212.40 L990.01,212.90 L990.31,213.40 L990.60,213.90 L990.90,214.40 L991.19,214.90 L991.48,215.40 L991.77,215.90 L992.05,216.40 L992.33,216.90 L992.60,217.40 L992.87,217.90 L993.13,218.40 L993.38,218.90 L993.63,219.40 L993.87,219.90 L994.10,220.40 L994.33,220.90 L994.55,221.40 L994.78,221.90 L994.99,222.40 L995.21,222.90 L995.42,223.40 L995.63,223.90 L995.84,224.40 L996.05,224.90 L996.26,225.40 L996.46,225.90 L996.67,226.40 L996.88,226.90 L997.08,227.40 L997.28,227.90 L997.47,228.40 L997.63,228.80 L997.6,228.8 Z" fill="#EFC000" stroke="#1a1a1a" stroke-width="1.45" stroke-linejoin="round"/>
<path d="M997.6,131.5 L997.63,131.50 L997.72,132.00 L997.82,132.50 L997.94,133.00 L998.07,133.50 L998.22,134.00 L998.37,134.50 L998.54,135.00 L998.72,135.50 L998.90,136.00 L999.10,136.50 L999.30,137.00 L999.51,137.50 L999.73,138.00 L999.95,138.50 L1000.18,139.00 L1000.42,139.50 L1000.68,140.00 L1000.97,140.50 L1001.28,141.00 L1001.60,141.50 L1001.93,142.00 L1002.29,142.50 L1002.65,143.00 L1003.02,143.50 L1003.41,144.00 L1003.80,144.50 L1004.19,145.00 L1004.59,145.50 L1004.99,146.00 L1005.39,146.50 L1005.81,147.00 L1006.25,147.50 L1006.71,148.00 L1007.18,148.50 L1007.66,149.00 L1008.15,149.50 L1008.65,150.00 L1009.15,150.50 L1009.66,151.00 L1010.17,151.50 L1010.67,152.00 L1011.17,152.50 L1011.67,153.00 L1012.15,153.50 L1012.63,154.00 L1013.11,154.50 L1013.60,155.00 L1014.10,155.50 L1014.61,156.00 L1015.12,156.50 L1015.63,157.00 L1016.13,157.50 L1016.62,158.00 L1017.09,158.50 L1017.55,159.00 L1017.98,159.50 L1018.38,160.00 L1018.74,160.50 L1019.07,161.00 L1019.37,161.50 L1019.69,162.00 L1020.00,162.50 L1020.31,163.00 L1020.59,163.50 L1020.84,164.00 L1021.05,164.50 L1021.21,165.00 L1021.30,165.50 L1021.33,166.00 L1021.26,166.50 L1021.10,167.00 L1020.86,167.50 L1020.55,168.00 L1020.18,168.50 L1019.77,169.00 L1019.32,169.50 L1018.84,170.00 L1018.36,170.50 L1017.87,171.00 L1017.38,171.50 L1016.92,172.00 L1016.46,172.50 L1015.97,173.00 L1015.44,173.50 L1014.88,174.00 L1014.30,174.50 L1013.69,175.00 L1013.08,175.50 L1012.45,176.00 L1011.82,176.50 L1011.19,177.00 L1010.57,177.50 L1009.96,178.00 L1009.36,178.50 L1008.78,179.00 L1008.23,179.50 L1007.69,180.00 L1007.15,180.50 L1006.62,181.00 L1006.08,181.50 L1005.55,182.00 L1005.03,182.50 L1004.51,183.00 L1004.00,183.50 L1003.50,184.00 L1003.00,184.50 L1002.52,185.00 L1002.06,185.50 L1001.60,186.00 L1001.17,186.50 L1000.75,187.00 L1000.33,187.50 L999.92,188.00 L999.52,188.50 L999.14,189.00 L998.79,189.50 L998.47,190.00 L998.18,190.50 L997.94,191.00 L997.74,191.50 L997.63,191.80 L997.6,191.8 Z" fill="#4DBBD5" stroke="#1a1a1a" stroke-width="1.45" stroke-linejoin="round"/>
<line x1="997.6" x2="997.6" y1="64.9" y2="257.5" stroke="#1a1a1a" stroke-width="1.3"/>
<path d="M1049.9,57.5 L1049.92,57.50 L1049.90,58.00 L1049.87,58.50 L1049.85,59.00 L1049.83,59.50 L1049.81,60.00 L1049.79,60.50 L1049.77,61.00 L1049.75,61.50 L1049.73,62.00 L1049.71,62.50 L1049.69,63.00 L1049.67,63.50 L1049.65,64.00 L1049.64,64.50 L1049.62,65.00 L1049.60,65.50 L1049.59,66.00 L1049.58,66.50 L1049.57,67.00 L1049.56,67.50 L1049.55,68.00 L1049.54,68.50 L1049.53,69.00 L1049.52,69.50 L1049.50,70.00 L1049.49,70.50 L1049.47,71.00 L1049.46,71.50 L1049.43,72.00 L1049.41,72.50 L1049.36,73.00 L1049.29,73.50 L1049.20,74.00 L1049.09,74.50 L1048.96,75.00 L1048.82,75.50 L1048.67,76.00 L1048.51,76.50 L1048.34,77.00 L1048.17,77.50 L1048.00,78.00 L1047.82,78.50 L1047.65,79.00 L1047.48,79.50 L1047.32,80.00 L1047.16,80.50 L1046.99,81.00 L1046.81,81.50 L1046.63,82.00 L1046.44,82.50 L1046.25,83.00 L1046.06,83.50 L1045.86,84.00 L1045.66,84.50 L1045.46,85.00 L1045.25,85.50 L1045.04,86.00 L1044.83,86.50 L1044.61,87.00 L1044.40,87.50 L1044.18,88.00 L1043.96,88.50 L1043.74,89.00 L1043.52,89.50 L1043.30,90.00 L1043.07,90.50 L1042.83,91.00 L1042.59,91.50 L1042.34,92.00 L1042.09,92.50 L1041.84,93.00 L1041.58,93.50 L1041.32,94.00 L1041.06,94.50 L1040.80,95.00 L1040.55,95.50 L1040.29,96.00 L1040.03,96.50 L1039.78,97.00 L1039.53,97.50 L1039.28,98.00 L1039.04,98.50 L1038.80,99.00 L1038.57,99.50 L1038.35,100.00 L1038.12,100.50 L1037.90,101.00 L1037.68,101.50 L1037.46,102.00 L1037.24,102.50 L1037.02,103.00 L1036.81,103.50 L1036.60,104.00 L1036.39,104.50 L1036.18,105.00 L1035.97,105.50 L1035.76,106.00 L1035.55,106.50 L1035.35,107.00 L1035.15,107.50 L1034.94,108.00 L1034.74,108.50 L1034.54,109.00 L1034.34,109.50 L1034.14,110.00 L1033.94,110.50 L1033.73,111.00 L1033.53,111.50 L1033.33,112.00 L1033.13,112.50 L1032.93,113.00 L1032.73,113.50 L1032.53,114.00 L1032.33,114.50 L1032.14,115.00 L1031.95,115.50 L1031.77,116.00 L1031.59,116.50 L1031.41,117.00 L1031.24,117.50 L1031.07,118.00 L1030.91,118.50 L1030.75,119.00 L1030.60,119.50 L1030.45,120.00 L1030.30,120.50 L1030.15,121.00 L1030.01,121.50 L1029.86,122.00 L1029.72,122.50 L1029.58,123.00 L1029.44,123.50 L1029.31,124.00 L1029.18,124.50 L1029.06,125.00 L1028.93,125.50 L1028.82,126.00 L1028.70,126.50 L1028.60,127.00 L1028.49,127.50 L1028.40,128.00 L1028.31,128.50 L1028.22,129.00 L1028.14,129.50 L1028.05,130.00 L1027.97,130.50 L1027.88,131.00 L1027.80,131.50 L1027.72,132.00 L1027.64,132.50 L1027.56,133.00 L1027.48,133.50 L1027.41,134.00 L1027.34,134.50 L1027.28,135.00 L1027.22,135.50 L1027.17,136.00 L1027.13,136.50 L1027.09,137.00 L1027.06,137.50 L1027.04,138.00 L1027.02,138.50 L1027.02,139.00 L1027.02,139.50 L1027.02,140.00 L1027.02,140.50 L1027.02,141.00 L1027.03,141.50 L1027.03,142.00 L1027.03,142.50 L1027.04,143.00 L1027.04,143.50 L1027.05,144.00 L1027.05,144.50 L1027.06,145.00 L1027.07,145.50 L1027.07,146.00 L1027.08,146.50 L1027.09,147.00 L1027.10,147.50 L1027.11,148.00 L1027.12,148.50 L1027.13,149.00 L1027.15,149.50 L1027.19,150.00 L1027.24,150.50 L1027.29,151.00 L1027.36,151.50 L1027.44,152.00 L1027.52,152.50 L1027.62,153.00 L1027.71,153.50 L1027.82,154.00 L1027.93,154.50 L1028.04,155.00 L1028.16,155.50 L1028.28,156.00 L1028.40,156.50 L1028.53,157.00 L1028.65,157.50 L1028.77,158.00 L1028.90,158.50 L1029.02,159.00 L1029.15,159.50 L1029.30,160.00 L1029.45,160.50 L1029.61,161.00 L1029.77,161.50 L1029.95,162.00 L1030.13,162.50 L1030.31,163.00 L1030.50,163.50 L1030.69,164.00 L1030.89,164.50 L1031.09,165.00 L1031.29,165.50 L1031.49,166.00 L1031.69,166.50 L1031.89,167.00 L1032.10,167.50 L1032.30,168.00 L1032.49,168.50 L1032.69,169.00 L1032.88,169.50 L1033.07,170.00 L1033.26,170.50 L1033.45,171.00 L1033.64,171.50 L1033.84,172.00 L1034.03,172.50 L1034.22,173.00 L1034.42,173.50 L1034.61,174.00 L1034.81,174.50 L1035.01,175.00 L1035.21,175.50 L1035.40,176.00 L1035.60,176.50 L1035.80,177.00 L1036.01,177.50 L1036.21,178.00 L1036.41,178.50 L1036.62,179.00 L1036.82,179.50 L1037.03,180.00 L1037.24,180.50 L1037.45,181.00 L1037.66,181.50 L1037.87,182.00 L1038.09,182.50 L1038.30,183.00 L1038.52,183.50 L1038.74,184.00 L1038.96,184.50 L1039.18,185.00 L1039.39,185.50 L1039.61,186.00 L1039.83,186.50 L1040.04,187.00 L1040.26,187.50 L1040.47,188.00 L1040.68,188.50 L1040.89,189.00 L1041.10,189.50 L1041.31,190.00 L1041.52,190.50 L1041.74,191.00 L1041.95,191.50 L1042.16,192.00 L1042.38,192.50 L1042.59,193.00 L1042.80,193.50 L1043.01,194.00 L1043.22,194.50 L1043.42,195.00 L1043.63,195.50 L1043.83,196.00 L1044.03,196.50 L1044.22,197.00 L1044.41,197.50 L1044.60,198.00 L1044.78,198.50 L1044.95,199.00 L1045.12,199.50 L1045.29,200.00 L1045.45,200.50 L1045.62,201.00 L1045.78,201.50 L1045.94,202.00 L1046.10,202.50 L1046.25,203.00 L1046.40,203.50 L1046.55,204.00 L1046.70,204.50 L1046.84,205.00 L1046.99,205.50 L1047.12,206.00 L1047.26,206.50 L1047.39,207.00 L1047.52,207.50 L1047.65,208.00 L1047.78,208.50 L1047.90,209.00 L1048.01,209.50 L1048.13,210.00 L1048.24,210.50 L1048.34,211.00 L1048.44,211.50 L1048.54,212.00 L1048.64,212.50 L1048.74,213.00 L1048.83,213.50 L1048.93,214.00 L1049.02,214.50 L1049.12,215.00 L1049.22,215.50 L1049.32,216.00 L1049.42,216.50 L1049.52,217.00 L1049.63,217.50 L1049.73,218.00 L1049.84,218.50 L1049.92,218.90 L1049.9,218.9 Z" fill="#EFC000" stroke="#1a1a1a" stroke-width="1.45" stroke-linejoin="round"/>
<path d="M1049.9,99.4 L1049.92,99.40 L1049.94,99.90 L1049.98,100.40 L1050.06,100.90 L1050.16,101.40 L1050.28,101.90 L1050.43,102.40 L1050.60,102.90 L1050.79,103.40 L1050.99,103.90 L1051.21,104.40 L1051.45,104.90 L1051.69,105.40 L1051.95,105.90 L1052.21,106.40 L1052.48,106.90 L1052.82,107.40 L1053.25,107.90 L1053.75,108.40 L1054.31,108.90 L1054.92,109.40 L1055.55,109.90 L1056.20,110.40 L1056.84,110.90 L1057.46,111.40 L1058.05,111.90 L1058.65,112.40 L1059.26,112.90 L1059.87,113.40 L1060.50,113.90 L1061.12,114.40 L1061.76,114.90 L1062.39,115.40 L1063.02,115.90 L1063.65,116.40 L1064.27,116.90 L1064.92,117.40 L1065.60,117.90 L1066.28,118.40 L1066.97,118.90 L1067.64,119.40 L1068.28,119.90 L1068.89,120.40 L1069.45,120.90 L1069.94,121.40 L1070.38,121.90 L1070.83,122.40 L1071.28,122.90 L1071.72,123.40 L1072.13,123.90 L1072.50,124.40 L1072.82,124.90 L1073.07,125.40 L1073.24,125.90 L1073.32,126.40 L1073.29,126.90 L1073.17,127.40 L1072.97,127.90 L1072.71,128.40 L1072.38,128.90 L1072.00,129.40 L1071.59,129.90 L1071.15,130.40 L1070.68,130.90 L1070.21,131.40 L1069.68,131.90 L1068.99,132.40 L1068.16,132.90 L1067.24,133.40 L1066.25,133.90 L1065.22,134.40 L1064.21,134.90 L1063.23,135.40 L1062.32,135.90 L1061.52,136.40 L1060.79,136.90 L1060.07,137.40 L1059.37,137.90 L1058.69,138.40 L1058.03,138.90 L1057.40,139.40 L1056.80,139.90 L1056.23,140.40 L1055.71,140.90 L1055.23,141.40 L1054.77,141.90 L1054.34,142.40 L1053.93,142.90 L1053.54,143.40 L1053.16,143.90 L1052.81,144.40 L1052.47,144.90 L1052.15,145.40 L1051.85,145.90 L1051.56,146.40 L1051.29,146.90 L1051.03,147.40 L1050.79,147.90 L1050.55,148.40 L1050.34,148.90 L1050.14,149.40 L1049.95,149.90 L1049.92,150.00 L1049.9,150.0 Z" fill="#4DBBD5" stroke="#1a1a1a" stroke-width="1.45" stroke-linejoin="round"/>
<line x1="1049.9" x2="1049.9" y1="57.5" y2="260.3" stroke="#1a1a1a" stroke-width="1.3"/>
<path d="M1102.2,115.4 L1102.21,115.40 L1102.21,115.90 L1102.21,116.40 L1102.20,116.90 L1102.20,117.40 L1102.19,117.90 L1102.18,118.40 L1102.17,118.90 L1102.16,119.40 L1102.15,119.90 L1102.14,120.40 L1102.12,120.90 L1102.11,121.40 L1102.09,121.90 L1102.07,122.40 L1102.05,122.90 L1102.03,123.40 L1102.01,123.90 L1101.99,124.40 L1101.97,124.90 L1101.95,125.40 L1101.92,125.90 L1101.90,126.40 L1101.87,126.90 L1101.84,127.40 L1101.82,127.90 L1101.79,128.40 L1101.75,128.90 L1101.70,129.40 L1101.65,129.90 L1101.59,130.40 L1101.53,130.90 L1101.46,131.40 L1101.38,131.90 L1101.30,132.40 L1101.21,132.90 L1101.11,133.40 L1101.01,133.90 L1100.89,134.40 L1100.74,134.90 L1100.56,135.40 L1100.35,135.90 L1100.12,136.40 L1099.87,136.90 L1099.59,137.40 L1099.30,137.90 L1099.00,138.40 L1098.68,138.90 L1098.36,139.40 L1098.02,139.90 L1097.68,140.40 L1097.34,140.90 L1096.99,141.40 L1096.65,141.90 L1096.31,142.40 L1095.98,142.90 L1095.66,143.40 L1095.35,143.90 L1095.03,144.40 L1094.71,144.90 L1094.39,145.40 L1094.06,145.90 L1093.72,146.40 L1093.38,146.90 L1093.03,147.40 L1092.69,147.90 L1092.34,148.40 L1091.99,148.90 L1091.64,149.40 L1091.29,149.90 L1090.94,150.40 L1090.59,150.90 L1090.25,151.40 L1089.90,151.90 L1089.57,152.40 L1089.23,152.90 L1088.90,153.40 L1088.58,153.90 L1088.26,154.40 L1087.93,154.90 L1087.61,155.40 L1087.28,155.90 L1086.96,156.40 L1086.63,156.90 L1086.31,157.40 L1085.99,157.90 L1085.67,158.40 L1085.36,158.90 L1085.04,159.40 L1084.74,159.90 L1084.44,160.40 L1084.14,160.90 L1083.85,161.40 L1083.57,161.90 L1083.29,162.40 L1083.02,162.90 L1082.76,163.40 L1082.50,163.90 L1082.24,164.40 L1081.98,164.90 L1081.71,165.40 L1081.45,165.90 L1081.20,166.40 L1080.96,166.90 L1080.73,167.40 L1080.53,167.90 L1080.34,168.40 L1080.18,168.90 L1080.05,169.40 L1079.95,169.90 L1079.85,170.40 L1079.76,170.90 L1079.67,171.40 L1079.58,171.90 L1079.49,172.40 L1079.41,172.90 L1079.33,173.40 L1079.25,173.90 L1079.18,174.40 L1079.12,174.90 L1079.06,175.40 L1079.00,175.90 L1078.96,176.40 L1078.91,176.90 L1078.88,177.40 L1078.85,177.90 L1078.83,178.40 L1078.82,178.90 L1078.81,179.40 L1078.82,179.90 L1078.84,180.40 L1078.89,180.90 L1078.95,181.40 L1079.03,181.90 L1079.12,182.40 L1079.22,182.90 L1079.34,183.40 L1079.47,183.90 L1079.61,184.40 L1079.75,184.90 L1079.91,185.40 L1080.07,185.90 L1080.23,186.40 L1080.40,186.90 L1080.57,187.40 L1080.74,187.90 L1080.91,188.40 L1081.08,188.90 L1081.24,189.40 L1081.42,189.90 L1081.61,190.40 L1081.81,190.90 L1082.02,191.40 L1082.25,191.90 L1082.49,192.40 L1082.73,192.90 L1082.98,193.40 L1083.24,193.90 L1083.51,194.40 L1083.78,194.90 L1084.06,195.40 L1084.34,195.90 L1084.62,196.40 L1084.91,196.90 L1085.19,197.40 L1085.48,197.90 L1085.76,198.40 L1086.04,198.90 L1086.32,199.40 L1086.60,199.90 L1086.89,200.40 L1087.19,200.90 L1087.48,201.40 L1087.78,201.90 L1088.09,202.40 L1088.40,202.90 L1088.71,203.40 L1089.02,203.90 L1089.34,204.40 L1089.65,204.90 L1089.97,205.40 L1090.29,205.90 L1090.61,206.40 L1090.92,206.90 L1091.24,207.40 L1091.56,207.90 L1091.87,208.40 L1092.19,208.90 L1092.50,209.40 L1092.82,209.90 L1093.14,210.40 L1093.47,210.90 L1093.80,211.40 L1094.14,211.90 L1094.47,212.40 L1094.81,212.90 L1095.14,213.40 L1095.48,213.90 L1095.81,214.40 L1096.13,214.90 L1096.45,215.40 L1096.77,215.90 L1097.08,216.40 L1097.37,216.90 L1097.66,217.40 L1097.94,217.90 L1098.21,218.40 L1098.46,218.90 L1098.70,219.40 L1098.93,219.90 L1099.14,220.40 L1099.34,220.90 L1099.54,221.40 L1099.73,221.90 L1099.92,222.40 L1100.11,222.90 L1100.31,223.40 L1100.50,223.90 L1100.71,224.40 L1100.92,224.90 L1101.15,225.40 L1101.38,225.90 L1101.62,226.40 L1101.86,226.90 L1102.11,227.40 L1102.21,227.60 L1102.2,227.6 Z" fill="#EFC000" stroke="#1a1a1a" stroke-width="1.45" stroke-linejoin="round"/>
<path d="M1102.2,146.2 L1102.21,146.20 L1102.74,146.70 L1103.26,147.20 L1103.76,147.70 L1104.26,148.20 L1104.74,148.70 L1105.20,149.20 L1105.65,149.70 L1106.08,150.20 L1106.49,150.70 L1106.87,151.20 L1107.24,151.70 L1107.60,152.20 L1107.96,152.70 L1108.32,153.20 L1108.68,153.70 L1109.06,154.20 L1109.46,154.70 L1109.88,155.20 L1110.33,155.70 L1110.80,156.20 L1111.29,156.70 L1111.79,157.20 L1112.30,157.70 L1112.81,158.20 L1113.32,158.70 L1113.81,159.20 L1114.29,159.70 L1114.75,160.20 L1115.18,160.70 L1115.61,161.20 L1116.03,161.70 L1116.45,162.20 L1116.87,162.70 L1117.28,163.20 L1117.69,163.70 L1118.09,164.20 L1118.48,164.70 L1118.87,165.20 L1119.25,165.70 L1119.62,166.20 L1119.99,166.70 L1120.34,167.20 L1120.69,167.70 L1121.03,168.20 L1121.35,168.70 L1121.67,169.20 L1121.97,169.70 L1122.28,170.20 L1122.61,170.70 L1122.94,171.20 L1123.28,171.70 L1123.61,172.20 L1123.94,172.70 L1124.25,173.20 L1124.55,173.70 L1124.82,174.20 L1125.05,174.70 L1125.26,175.20 L1125.42,175.70 L1125.54,176.20 L1125.60,176.70 L1125.61,177.20 L1125.55,177.70 L1125.45,178.20 L1125.30,178.70 L1125.11,179.20 L1124.88,179.70 L1124.62,180.20 L1124.34,180.70 L1124.03,181.20 L1123.71,181.70 L1123.38,182.20 L1123.04,182.70 L1122.70,183.20 L1122.36,183.70 L1122.04,184.20 L1121.72,184.70 L1121.38,185.20 L1121.01,185.70 L1120.62,186.20 L1120.22,186.70 L1119.79,187.20 L1119.35,187.70 L1118.90,188.20 L1118.44,188.70 L1117.98,189.20 L1117.50,189.70 L1117.03,190.20 L1116.55,190.70 L1116.08,191.20 L1115.60,191.70 L1115.14,192.20 L1114.68,192.70 L1114.24,193.20 L1113.81,193.70 L1113.39,194.20 L1112.99,194.70 L1112.58,195.20 L1112.18,195.70 L1111.78,196.20 L1111.38,196.70 L1110.99,197.20 L1110.59,197.70 L1110.20,198.20 L1109.81,198.70 L1109.43,199.20 L1109.05,199.70 L1108.67,200.20 L1108.30,200.70 L1107.93,201.20 L1107.57,201.70 L1107.21,202.20 L1106.86,202.70 L1106.52,203.20 L1106.18,203.70 L1105.84,204.20 L1105.51,204.70 L1105.17,205.20 L1104.83,205.70 L1104.49,206.20 L1104.17,206.70 L1103.86,207.20 L1103.57,207.70 L1103.31,208.20 L1103.07,208.70 L1102.87,209.20 L1102.69,209.70 L1102.53,210.20 L1102.39,210.70 L1102.27,211.20 L1102.21,211.50 L1102.2,211.5 Z" fill="#4DBBD5" stroke="#1a1a1a" stroke-width="1.45" stroke-linejoin="round"/>
<line x1="1102.2" x2="1102.2" y1="115.4" y2="269.2" stroke="#1a1a1a" stroke-width="1.3"/>
<path d="M1154.5,105.1 L1154.50,105.10 L1154.50,105.60 L1154.50,106.10 L1154.49,106.60 L1154.48,107.10 L1154.48,107.60 L1154.46,108.10 L1154.45,108.60 L1154.44,109.10 L1154.42,109.60 L1154.41,110.10 L1154.39,110.60 L1154.37,111.10 L1154.35,111.60 L1154.33,112.10 L1154.31,112.60 L1154.29,113.10 L1154.27,113.60 L1154.24,114.10 L1154.22,114.60 L1154.20,115.10 L1154.17,115.60 L1154.14,116.10 L1154.10,116.60 L1154.07,117.10 L1154.02,117.60 L1153.97,118.10 L1153.91,118.60 L1153.84,119.10 L1153.76,119.60 L1153.63,120.10 L1153.45,120.60 L1153.22,121.10 L1152.95,121.60 L1152.66,122.10 L1152.35,122.60 L1152.03,123.10 L1151.72,123.60 L1151.42,124.10 L1151.13,124.60 L1150.83,125.10 L1150.53,125.60 L1150.22,126.10 L1149.91,126.60 L1149.58,127.10 L1149.26,127.60 L1148.92,128.10 L1148.59,128.60 L1148.24,129.10 L1147.90,129.60 L1147.54,130.10 L1147.19,130.60 L1146.83,131.10 L1146.47,131.60 L1146.11,132.10 L1145.73,132.60 L1145.34,133.10 L1144.94,133.60 L1144.54,134.10 L1144.13,134.60 L1143.72,135.10 L1143.31,135.60 L1142.89,136.10 L1142.48,136.60 L1142.07,137.10 L1141.67,137.60 L1141.27,138.10 L1140.88,138.60 L1140.50,139.10 L1140.12,139.60 L1139.74,140.10 L1139.35,140.60 L1138.96,141.10 L1138.58,141.60 L1138.19,142.10 L1137.81,142.60 L1137.44,143.10 L1137.08,143.60 L1136.73,144.10 L1136.40,144.60 L1136.08,145.10 L1135.78,145.60 L1135.50,146.10 L1135.25,146.60 L1135.01,147.10 L1134.78,147.60 L1134.56,148.10 L1134.34,148.60 L1134.13,149.10 L1133.93,149.60 L1133.74,150.10 L1133.55,150.60 L1133.37,151.10 L1133.20,151.60 L1133.04,152.10 L1132.88,152.60 L1132.73,153.10 L1132.58,153.60 L1132.44,154.10 L1132.30,154.60 L1132.16,155.10 L1132.01,155.60 L1131.86,156.10 L1131.72,156.60 L1131.58,157.10 L1131.45,157.60 L1131.32,158.10 L1131.21,158.60 L1131.11,159.10 L1131.03,159.60 L1130.97,160.10 L1130.92,160.60 L1130.90,161.10 L1130.90,161.60 L1130.90,162.10 L1130.91,162.60 L1130.91,163.10 L1130.92,163.60 L1130.93,164.10 L1130.94,164.60 L1130.96,165.10 L1130.97,165.60 L1130.99,166.10 L1131.01,166.60 L1131.03,167.10 L1131.05,167.60 L1131.07,168.10 L1131.10,168.60 L1131.13,169.10 L1131.19,169.60 L1131.27,170.10 L1131.37,170.60 L1131.49,171.10 L1131.63,171.60 L1131.79,172.10 L1131.95,172.60 L1132.13,173.10 L1132.32,173.60 L1132.51,174.10 L1132.71,174.60 L1132.90,175.10 L1133.10,175.60 L1133.30,176.10 L1133.51,176.60 L1133.73,177.10 L1133.98,177.60 L1134.24,178.10 L1134.52,178.60 L1134.81,179.10 L1135.11,179.60 L1135.41,180.10 L1135.72,180.60 L1136.03,181.10 L1136.35,181.60 L1136.66,182.10 L1136.97,182.60 L1137.27,183.10 L1137.56,183.60 L1137.84,184.10 L1138.13,184.60 L1138.41,185.10 L1138.69,185.60 L1138.98,186.10 L1139.26,186.60 L1139.55,187.10 L1139.85,187.60 L1140.15,188.10 L1140.45,188.60 L1140.77,189.10 L1141.10,189.60 L1141.44,190.10 L1141.79,190.60 L1142.16,191.10 L1142.53,191.60 L1142.91,192.10 L1143.30,192.60 L1143.70,193.10 L1144.09,193.60 L1144.49,194.10 L1144.89,194.60 L1145.29,195.10 L1145.68,195.60 L1146.07,196.10 L1146.46,196.60 L1146.83,197.10 L1147.20,197.60 L1147.56,198.10 L1147.90,198.60 L1148.24,199.10 L1148.55,199.60 L1148.86,200.10 L1149.17,200.60 L1149.46,201.10 L1149.75,201.60 L1150.04,202.10 L1150.32,202.60 L1150.59,203.10 L1150.87,203.60 L1151.14,204.10 L1151.41,204.60 L1151.68,205.10 L1151.95,205.60 L1152.23,206.10 L1152.50,206.60 L1152.78,207.10 L1153.05,207.60 L1153.32,208.10 L1153.59,208.60 L1153.86,209.10 L1154.13,209.60 L1154.39,210.10 L1154.50,210.30 L1154.5,210.3 Z" fill="#EFC000" stroke="#1a1a1a" stroke-width="1.45" stroke-linejoin="round"/>
<path d="M1154.5,120.6 L1154.50,120.60 L1154.74,121.10 L1154.98,121.60 L1155.22,122.10 L1155.46,122.60 L1155.70,123.10 L1155.94,123.60 L1156.19,124.10 L1156.43,124.60 L1156.67,125.10 L1156.91,125.60 L1157.16,126.10 L1157.40,126.60 L1157.65,127.10 L1157.89,127.60 L1158.13,128.10 L1158.37,128.60 L1158.61,129.10 L1158.85,129.60 L1159.09,130.10 L1159.32,130.60 L1159.56,131.10 L1159.81,131.60 L1160.05,132.10 L1160.29,132.60 L1160.54,133.10 L1160.78,133.60 L1161.04,134.10 L1161.29,134.60 L1161.55,135.10 L1161.81,135.60 L1162.08,136.10 L1162.35,136.60 L1162.62,137.10 L1162.90,137.60 L1163.19,138.10 L1163.48,138.60 L1163.77,139.10 L1164.07,139.60 L1164.37,140.10 L1164.67,140.60 L1164.98,141.10 L1165.29,141.60 L1165.60,142.10 L1165.91,142.60 L1166.23,143.10 L1166.55,143.60 L1166.87,144.10 L1167.19,144.60 L1167.51,145.10 L1167.82,145.60 L1168.14,146.10 L1168.46,146.60 L1168.79,147.10 L1169.13,147.60 L1169.47,148.10 L1169.83,148.60 L1170.18,149.10 L1170.54,149.60 L1170.91,150.10 L1171.27,150.60 L1171.63,151.10 L1171.99,151.60 L1172.35,152.10 L1172.70,152.60 L1173.04,153.10 L1173.38,153.60 L1173.70,154.10 L1174.01,154.60 L1174.30,155.10 L1174.59,155.60 L1174.85,156.10 L1175.10,156.60 L1175.35,157.10 L1175.61,157.60 L1175.88,158.10 L1176.15,158.60 L1176.41,159.10 L1176.66,159.60 L1176.90,160.10 L1177.13,160.60 L1177.33,161.10 L1177.51,161.60 L1177.66,162.10 L1177.78,162.60 L1177.86,163.10 L1177.90,163.60 L1177.90,164.10 L1177.89,164.60 L1177.89,165.10 L1177.87,165.60 L1177.86,166.10 L1177.84,166.60 L1177.81,167.10 L1177.79,167.60 L1177.76,168.10 L1177.73,168.60 L1177.69,169.10 L1177.62,169.60 L1177.49,170.10 L1177.31,170.60 L1177.09,171.10 L1176.84,171.60 L1176.56,172.10 L1176.25,172.60 L1175.93,173.10 L1175.60,173.60 L1175.27,174.10 L1174.93,174.60 L1174.56,175.10 L1174.14,175.60 L1173.68,176.10 L1173.18,176.60 L1172.65,177.10 L1172.11,177.60 L1171.56,178.10 L1171.00,178.60 L1170.41,179.10 L1169.78,179.60 L1169.12,180.10 L1168.45,180.60 L1167.79,181.10 L1167.16,181.60 L1166.57,182.10 L1166.03,182.60 L1165.51,183.10 L1165.00,183.60 L1164.51,184.10 L1164.01,184.60 L1163.49,185.10 L1162.95,185.60 L1162.38,186.10 L1161.75,186.60 L1161.07,187.10 L1160.37,187.60 L1159.68,188.10 L1159.02,188.60 L1158.42,189.10 L1157.89,189.60 L1157.37,190.10 L1156.87,190.60 L1156.40,191.10 L1155.96,191.60 L1155.56,192.10 L1155.22,192.60 L1154.95,193.10 L1154.73,193.60 L1154.56,194.10 L1154.50,194.30 L1154.5,194.3 Z" fill="#4DBBD5" stroke="#1a1a1a" stroke-width="1.45" stroke-linejoin="round"/>
<line x1="1154.5" x2="1154.5" y1="105.1" y2="231.0" stroke="#1a1a1a" stroke-width="1.3"/>
<path d="M1206.8,77.0 L1206.79,77.00 L1206.77,77.50 L1206.75,78.00 L1206.74,78.50 L1206.72,79.00 L1206.70,79.50 L1206.68,80.00 L1206.66,80.50 L1206.64,81.00 L1206.63,81.50 L1206.61,82.00 L1206.59,82.50 L1206.57,83.00 L1206.55,83.50 L1206.53,84.00 L1206.51,84.50 L1206.49,85.00 L1206.47,85.50 L1206.45,86.00 L1206.44,86.50 L1206.42,87.00 L1206.40,87.50 L1206.38,88.00 L1206.36,88.50 L1206.34,89.00 L1206.31,89.50 L1206.27,90.00 L1206.22,90.50 L1206.15,91.00 L1206.06,91.50 L1205.95,92.00 L1205.83,92.50 L1205.70,93.00 L1205.56,93.50 L1205.40,94.00 L1205.24,94.50 L1205.07,95.00 L1204.90,95.50 L1204.72,96.00 L1204.54,96.50 L1204.36,97.00 L1204.18,97.50 L1203.98,98.00 L1203.77,98.50 L1203.55,99.00 L1203.31,99.50 L1203.06,100.00 L1202.80,100.50 L1202.53,101.00 L1202.25,101.50 L1201.96,102.00 L1201.67,102.50 L1201.37,103.00 L1201.07,103.50 L1200.77,104.00 L1200.46,104.50 L1200.15,105.00 L1199.85,105.50 L1199.55,106.00 L1199.25,106.50 L1198.95,107.00 L1198.65,107.50 L1198.35,108.00 L1198.04,108.50 L1197.73,109.00 L1197.41,109.50 L1197.08,110.00 L1196.76,110.50 L1196.43,111.00 L1196.10,111.50 L1195.77,112.00 L1195.44,112.50 L1195.11,113.00 L1194.78,113.50 L1194.46,114.00 L1194.14,114.50 L1193.83,115.00 L1193.52,115.50 L1193.21,116.00 L1192.92,116.50 L1192.63,117.00 L1192.35,117.50 L1192.07,118.00 L1191.79,118.50 L1191.51,119.00 L1191.23,119.50 L1190.96,120.00 L1190.69,120.50 L1190.42,121.00 L1190.16,121.50 L1189.89,122.00 L1189.64,122.50 L1189.38,123.00 L1189.13,123.50 L1188.88,124.00 L1188.64,124.50 L1188.40,125.00 L1188.17,125.50 L1187.94,126.00 L1187.72,126.50 L1187.50,127.00 L1187.28,127.50 L1187.04,128.00 L1186.80,128.50 L1186.56,129.00 L1186.31,129.50 L1186.07,130.00 L1185.82,130.50 L1185.58,131.00 L1185.35,131.50 L1185.13,132.00 L1184.92,132.50 L1184.72,133.00 L1184.54,133.50 L1184.37,134.00 L1184.23,134.50 L1184.11,135.00 L1184.01,135.50 L1183.94,136.00 L1183.90,136.50 L1183.88,137.00 L1183.87,137.50 L1183.86,138.00 L1183.84,138.50 L1183.83,139.00 L1183.82,139.50 L1183.82,140.00 L1183.81,140.50 L1183.80,141.00 L1183.80,141.50 L1183.79,142.00 L1183.79,142.50 L1183.79,143.00 L1183.80,143.50 L1183.83,144.00 L1183.87,144.50 L1183.93,145.00 L1184.00,145.50 L1184.09,146.00 L1184.18,146.50 L1184.28,147.00 L1184.40,147.50 L1184.51,148.00 L1184.64,148.50 L1184.76,149.00 L1184.89,149.50 L1185.02,150.00 L1185.16,150.50 L1185.33,151.00 L1185.52,151.50 L1185.72,152.00 L1185.95,152.50 L1186.18,153.00 L1186.43,153.50 L1186.69,154.00 L1186.96,154.50 L1187.23,155.00 L1187.50,155.50 L1187.77,156.00 L1188.04,156.50 L1188.33,157.00 L1188.63,157.50 L1188.95,158.00 L1189.28,158.50 L1189.62,159.00 L1189.96,159.50 L1190.31,160.00 L1190.66,160.50 L1191.00,161.00 L1191.34,161.50 L1191.67,162.00 L1191.99,162.50 L1192.29,163.00 L1192.58,163.50 L1192.85,164.00 L1193.12,164.50 L1193.37,165.00 L1193.63,165.50 L1193.88,166.00 L1194.13,166.50 L1194.38,167.00 L1194.63,167.50 L1194.89,168.00 L1195.16,168.50 L1195.44,169.00 L1195.73,169.50 L1196.04,170.00 L1196.37,170.50 L1196.72,171.00 L1197.09,171.50 L1197.46,172.00 L1197.84,172.50 L1198.22,173.00 L1198.60,173.50 L1198.97,174.00 L1199.32,174.50 L1199.65,175.00 L1199.96,175.50 L1200.24,176.00 L1200.49,176.50 L1200.74,177.00 L1200.97,177.50 L1201.19,178.00 L1201.41,178.50 L1201.62,179.00 L1201.82,179.50 L1202.02,180.00 L1202.21,180.50 L1202.40,181.00 L1202.58,181.50 L1202.76,182.00 L1202.94,182.50 L1203.11,183.00 L1203.29,183.50 L1203.47,184.00 L1203.65,184.50 L1203.83,185.00 L1204.00,185.50 L1204.18,186.00 L1204.35,186.50 L1204.51,187.00 L1204.66,187.50 L1204.80,188.00 L1204.92,188.50 L1205.03,189.00 L1205.13,189.50 L1205.21,190.00 L1205.29,190.50 L1205.36,191.00 L1205.42,191.50 L1205.48,192.00 L1205.54,192.50 L1205.59,193.00 L1205.64,193.50 L1205.69,194.00 L1205.74,194.50 L1205.79,195.00 L1205.84,195.50 L1205.89,196.00 L1205.94,196.50 L1206.00,197.00 L1206.05,197.50 L1206.12,198.00 L1206.19,198.50 L1206.26,199.00 L1206.34,199.50 L1206.43,200.00 L1206.53,200.50 L1206.64,201.00 L1206.75,201.50 L1206.79,201.70 L1206.8,201.7 Z" fill="#EFC000" stroke="#1a1a1a" stroke-width="1.45" stroke-linejoin="round"/>
<path d="M1206.8,121.9 L1206.79,121.90 L1208.43,122.40 L1210.42,122.90 L1212.46,123.40 L1213.97,123.90 L1215.27,124.40 L1216.43,124.90 L1217.48,125.40 L1218.48,125.90 L1219.40,126.40 L1220.26,126.90 L1221.07,127.40 L1221.86,127.90 L1222.63,128.40 L1223.42,128.90 L1224.21,129.40 L1224.99,129.90 L1225.75,130.40 L1226.46,130.90 L1227.11,131.40 L1227.69,131.90 L1228.21,132.40 L1228.75,132.90 L1229.28,133.40 L1229.75,133.90 L1230.14,134.40 L1230.40,134.90 L1230.49,135.40 L1230.12,135.90 L1229.17,136.40 L1227.86,136.90 L1226.40,137.40 L1225.03,137.90 L1223.76,138.40 L1222.32,138.90 L1220.87,139.40 L1219.57,139.90 L1218.59,140.40 L1217.87,140.90 L1217.23,141.40 L1216.67,141.90 L1216.18,142.40 L1215.75,142.90 L1215.36,143.40 L1215.00,143.90 L1214.63,144.40 L1214.29,144.90 L1214.00,145.40 L1213.79,145.90 L1213.69,146.40 L1213.71,146.90 L1213.80,147.40 L1213.93,147.90 L1214.09,148.40 L1214.26,148.90 L1214.47,149.40 L1214.79,149.90 L1215.14,150.40 L1215.46,150.90 L1215.67,151.40 L1215.76,151.90 L1215.85,152.40 L1215.92,152.90 L1215.99,153.40 L1216.05,153.90 L1216.10,154.40 L1216.14,154.90 L1216.17,155.40 L1216.18,155.90 L1216.19,156.40 L1216.16,156.90 L1216.08,157.40 L1215.97,157.90 L1215.82,158.40 L1215.66,158.90 L1215.49,159.40 L1215.32,159.90 L1215.16,160.40 L1214.98,160.90 L1214.79,161.40 L1214.59,161.90 L1214.37,162.40 L1214.14,162.90 L1213.89,163.40 L1213.64,163.90 L1213.35,164.40 L1213.02,164.90 L1212.68,165.40 L1212.31,165.90 L1211.94,166.40 L1211.56,166.90 L1211.20,167.40 L1210.86,167.90 L1210.53,168.40 L1210.23,168.90 L1209.93,169.40 L1209.63,169.90 L1209.32,170.40 L1209.00,170.90 L1208.65,171.40 L1208.28,171.90 L1207.88,172.40 L1207.47,172.90 L1207.05,173.40 L1206.79,173.70 L1206.8,173.7 Z" fill="#4DBBD5" stroke="#1a1a1a" stroke-width="1.45" stroke-linejoin="round"/>
<line x1="1206.8" x2="1206.8" y1="77.0" y2="226.3" stroke="#1a1a1a" stroke-width="1.3"/>
<path d="M1259.1,129.5 L1259.08,129.50 L1259.07,130.00 L1259.05,130.50 L1259.04,131.00 L1259.02,131.50 L1259.01,132.00 L1258.99,132.50 L1258.98,133.00 L1258.96,133.50 L1258.94,134.00 L1258.92,134.50 L1258.90,135.00 L1258.88,135.50 L1258.86,136.00 L1258.84,136.50 L1258.82,137.00 L1258.80,137.50 L1258.78,138.00 L1258.76,138.50 L1258.74,139.00 L1258.72,139.50 L1258.70,140.00 L1258.67,140.50 L1258.65,141.00 L1258.61,141.50 L1258.57,142.00 L1258.51,142.50 L1258.41,143.00 L1258.29,143.50 L1258.15,144.00 L1257.98,144.50 L1257.81,145.00 L1257.61,145.50 L1257.41,146.00 L1257.21,146.50 L1256.99,147.00 L1256.75,147.50 L1256.48,148.00 L1256.17,148.50 L1255.84,149.00 L1255.49,149.50 L1255.11,150.00 L1254.72,150.50 L1254.32,151.00 L1253.91,151.50 L1253.50,152.00 L1253.08,152.50 L1252.66,153.00 L1252.24,153.50 L1251.84,154.00 L1251.44,154.50 L1251.03,155.00 L1250.60,155.50 L1250.16,156.00 L1249.71,156.50 L1249.26,157.00 L1248.81,157.50 L1248.35,158.00 L1247.90,158.50 L1247.45,159.00 L1247.00,159.50 L1246.57,160.00 L1246.15,160.50 L1245.74,161.00 L1245.36,161.50 L1244.98,162.00 L1244.61,162.50 L1244.24,163.00 L1243.87,163.50 L1243.51,164.00 L1243.16,164.50 L1242.81,165.00 L1242.47,165.50 L1242.13,166.00 L1241.81,166.50 L1241.50,167.00 L1241.20,167.50 L1240.91,168.00 L1240.64,168.50 L1240.38,169.00 L1240.13,169.50 L1239.88,170.00 L1239.64,170.50 L1239.40,171.00 L1239.16,171.50 L1238.93,172.00 L1238.71,172.50 L1238.50,173.00 L1238.30,173.50 L1238.11,174.00 L1237.93,174.50 L1237.77,175.00 L1237.61,175.50 L1237.48,176.00 L1237.36,176.50 L1237.24,177.00 L1237.12,177.50 L1237.01,178.00 L1236.90,178.50 L1236.79,179.00 L1236.68,179.50 L1236.58,180.00 L1236.49,180.50 L1236.41,181.00 L1236.34,181.50 L1236.28,182.00 L1236.23,182.50 L1236.20,183.00 L1236.18,183.50 L1236.18,184.00 L1236.19,184.50 L1236.21,185.00 L1236.24,185.50 L1236.28,186.00 L1236.33,186.50 L1236.39,187.00 L1236.45,187.50 L1236.52,188.00 L1236.60,188.50 L1236.68,189.00 L1236.76,189.50 L1236.85,190.00 L1236.95,190.50 L1237.04,191.00 L1237.14,191.50 L1237.27,192.00 L1237.43,192.50 L1237.62,193.00 L1237.83,193.50 L1238.06,194.00 L1238.30,194.50 L1238.57,195.00 L1238.84,195.50 L1239.13,196.00 L1239.43,196.50 L1239.73,197.00 L1240.04,197.50 L1240.35,198.00 L1240.66,198.50 L1240.96,199.00 L1241.26,199.50 L1241.59,200.00 L1241.93,200.50 L1242.28,201.00 L1242.65,201.50 L1243.03,202.00 L1243.41,202.50 L1243.80,203.00 L1244.19,203.50 L1244.58,204.00 L1244.97,204.50 L1245.35,205.00 L1245.72,205.50 L1246.08,206.00 L1246.43,206.50 L1246.78,207.00 L1247.13,207.50 L1247.47,208.00 L1247.81,208.50 L1248.15,209.00 L1248.48,209.50 L1248.81,210.00 L1249.14,210.50 L1249.48,211.00 L1249.81,211.50 L1250.15,212.00 L1250.48,212.50 L1250.82,213.00 L1251.15,213.50 L1251.48,214.00 L1251.80,214.50 L1252.12,215.00 L1252.44,215.50 L1252.75,216.00 L1253.06,216.50 L1253.36,217.00 L1253.65,217.50 L1253.93,218.00 L1254.21,218.50 L1254.47,219.00 L1254.73,219.50 L1254.98,220.00 L1255.22,220.50 L1255.46,221.00 L1255.70,221.50 L1255.93,222.00 L1256.15,222.50 L1256.37,223.00 L1256.58,223.50 L1256.79,224.00 L1257.00,224.50 L1257.20,225.00 L1257.39,225.50 L1257.58,226.00 L1257.77,226.50 L1257.95,227.00 L1258.13,227.50 L1258.30,228.00 L1258.47,228.50 L1258.63,229.00 L1258.78,229.50 L1258.93,230.00 L1259.08,230.50 L1259.1,230.5 Z" fill="#EFC000" stroke="#1a1a1a" stroke-width="1.45" stroke-linejoin="round"/>
<path d="M1259.1,162.8 L1259.08,162.80 L1260.88,163.30 L1262.62,163.80 L1264.33,164.30 L1265.91,164.80 L1267.28,165.30 L1268.55,165.80 L1269.75,166.30 L1270.88,166.80 L1271.94,167.30 L1272.94,167.80 L1273.88,168.30 L1274.78,168.80 L1275.65,169.30 L1276.48,169.80 L1277.26,170.30 L1278.00,170.80 L1278.70,171.30 L1279.34,171.80 L1279.95,172.30 L1280.60,172.80 L1281.24,173.30 L1281.83,173.80 L1282.30,174.30 L1282.60,174.80 L1282.67,175.30 L1282.35,175.80 L1281.67,176.30 L1280.72,176.80 L1279.63,177.30 L1278.51,177.80 L1277.46,178.30 L1276.52,178.80 L1275.54,179.30 L1274.59,179.80 L1273.75,180.30 L1272.86,180.80 L1272.01,181.30 L1271.31,181.80 L1270.91,182.30 L1270.79,182.80 L1270.71,183.30 L1270.68,183.80 L1270.90,184.30 L1271.40,184.80 L1271.92,185.30 L1272.29,185.80 L1272.66,186.30 L1272.98,186.80 L1273.16,187.30 L1273.17,187.80 L1273.13,188.30 L1273.06,188.80 L1272.96,189.30 L1272.83,189.80 L1272.68,190.30 L1272.51,190.80 L1272.32,191.30 L1272.13,191.80 L1271.92,192.30 L1271.68,192.80 L1271.37,193.30 L1270.98,193.80 L1270.52,194.30 L1270.01,194.80 L1269.46,195.30 L1268.87,195.80 L1268.25,196.30 L1267.62,196.80 L1266.98,197.30 L1266.27,197.80 L1265.45,198.30 L1264.55,198.80 L1263.61,199.30 L1262.67,199.80 L1261.77,200.30 L1260.94,200.80 L1260.19,201.30 L1259.49,201.80 L1259.08,202.10 L1259.1,202.1 Z" fill="#4DBBD5" stroke="#1a1a1a" stroke-width="1.45" stroke-linejoin="round"/>
<line x1="1259.1" x2="1259.1" y1="129.5" y2="266.3" stroke="#1a1a1a" stroke-width="1.3"/>
<path d="M1311.4,71.7 L1311.37,71.70 L1311.37,72.20 L1311.37,72.70 L1311.37,73.20 L1311.37,73.70 L1311.37,74.20 L1311.36,74.70 L1311.36,75.20 L1311.36,75.70 L1311.36,76.20 L1311.35,76.70 L1311.35,77.20 L1311.35,77.70 L1311.34,78.20 L1311.34,78.70 L1311.33,79.20 L1311.33,79.70 L1311.32,80.20 L1311.32,80.70 L1311.31,81.20 L1311.31,81.70 L1311.30,82.20 L1311.30,82.70 L1311.29,83.20 L1311.28,83.70 L1311.28,84.20 L1311.27,84.70 L1311.26,85.20 L1311.25,85.70 L1311.25,86.20 L1311.24,86.70 L1311.23,87.20 L1311.22,87.70 L1311.21,88.20 L1311.21,88.70 L1311.20,89.20 L1311.19,89.70 L1311.18,90.20 L1311.17,90.70 L1311.16,91.20 L1311.15,91.70 L1311.14,92.20 L1311.13,92.70 L1311.12,93.20 L1311.11,93.70 L1311.10,94.20 L1311.09,94.70 L1311.08,95.20 L1311.07,95.70 L1311.06,96.20 L1311.04,96.70 L1311.03,97.20 L1311.02,97.70 L1311.01,98.20 L1311.00,98.70 L1310.99,99.20 L1310.98,99.70 L1310.97,100.20 L1310.95,100.70 L1310.94,101.20 L1310.93,101.70 L1310.91,102.20 L1310.89,102.70 L1310.88,103.20 L1310.86,103.70 L1310.84,104.20 L1310.81,104.70 L1310.79,105.20 L1310.76,105.70 L1310.74,106.20 L1310.71,106.70 L1310.68,107.20 L1310.64,107.70 L1310.60,108.20 L1310.55,108.70 L1310.49,109.20 L1310.42,109.70 L1310.35,110.20 L1310.27,110.70 L1310.19,111.20 L1310.10,111.70 L1310.00,112.20 L1309.90,112.70 L1309.80,113.20 L1309.69,113.70 L1309.58,114.20 L1309.47,114.70 L1309.35,115.20 L1309.23,115.70 L1309.11,116.20 L1308.99,116.70 L1308.87,117.20 L1308.74,117.70 L1308.60,118.20 L1308.45,118.70 L1308.29,119.20 L1308.12,119.70 L1307.94,120.20 L1307.75,120.70 L1307.56,121.20 L1307.36,121.70 L1307.16,122.20 L1306.96,122.70 L1306.75,123.20 L1306.54,123.70 L1306.33,124.20 L1306.13,124.70 L1305.92,125.20 L1305.72,125.70 L1305.52,126.20 L1305.32,126.70 L1305.13,127.20 L1304.95,127.70 L1304.76,128.20 L1304.57,128.70 L1304.39,129.20 L1304.21,129.70 L1304.02,130.20 L1303.84,130.70 L1303.66,131.20 L1303.47,131.70 L1303.29,132.20 L1303.10,132.70 L1302.91,133.20 L1302.72,133.70 L1302.53,134.20 L1302.34,134.70 L1302.15,135.20 L1301.95,135.70 L1301.75,136.20 L1301.55,136.70 L1301.35,137.20 L1301.14,137.70 L1300.93,138.20 L1300.71,138.70 L1300.49,139.20 L1300.27,139.70 L1300.05,140.20 L1299.82,140.70 L1299.60,141.20 L1299.37,141.70 L1299.14,142.20 L1298.91,142.70 L1298.69,143.20 L1298.46,143.70 L1298.23,144.20 L1298.00,144.70 L1297.78,145.20 L1297.55,145.70 L1297.33,146.20 L1297.11,146.70 L1296.90,147.20 L1296.68,147.70 L1296.46,148.20 L1296.24,148.70 L1296.01,149.20 L1295.79,149.70 L1295.57,150.20 L1295.35,150.70 L1295.13,151.20 L1294.91,151.70 L1294.69,152.20 L1294.48,152.70 L1294.27,153.20 L1294.06,153.70 L1293.85,154.20 L1293.64,154.70 L1293.44,155.20 L1293.25,155.70 L1293.06,156.20 L1292.87,156.70 L1292.68,157.20 L1292.50,157.70 L1292.31,158.20 L1292.12,158.70 L1291.93,159.20 L1291.74,159.70 L1291.55,160.20 L1291.37,160.70 L1291.19,161.20 L1291.01,161.70 L1290.84,162.20 L1290.67,162.70 L1290.51,163.20 L1290.36,163.70 L1290.22,164.20 L1290.08,164.70 L1289.95,165.20 L1289.83,165.70 L1289.73,166.20 L1289.63,166.70 L1289.54,167.20 L1289.45,167.70 L1289.36,168.20 L1289.27,168.70 L1289.18,169.20 L1289.10,169.70 L1289.02,170.20 L1288.94,170.70 L1288.87,171.20 L1288.80,171.70 L1288.73,172.20 L1288.67,172.70 L1288.61,173.20 L1288.56,173.70 L1288.51,174.20 L1288.47,174.70 L1288.43,175.20 L1288.40,175.70 L1288.38,176.20 L1288.36,176.70 L1288.34,177.20 L1288.33,177.70 L1288.31,178.20 L1288.30,178.70 L1288.28,179.20 L1288.27,179.70 L1288.25,180.20 L1288.24,180.70 L1288.23,181.20 L1288.22,181.70 L1288.21,182.20 L1288.20,182.70 L1288.19,183.20 L1288.19,183.70 L1288.18,184.20 L1288.18,184.70 L1288.17,185.20 L1288.17,185.70 L1288.17,186.20 L1288.18,186.70 L1288.20,187.20 L1288.24,187.70 L1288.30,188.20 L1288.38,188.70 L1288.47,189.20 L1288.57,189.70 L1288.68,190.20 L1288.80,190.70 L1288.93,191.20 L1289.07,191.70 L1289.21,192.20 L1289.36,192.70 L1289.51,193.20 L1289.66,193.70 L1289.82,194.20 L1289.97,194.70 L1290.11,195.20 L1290.26,195.70 L1290.40,196.20 L1290.54,196.70 L1290.69,197.20 L1290.84,197.70 L1290.99,198.20 L1291.15,198.70 L1291.32,199.20 L1291.49,199.70 L1291.66,200.20 L1291.84,200.70 L1292.02,201.20 L1292.20,201.70 L1292.39,202.20 L1292.58,202.70 L1292.77,203.20 L1292.96,203.70 L1293.16,204.20 L1293.35,204.70 L1293.55,205.20 L1293.75,205.70 L1293.95,206.20 L1294.16,206.70 L1294.37,207.20 L1294.59,207.70 L1294.82,208.20 L1295.04,208.70 L1295.28,209.20 L1295.51,209.70 L1295.75,210.20 L1295.99,210.70 L1296.23,211.20 L1296.47,211.70 L1296.71,212.20 L1296.94,212.70 L1297.18,213.20 L1297.41,213.70 L1297.64,214.20 L1297.86,214.70 L1298.08,215.20 L1298.30,215.70 L1298.52,216.20 L1298.74,216.70 L1298.96,217.20 L1299.17,217.70 L1299.39,218.20 L1299.60,218.70 L1299.82,219.20 L1300.03,219.70 L1300.25,220.20 L1300.46,220.70 L1300.67,221.20 L1300.88,221.70 L1301.09,222.20 L1301.30,222.70 L1301.51,223.20 L1301.72,223.70 L1301.93,224.20 L1302.14,224.70 L1302.35,225.20 L1302.56,225.70 L1302.77,226.20 L1302.98,226.70 L1303.20,227.20 L1303.41,227.70 L1303.62,228.20 L1303.83,228.70 L1304.04,229.20 L1304.25,229.70 L1304.46,230.20 L1304.66,230.70 L1304.86,231.20 L1305.06,231.70 L1305.25,232.20 L1305.44,232.70 L1305.62,233.20 L1305.80,233.70 L1305.97,234.20 L1306.14,234.70 L1306.30,235.20 L1306.47,235.70 L1306.62,236.20 L1306.78,236.70 L1306.93,237.20 L1307.09,237.70 L1307.24,238.20 L1307.38,238.70 L1307.53,239.20 L1307.67,239.70 L1307.81,240.20 L1307.95,240.70 L1308.09,241.20 L1308.23,241.70 L1308.36,242.20 L1308.50,242.70 L1308.63,243.20 L1308.76,243.70 L1308.90,244.20 L1309.03,244.70 L1309.16,245.20 L1309.29,245.70 L1309.42,246.20 L1309.55,246.70 L1309.67,247.20 L1309.80,247.70 L1309.92,248.20 L1310.04,248.70 L1310.16,249.20 L1310.27,249.70 L1310.39,250.20 L1310.50,250.70 L1310.61,251.20 L1310.71,251.70 L1310.81,252.20 L1310.91,252.70 L1311.01,253.20 L1311.10,253.70 L1311.19,254.20 L1311.28,254.70 L1311.37,255.20 L1311.4,255.2 Z" fill="#EFC000" stroke="#1a1a1a" stroke-width="1.45" stroke-linejoin="round"/>
<path d="M1311.4,153.0 L1311.37,153.00 L1311.82,153.50 L1312.29,154.00 L1312.77,154.50 L1313.27,155.00 L1313.78,155.50 L1314.31,156.00 L1314.85,156.50 L1315.41,157.00 L1316.01,157.50 L1316.64,158.00 L1317.29,158.50 L1317.96,159.00 L1318.63,159.50 L1319.29,160.00 L1319.94,160.50 L1320.57,161.00 L1321.16,161.50 L1321.72,162.00 L1322.27,162.50 L1322.82,163.00 L1323.37,163.50 L1323.90,164.00 L1324.43,164.50 L1324.94,165.00 L1325.45,165.50 L1325.95,166.00 L1326.43,166.50 L1326.91,167.00 L1327.37,167.50 L1327.82,168.00 L1328.25,168.50 L1328.67,169.00 L1329.09,169.50 L1329.51,170.00 L1329.94,170.50 L1330.37,171.00 L1330.80,171.50 L1331.21,172.00 L1331.62,172.50 L1332.00,173.00 L1332.37,173.50 L1332.71,174.00 L1333.02,174.50 L1333.30,175.00 L1333.54,175.50 L1333.74,176.00 L1333.90,176.50 L1334.04,177.00 L1334.17,177.50 L1334.29,178.00 L1334.40,178.50 L1334.49,179.00 L1334.54,179.50 L1334.57,180.00 L1334.55,180.50 L1334.46,181.00 L1334.31,181.50 L1334.11,182.00 L1333.86,182.50 L1333.56,183.00 L1333.24,183.50 L1332.88,184.00 L1332.50,184.50 L1332.11,185.00 L1331.71,185.50 L1331.31,186.00 L1330.90,186.50 L1330.41,187.00 L1329.84,187.50 L1329.20,188.00 L1328.52,188.50 L1327.83,189.00 L1327.14,189.50 L1326.48,190.00 L1325.87,190.50 L1325.30,191.00 L1324.74,191.50 L1324.19,192.00 L1323.65,192.50 L1323.11,193.00 L1322.58,193.50 L1322.05,194.00 L1321.53,194.50 L1321.01,195.00 L1320.50,195.50 L1319.99,196.00 L1319.48,196.50 L1318.97,197.00 L1318.47,197.50 L1317.97,198.00 L1317.47,198.50 L1316.97,199.00 L1316.48,199.50 L1315.98,200.00 L1315.48,200.50 L1314.97,201.00 L1314.44,201.50 L1313.87,202.00 L1313.31,202.50 L1312.79,203.00 L1312.37,203.50 L1312.03,204.00 L1311.73,204.50 L1311.49,205.00 L1311.37,205.30 L1311.4,205.3 Z" fill="#4DBBD5" stroke="#1a1a1a" stroke-width="1.45" stroke-linejoin="round"/>
<line x1="1311.4" x2="1311.4" y1="71.7" y2="285.5" stroke="#1a1a1a" stroke-width="1.3"/>
<path d="M1363.7,145.0 L1363.66,145.00 L1363.64,145.50 L1363.59,146.00 L1363.51,146.50 L1363.41,147.00 L1363.29,147.50 L1363.16,148.00 L1362.95,148.50 L1362.64,149.00 L1362.29,149.50 L1361.96,150.00 L1361.68,150.50 L1361.42,151.00 L1361.16,151.50 L1360.91,152.00 L1360.64,152.50 L1360.35,153.00 L1360.03,153.50 L1359.66,154.00 L1359.20,154.50 L1358.64,155.00 L1358.01,155.50 L1357.34,156.00 L1356.69,156.50 L1356.08,157.00 L1355.56,157.50 L1355.09,158.00 L1354.63,158.50 L1354.18,159.00 L1353.75,159.50 L1353.33,160.00 L1352.92,160.50 L1352.53,161.00 L1352.14,161.50 L1351.77,162.00 L1351.40,162.50 L1351.05,163.00 L1350.70,163.50 L1350.36,164.00 L1350.03,164.50 L1349.70,165.00 L1349.38,165.50 L1349.06,166.00 L1348.75,166.50 L1348.44,167.00 L1348.14,167.50 L1347.85,168.00 L1347.55,168.50 L1347.27,169.00 L1346.99,169.50 L1346.72,170.00 L1346.45,170.50 L1346.19,171.00 L1345.93,171.50 L1345.68,172.00 L1345.44,172.50 L1345.20,173.00 L1344.97,173.50 L1344.75,174.00 L1344.53,174.50 L1344.31,175.00 L1344.09,175.50 L1343.86,176.00 L1343.64,176.50 L1343.42,177.00 L1343.20,177.50 L1342.99,178.00 L1342.78,178.50 L1342.57,179.00 L1342.38,179.50 L1342.19,180.00 L1342.02,180.50 L1341.85,181.00 L1341.70,181.50 L1341.56,182.00 L1341.43,182.50 L1341.33,183.00 L1341.23,183.50 L1341.16,184.00 L1341.10,184.50 L1341.03,185.00 L1340.97,185.50 L1340.92,186.00 L1340.86,186.50 L1340.81,187.00 L1340.77,187.50 L1340.73,188.00 L1340.70,188.50 L1340.68,189.00 L1340.66,189.50 L1340.66,190.00 L1340.68,190.50 L1340.75,191.00 L1340.86,191.50 L1340.99,192.00 L1341.15,192.50 L1341.31,193.00 L1341.49,193.50 L1341.66,194.00 L1341.84,194.50 L1342.05,195.00 L1342.28,195.50 L1342.53,196.00 L1342.80,196.50 L1343.09,197.00 L1343.39,197.50 L1343.71,198.00 L1344.04,198.50 L1344.38,199.00 L1344.73,199.50 L1345.09,200.00 L1345.45,200.50 L1345.81,201.00 L1346.18,201.50 L1346.54,202.00 L1346.90,202.50 L1347.26,203.00 L1347.61,203.50 L1347.96,204.00 L1348.29,204.50 L1348.64,205.00 L1348.99,205.50 L1349.34,206.00 L1349.71,206.50 L1350.07,207.00 L1350.44,207.50 L1350.82,208.00 L1351.19,208.50 L1351.56,209.00 L1351.94,209.50 L1352.31,210.00 L1352.67,210.50 L1353.03,211.00 L1353.38,211.50 L1353.73,212.00 L1354.06,212.50 L1354.39,213.00 L1354.70,213.50 L1355.00,214.00 L1355.29,214.50 L1355.58,215.00 L1355.87,215.50 L1356.16,216.00 L1356.44,216.50 L1356.72,217.00 L1356.99,217.50 L1357.26,218.00 L1357.53,218.50 L1357.79,219.00 L1358.04,219.50 L1358.29,220.00 L1358.53,220.50 L1358.76,221.00 L1358.99,221.50 L1359.20,222.00 L1359.41,222.50 L1359.60,223.00 L1359.79,223.50 L1359.96,224.00 L1360.12,224.50 L1360.28,225.00 L1360.43,225.50 L1360.58,226.00 L1360.72,226.50 L1360.85,227.00 L1360.98,227.50 L1361.11,228.00 L1361.23,228.50 L1361.35,229.00 L1361.46,229.50 L1361.58,230.00 L1361.69,230.50 L1361.81,231.00 L1361.92,231.50 L1362.03,232.00 L1362.14,232.50 L1362.25,233.00 L1362.37,233.50 L1362.48,234.00 L1362.60,234.50 L1362.72,235.00 L1362.84,235.50 L1362.95,236.00 L1363.06,236.50 L1363.17,237.00 L1363.27,237.50 L1363.36,238.00 L1363.44,238.50 L1363.52,239.00 L1363.59,239.50 L1363.66,240.00 L1363.7,240.0 Z" fill="#EFC000" stroke="#1a1a1a" stroke-width="1.45" stroke-linejoin="round"/>
<path d="M1363.7,78.3 L1363.66,78.30 L1363.68,78.80 L1363.71,79.30 L1363.73,79.80 L1363.75,80.30 L1363.78,80.80 L1363.80,81.30 L1363.82,81.80 L1363.84,82.30 L1363.86,82.80 L1363.89,83.30 L1363.91,83.80 L1363.93,84.30 L1363.95,84.80 L1363.97,85.30 L1363.99,85.80 L1364.01,86.30 L1364.02,86.80 L1364.04,87.30 L1364.06,87.80 L1364.08,88.30 L1364.10,88.80 L1364.12,89.30 L1364.15,89.80 L1364.19,90.30 L1364.24,90.80 L1364.30,91.30 L1364.38,91.80 L1364.46,92.30 L1364.56,92.80 L1364.66,93.30 L1364.77,93.80 L1364.88,94.30 L1365.01,94.80 L1365.13,95.30 L1365.26,95.80 L1365.39,96.30 L1365.53,96.80 L1365.66,97.30 L1365.80,97.80 L1365.95,98.30 L1366.12,98.80 L1366.29,99.30 L1366.48,99.80 L1366.67,100.30 L1366.87,100.80 L1367.07,101.30 L1367.29,101.80 L1367.50,102.30 L1367.72,102.80 L1367.94,103.30 L1368.16,103.80 L1368.38,104.30 L1368.60,104.80 L1368.83,105.30 L1369.06,105.80 L1369.31,106.30 L1369.55,106.80 L1369.81,107.30 L1370.06,107.80 L1370.33,108.30 L1370.59,108.80 L1370.86,109.30 L1371.13,109.80 L1371.39,110.30 L1371.66,110.80 L1371.93,111.30 L1372.19,111.80 L1372.46,112.30 L1372.72,112.80 L1372.97,113.30 L1373.22,113.80 L1373.46,114.30 L1373.70,114.80 L1373.94,115.30 L1374.17,115.80 L1374.40,116.30 L1374.63,116.80 L1374.85,117.30 L1375.08,117.80 L1375.30,118.30 L1375.52,118.80 L1375.74,119.30 L1375.96,119.80 L1376.18,120.30 L1376.40,120.80 L1376.62,121.30 L1376.83,121.80 L1377.05,122.30 L1377.27,122.80 L1377.48,123.30 L1377.70,123.80 L1377.92,124.30 L1378.13,124.80 L1378.35,125.30 L1378.57,125.80 L1378.79,126.30 L1379.02,126.80 L1379.24,127.30 L1379.46,127.80 L1379.68,128.30 L1379.90,128.80 L1380.12,129.30 L1380.34,129.80 L1380.55,130.30 L1380.76,130.80 L1380.97,131.30 L1381.18,131.80 L1381.39,132.30 L1381.59,132.80 L1381.78,133.30 L1381.97,133.80 L1382.16,134.30 L1382.35,134.80 L1382.53,135.30 L1382.72,135.80 L1382.90,136.30 L1383.09,136.80 L1383.27,137.30 L1383.45,137.80 L1383.63,138.30 L1383.81,138.80 L1383.98,139.30 L1384.15,139.80 L1384.31,140.30 L1384.47,140.80 L1384.63,141.30 L1384.77,141.80 L1384.92,142.30 L1385.05,142.80 L1385.18,143.30 L1385.29,143.80 L1385.40,144.30 L1385.51,144.80 L1385.63,145.30 L1385.74,145.80 L1385.85,146.30 L1385.96,146.80 L1386.07,147.30 L1386.18,147.80 L1386.28,148.30 L1386.38,148.80 L1386.47,149.30 L1386.56,149.80 L1386.64,150.30 L1386.72,150.80 L1386.78,151.30 L1386.84,151.80 L1386.89,152.30 L1386.92,152.80 L1386.95,153.30 L1386.96,153.80 L1386.96,154.30 L1386.95,154.80 L1386.94,155.30 L1386.92,155.80 L1386.89,156.30 L1386.86,156.80 L1386.83,157.30 L1386.79,157.80 L1386.74,158.30 L1386.69,158.80 L1386.64,159.30 L1386.59,159.80 L1386.53,160.30 L1386.46,160.80 L1386.40,161.30 L1386.33,161.80 L1386.26,162.30 L1386.19,162.80 L1386.11,163.30 L1386.01,163.80 L1385.89,164.30 L1385.76,164.80 L1385.60,165.30 L1385.43,165.80 L1385.25,166.30 L1385.05,166.80 L1384.84,167.30 L1384.63,167.80 L1384.41,168.30 L1384.19,168.80 L1383.97,169.30 L1383.75,169.80 L1383.52,170.30 L1383.28,170.80 L1383.02,171.30 L1382.75,171.80 L1382.46,172.30 L1382.16,172.80 L1381.85,173.30 L1381.53,173.80 L1381.21,174.30 L1380.89,174.80 L1380.57,175.30 L1380.25,175.80 L1379.94,176.30 L1379.63,176.80 L1379.33,177.30 L1379.04,177.80 L1378.77,178.30 L1378.50,178.80 L1378.25,179.30 L1378.00,179.80 L1377.75,180.30 L1377.51,180.80 L1377.27,181.30 L1377.03,181.80 L1376.79,182.30 L1376.56,182.80 L1376.33,183.30 L1376.11,183.80 L1375.88,184.30 L1375.65,184.80 L1375.43,185.30 L1375.20,185.80 L1374.98,186.30 L1374.75,186.80 L1374.52,187.30 L1374.30,187.80 L1374.08,188.30 L1373.85,188.80 L1373.63,189.30 L1373.41,189.80 L1373.19,190.30 L1372.98,190.80 L1372.76,191.30 L1372.54,191.80 L1372.33,192.30 L1372.11,192.80 L1371.89,193.30 L1371.68,193.80 L1371.46,194.30 L1371.25,194.80 L1371.03,195.30 L1370.81,195.80 L1370.58,196.30 L1370.36,196.80 L1370.13,197.30 L1369.89,197.80 L1369.66,198.30 L1369.43,198.80 L1369.19,199.30 L1368.96,199.80 L1368.73,200.30 L1368.50,200.80 L1368.27,201.30 L1368.05,201.80 L1367.83,202.30 L1367.61,202.80 L1367.40,203.30 L1367.20,203.80 L1367.00,204.30 L1366.81,204.80 L1366.63,205.30 L1366.45,205.80 L1366.29,206.30 L1366.13,206.80 L1365.98,207.30 L1365.84,207.80 L1365.70,208.30 L1365.56,208.80 L1365.43,209.30 L1365.30,209.80 L1365.18,210.30 L1365.06,210.80 L1364.95,211.30 L1364.83,211.80 L1364.72,212.30 L1364.61,212.80 L1364.51,213.30 L1364.40,213.80 L1364.30,214.30 L1364.20,214.80 L1364.10,215.30 L1364.01,215.80 L1363.92,216.30 L1363.83,216.80 L1363.74,217.30 L1363.66,217.80 L1363.7,217.8 Z" fill="#4DBBD5" stroke="#1a1a1a" stroke-width="1.45" stroke-linejoin="round"/>
<line x1="1363.7" x2="1363.7" y1="78.3" y2="264.0" stroke="#1a1a1a" stroke-width="1.3"/>
<path d="M1416.0,88.6 L1415.95,88.60 L1415.94,89.10 L1415.92,89.60 L1415.90,90.10 L1415.87,90.60 L1415.84,91.10 L1415.81,91.60 L1415.78,92.10 L1415.74,92.60 L1415.71,93.10 L1415.67,93.60 L1415.63,94.10 L1415.58,94.60 L1415.54,95.10 L1415.50,95.60 L1415.45,96.10 L1415.41,96.60 L1415.35,97.10 L1415.29,97.60 L1415.23,98.10 L1415.15,98.60 L1415.07,99.10 L1414.97,99.60 L1414.84,100.10 L1414.64,100.60 L1414.39,101.10 L1414.08,101.60 L1413.74,102.10 L1413.37,102.60 L1412.98,103.10 L1412.59,103.60 L1412.20,104.10 L1411.82,104.60 L1411.46,105.10 L1411.08,105.60 L1410.68,106.10 L1410.28,106.60 L1409.87,107.10 L1409.44,107.60 L1409.01,108.10 L1408.58,108.60 L1408.14,109.10 L1407.70,109.60 L1407.27,110.10 L1406.83,110.60 L1406.40,111.10 L1405.97,111.60 L1405.55,112.10 L1405.13,112.60 L1404.70,113.10 L1404.27,113.60 L1403.83,114.10 L1403.40,114.60 L1402.96,115.10 L1402.53,115.60 L1402.10,116.10 L1401.67,116.60 L1401.26,117.10 L1400.85,117.60 L1400.46,118.10 L1400.09,118.60 L1399.73,119.10 L1399.38,119.60 L1399.05,120.10 L1398.72,120.60 L1398.40,121.10 L1398.08,121.60 L1397.77,122.10 L1397.47,122.60 L1397.18,123.10 L1396.89,123.60 L1396.61,124.10 L1396.35,124.60 L1396.09,125.10 L1395.84,125.60 L1395.60,126.10 L1395.38,126.60 L1395.16,127.10 L1394.94,127.60 L1394.72,128.10 L1394.49,128.60 L1394.26,129.10 L1394.03,129.60 L1393.82,130.10 L1393.61,130.60 L1393.42,131.10 L1393.24,131.60 L1393.09,132.10 L1392.96,132.60 L1392.86,133.10 L1392.79,133.60 L1392.75,134.10 L1392.75,134.60 L1392.76,135.10 L1392.77,135.60 L1392.78,136.10 L1392.81,136.60 L1392.83,137.10 L1392.86,137.60 L1392.90,138.10 L1392.94,138.60 L1392.98,139.10 L1393.02,139.60 L1393.07,140.10 L1393.13,140.60 L1393.18,141.10 L1393.24,141.60 L1393.31,142.10 L1393.43,142.60 L1393.58,143.10 L1393.77,143.60 L1393.99,144.10 L1394.23,144.60 L1394.50,145.10 L1394.79,145.60 L1395.09,146.10 L1395.39,146.60 L1395.71,147.10 L1396.03,147.60 L1396.34,148.10 L1396.65,148.60 L1396.95,149.10 L1397.25,149.60 L1397.56,150.10 L1397.89,150.60 L1398.23,151.10 L1398.57,151.60 L1398.93,152.10 L1399.29,152.60 L1399.65,153.10 L1400.02,153.60 L1400.39,154.10 L1400.76,154.60 L1401.13,155.10 L1401.50,155.60 L1401.86,156.10 L1402.22,156.60 L1402.58,157.10 L1402.95,157.60 L1403.32,158.10 L1403.70,158.60 L1404.07,159.10 L1404.45,159.60 L1404.83,160.10 L1405.20,160.60 L1405.57,161.10 L1405.93,161.60 L1406.28,162.10 L1406.62,162.60 L1406.95,163.10 L1407.27,163.60 L1407.57,164.10 L1407.87,164.60 L1408.17,165.10 L1408.47,165.60 L1408.77,166.10 L1409.06,166.60 L1409.35,167.10 L1409.63,167.60 L1409.91,168.10 L1410.19,168.60 L1410.45,169.10 L1410.71,169.60 L1410.96,170.10 L1411.21,170.60 L1411.44,171.10 L1411.66,171.60 L1411.87,172.10 L1412.06,172.60 L1412.25,173.10 L1412.42,173.60 L1412.58,174.10 L1412.73,174.60 L1412.87,175.10 L1413.01,175.60 L1413.15,176.10 L1413.27,176.60 L1413.40,177.10 L1413.52,177.60 L1413.64,178.10 L1413.75,178.60 L1413.86,179.10 L1413.96,179.60 L1414.07,180.10 L1414.17,180.60 L1414.27,181.10 L1414.37,181.60 L1414.46,182.10 L1414.56,182.60 L1414.65,183.10 L1414.75,183.60 L1414.84,184.10 L1414.93,184.60 L1415.02,185.10 L1415.11,185.60 L1415.19,186.10 L1415.27,186.60 L1415.35,187.10 L1415.43,187.60 L1415.51,188.10 L1415.59,188.60 L1415.67,189.10 L1415.74,189.60 L1415.82,190.10 L1415.89,190.60 L1415.95,191.00 L1416.0,191.0 Z" fill="#EFC000" stroke="#1a1a1a" stroke-width="1.45" stroke-linejoin="round"/>
<path d="M1416.0,109.6 L1415.95,109.60 L1416.34,110.10 L1416.75,110.60 L1417.17,111.10 L1417.60,111.60 L1418.04,112.10 L1418.50,112.60 L1418.98,113.10 L1419.47,113.60 L1419.96,114.10 L1420.45,114.60 L1420.92,115.10 L1421.37,115.60 L1421.81,116.10 L1422.25,116.60 L1422.71,117.10 L1423.18,117.60 L1423.69,118.10 L1424.23,118.60 L1424.83,119.10 L1425.49,119.60 L1426.24,120.10 L1427.09,120.60 L1428.04,121.10 L1429.06,121.60 L1430.15,122.10 L1431.30,122.60 L1432.50,123.10 L1433.98,123.60 L1435.96,124.10 L1437.97,124.60 L1439.52,125.10 L1440.15,125.60 L1439.62,126.10 L1438.26,126.60 L1436.42,127.10 L1434.47,127.60 L1432.75,128.10 L1431.25,128.60 L1429.74,129.10 L1428.24,129.60 L1426.77,130.10 L1425.35,130.60 L1423.96,131.10 L1422.59,131.60 L1421.26,132.10 L1420.04,132.60 L1418.94,133.10 L1417.95,133.60 L1417.05,134.10 L1416.24,134.60 L1415.95,134.80 L1416.0,134.8 Z" fill="#4DBBD5" stroke="#1a1a1a" stroke-width="1.45" stroke-linejoin="round"/>
<line x1="1416.0" x2="1416.0" y1="88.6" y2="197.4" stroke="#1a1a1a" stroke-width="1.3"/>
<path d="M104.3,167.6 V178.5 M101.3,167.6 H107.3 M101.3,178.5 H107.3" stroke="#000" stroke-width="1.3" fill="none"/>
<circle cx="104.3" cy="172.3" r="2.9" fill="#000"/>
<path d="M113.1,190.3 V203.1 M110.1,190.3 H116.1 M110.1,203.1 H116.1" stroke="#000" stroke-width="1.3" fill="none"/>
<circle cx="113.1" cy="199.4" r="2.9" fill="#000"/>
<path d="M156.6,172.5 V186.6 M153.6,172.5 H159.6 M153.6,186.6 H159.6" stroke="#000" stroke-width="1.3" fill="none"/>
<circle cx="156.6" cy="179.2" r="2.9" fill="#000"/>
<path d="M165.4,190.3 V203.1 M162.4,190.3 H168.4 M162.4,203.1 H168.4" stroke="#000" stroke-width="1.3" fill="none"/>
<circle cx="165.4" cy="199.4" r="2.9" fill="#000"/>
<path d="M208.9,175.2 V189.2 M205.9,175.2 H211.9 M205.9,189.2 H211.9" stroke="#000" stroke-width="1.3" fill="none"/>
<circle cx="208.9" cy="181.3" r="2.9" fill="#000"/>
<path d="M217.7,190.2 V203.4 M214.7,190.2 H220.7 M214.7,203.4 H220.7" stroke="#000" stroke-width="1.3" fill="none"/>
<circle cx="217.7" cy="199.8" r="2.9" fill="#000"/>
<path d="M261.2,157.4 V178.1 M258.2,157.4 H264.2 M258.2,178.1 H264.2" stroke="#000" stroke-width="1.3" fill="none"/>
<circle cx="261.2" cy="168.5" r="2.9" fill="#000"/>
<path d="M270.0,173.4 V181.8 M267.0,173.4 H273.0 M267.0,181.8 H273.0" stroke="#000" stroke-width="1.3" fill="none"/>
<circle cx="270.0" cy="176.4" r="2.9" fill="#000"/>
<path d="M313.5,160.3 V172.1 M310.5,160.3 H316.5 M310.5,172.1 H316.5" stroke="#000" stroke-width="1.3" fill="none"/>
<circle cx="313.5" cy="166.5" r="2.9" fill="#000"/>
<path d="M322.3,158.6 V168.9 M319.3,158.6 H325.3 M319.3,168.9 H325.3" stroke="#000" stroke-width="1.3" fill="none"/>
<circle cx="322.3" cy="164.0" r="2.9" fill="#000"/>
<path d="M365.8,154.9 V174.4 M362.8,154.9 H368.8 M362.8,174.4 H368.8" stroke="#000" stroke-width="1.3" fill="none"/>
<circle cx="365.8" cy="164.7" r="2.9" fill="#000"/>
<path d="M374.5,164.0 V181.7 M371.5,164.0 H377.5 M371.5,181.7 H377.5" stroke="#000" stroke-width="1.3" fill="none"/>
<circle cx="374.5" cy="173.1" r="2.9" fill="#000"/>
<path d="M418.0,155.4 V173.9 M415.0,155.4 H421.0 M415.0,173.9 H421.0" stroke="#000" stroke-width="1.3" fill="none"/>
<circle cx="418.0" cy="165.2" r="2.9" fill="#000"/>
<path d="M426.8,164.0 V175.1 M423.8,164.0 H429.8 M423.8,175.1 H429.8" stroke="#000" stroke-width="1.3" fill="none"/>
<circle cx="426.8" cy="170.2" r="2.9" fill="#000"/>
<path d="M470.3,167.7 V178.3 M467.3,167.7 H473.3 M467.3,178.3 H473.3" stroke="#000" stroke-width="1.3" fill="none"/>
<circle cx="470.3" cy="173.1" r="2.9" fill="#000"/>
<path d="M479.1,164.0 V172.6 M476.1,164.0 H482.1 M476.1,172.6 H482.1" stroke="#000" stroke-width="1.3" fill="none"/>
<circle cx="479.1" cy="168.4" r="2.9" fill="#000"/>
<path d="M522.6,141.3 V174.1 M519.6,141.3 H525.6 M519.6,174.1 H525.6" stroke="#000" stroke-width="1.3" fill="none"/>
<circle cx="522.6" cy="156.6" r="2.9" fill="#000"/>
<path d="M531.4,159.8 V182.7 M528.4,159.8 H534.4 M528.4,182.7 H534.4" stroke="#000" stroke-width="1.3" fill="none"/>
<circle cx="531.4" cy="177.8" r="2.9" fill="#000"/>
<path d="M574.9,138.4 V163.5 M571.9,138.4 H577.9 M571.9,163.5 H577.9" stroke="#000" stroke-width="1.3" fill="none"/>
<circle cx="574.9" cy="151.9" r="2.9" fill="#000"/>
<path d="M583.7,151.5 V177.8 M580.7,151.5 H586.7 M580.7,177.8 H586.7" stroke="#000" stroke-width="1.3" fill="none"/>
<circle cx="583.7" cy="160.9" r="2.9" fill="#000"/>
<path d="M627.2,145.0 V171.8 M624.2,145.0 H630.2 M624.2,171.8 H630.2" stroke="#000" stroke-width="1.3" fill="none"/>
<circle cx="627.2" cy="157.4" r="2.9" fill="#000"/>
<path d="M636.0,139.6 V168.6 M633.0,139.6 H639.0 M633.0,168.6 H639.0" stroke="#000" stroke-width="1.3" fill="none"/>
<circle cx="636.0" cy="148.0" r="2.9" fill="#000"/>
<path d="M679.5,143.8 V169.4 M676.5,143.8 H682.5 M676.5,169.4 H682.5" stroke="#000" stroke-width="1.3" fill="none"/>
<circle cx="679.5" cy="158.6" r="2.9" fill="#000"/>
<path d="M688.3,139.6 V168.6 M685.3,139.6 H691.3 M685.3,168.6 H691.3" stroke="#000" stroke-width="1.3" fill="none"/>
<circle cx="688.3" cy="148.0" r="2.9" fill="#000"/>
<path d="M731.8,137.6 V161.1 M728.8,137.6 H734.8 M728.8,161.1 H734.8" stroke="#000" stroke-width="1.3" fill="none"/>
<circle cx="731.8" cy="148.2" r="2.9" fill="#000"/>
<path d="M740.6,143.0 V176.8 M737.6,143.0 H743.6 M737.6,176.8 H743.6" stroke="#000" stroke-width="1.3" fill="none"/>
<circle cx="740.6" cy="158.6" r="2.9" fill="#000"/>
<path d="M784.1,175.0 V185.9 M781.1,175.0 H787.1 M781.1,185.9 H787.1" stroke="#000" stroke-width="1.3" fill="none"/>
<circle cx="784.1" cy="181.0" r="2.9" fill="#000"/>
<path d="M792.9,172.0 V185.9 M789.9,172.0 H795.9 M789.9,185.9 H795.9" stroke="#000" stroke-width="1.3" fill="none"/>
<circle cx="792.9" cy="181.0" r="2.9" fill="#000"/>
<path d="M836.4,153.7 V181.0 M833.4,153.7 H839.4 M833.4,181.0 H839.4" stroke="#000" stroke-width="1.3" fill="none"/>
<circle cx="836.4" cy="171.3" r="2.9" fill="#000"/>
<path d="M845.2,163.9 V178.5 M842.2,163.9 H848.2 M842.2,178.5 H848.2" stroke="#000" stroke-width="1.3" fill="none"/>
<circle cx="845.2" cy="168.1" r="2.9" fill="#000"/>
<path d="M888.7,161.2 V178.5 M885.7,161.2 H891.7 M885.7,178.5 H891.7" stroke="#000" stroke-width="1.3" fill="none"/>
<circle cx="888.7" cy="170.6" r="2.9" fill="#000"/>
<path d="M897.5,163.7 V181.5 M894.5,163.7 H900.5 M894.5,181.5 H900.5" stroke="#000" stroke-width="1.3" fill="none"/>
<circle cx="897.5" cy="174.8" r="2.9" fill="#000"/>
<path d="M940.9,143.0 V164.7 M937.9,143.0 H943.9 M937.9,164.7 H943.9" stroke="#000" stroke-width="1.3" fill="none"/>
<circle cx="940.9" cy="156.0" r="2.9" fill="#000"/>
<path d="M949.7,139.8 V168.4 M946.7,139.8 H952.7 M946.7,168.4 H952.7" stroke="#000" stroke-width="1.3" fill="none"/>
<circle cx="949.7" cy="148.0" r="2.9" fill="#000"/>
<path d="M993.2,162.2 V177.0 M990.2,162.2 H996.2 M990.2,177.0 H996.2" stroke="#000" stroke-width="1.3" fill="none"/>
<circle cx="993.2" cy="170.1" r="2.9" fill="#000"/>
<path d="M1002.0,158.5 V169.1 M999.0,158.5 H1005.0 M999.0,169.1 H1005.0" stroke="#000" stroke-width="1.3" fill="none"/>
<circle cx="1002.0" cy="163.9" r="2.9" fill="#000"/>
<path d="M1045.5,126.5 V152.4 M1042.5,126.5 H1048.5 M1042.5,152.4 H1048.5" stroke="#000" stroke-width="1.3" fill="none"/>
<circle cx="1045.5" cy="138.9" r="2.9" fill="#000"/>
<path d="M1054.3,124.3 V128.7 M1051.3,124.3 H1057.3 M1051.3,128.7 H1057.3" stroke="#000" stroke-width="1.3" fill="none"/>
<circle cx="1054.3" cy="126.5" r="2.9" fill="#000"/>
<path d="M1097.8,172.8 V186.4 M1094.8,172.8 H1100.8 M1094.8,186.4 H1100.8" stroke="#000" stroke-width="1.3" fill="none"/>
<circle cx="1097.8" cy="179.5" r="2.9" fill="#000"/>
<path d="M1106.6,172.1 V184.4 M1103.6,172.1 H1109.6 M1103.6,184.4 H1109.6" stroke="#000" stroke-width="1.3" fill="none"/>
<circle cx="1106.6" cy="178.2" r="2.9" fill="#000"/>
<path d="M1150.1,155.2 V173.5 M1147.1,155.2 H1153.1 M1147.1,173.5 H1153.1" stroke="#000" stroke-width="1.3" fill="none"/>
<circle cx="1150.1" cy="164.6" r="2.9" fill="#000"/>
<path d="M1158.9,159.9 V169.5 M1155.9,159.9 H1161.9 M1155.9,169.5 H1161.9" stroke="#000" stroke-width="1.3" fill="none"/>
<circle cx="1158.9" cy="166.5" r="2.9" fill="#000"/>
<path d="M1202.4,135.4 V152.7 M1199.4,135.4 H1205.4 M1199.4,152.7 H1205.4" stroke="#000" stroke-width="1.3" fill="none"/>
<circle cx="1202.4" cy="144.8" r="2.9" fill="#000"/>
<path d="M1211.2,134.9 V147.3 M1208.2,134.9 H1214.2 M1208.2,147.3 H1214.2" stroke="#000" stroke-width="1.3" fill="none"/>
<circle cx="1211.2" cy="138.6" r="2.9" fill="#000"/>
<path d="M1254.7,179.4 V191.2 M1251.7,179.4 H1257.7 M1251.7,191.2 H1257.7" stroke="#000" stroke-width="1.3" fill="none"/>
<circle cx="1254.7" cy="185.5" r="2.9" fill="#000"/>
<path d="M1263.5,175.9 V186.3 M1260.5,175.9 H1266.5 M1260.5,186.3 H1266.5" stroke="#000" stroke-width="1.3" fill="none"/>
<circle cx="1263.5" cy="179.4" r="2.9" fill="#000"/>
<path d="M1307.0,173.4 V193.2 M1304.0,173.4 H1310.0 M1304.0,193.2 H1310.0" stroke="#000" stroke-width="1.3" fill="none"/>
<circle cx="1307.0" cy="182.6" r="2.9" fill="#000"/>
<path d="M1315.8,172.0 V185.0 M1312.8,172.0 H1318.8 M1312.8,185.0 H1318.8" stroke="#000" stroke-width="1.3" fill="none"/>
<circle cx="1315.8" cy="177.6" r="2.9" fill="#000"/>
<path d="M1359.3,181.8 V193.3 M1356.3,181.8 H1362.3 M1356.3,193.3 H1362.3" stroke="#000" stroke-width="1.3" fill="none"/>
<circle cx="1359.3" cy="186.3" r="2.9" fill="#000"/>
<path d="M1368.1,139.2 V168.0 M1365.1,139.2 H1371.1 M1365.1,168.0 H1371.1" stroke="#000" stroke-width="1.3" fill="none"/>
<circle cx="1368.1" cy="147.8" r="2.9" fill="#000"/>
<path d="M1411.5,130.6 V147.8 M1408.5,130.6 H1414.5 M1408.5,147.8 H1414.5" stroke="#000" stroke-width="1.3" fill="none"/>
<circle cx="1411.5" cy="137.2" r="2.9" fill="#000"/>
<path d="M1420.4,124.0 V127.8 M1417.4,124.0 H1423.4 M1417.4,127.8 H1423.4" stroke="#000" stroke-width="1.3" fill="none"/>
<circle cx="1420.4" cy="125.9" r="2.9" fill="#000"/>
<path d="M62,7.5 H1455.5 V305.0 H62 M70.0,7.5 V305.0" stroke="#000" stroke-width="1.6" fill="none"/>
<line x1="62" x2="70.0" y1="299.80" y2="299.80" stroke="#000" stroke-width="1.6"/>
<text x="58" y="304.00" text-anchor="end" class="yt"><tspan style="font-size:11.5px" dy="-0.9">−</tspan><tspan dx="0.8" dy="0.9">20</tspan></text>
<line x1="62" x2="70.0" y1="266.65" y2="266.65" stroke="#000" stroke-width="1.6"/>
<text x="58" y="270.85" text-anchor="end" class="yt"><tspan style="font-size:11.5px" dy="-0.9">−</tspan><tspan dx="0.8" dy="0.9">15</tspan></text>
<line x1="62" x2="70.0" y1="233.50" y2="233.50" stroke="#000" stroke-width="1.6"/>
<text x="58" y="237.70" text-anchor="end" class="yt"><tspan style="font-size:11.5px" dy="-0.9">−</tspan><tspan dx="0.8" dy="0.9">10</tspan></text>
<line x1="62" x2="70.0" y1="200.35" y2="200.35" stroke="#000" stroke-width="1.6"/>
<text x="58" y="204.55" text-anchor="end" class="yt"><tspan style="font-size:11.5px" dy="-0.9">−</tspan><tspan dx="0.8" dy="0.9">5</tspan></text>
<line x1="62" x2="70.0" y1="167.20" y2="167.20" stroke="#000" stroke-width="1.6"/>
<text x="58" y="171.40" text-anchor="end" class="yt">0</text>
<line x1="62" x2="70.0" y1="134.05" y2="134.05" stroke="#000" stroke-width="1.6"/>
<text x="58" y="138.25" text-anchor="end" class="yt">5</text>
<line x1="62" x2="70.0" y1="100.90" y2="100.90" stroke="#000" stroke-width="1.6"/>
<text x="58" y="105.10" text-anchor="end" class="yt">10</text>
<line x1="62" x2="70.0" y1="67.75" y2="67.75" stroke="#000" stroke-width="1.6"/>
<text x="58" y="71.95" text-anchor="end" class="yt">15</text>
<line x1="62" x2="70.0" y1="34.60" y2="34.60" stroke="#000" stroke-width="1.6"/>
<text x="58" y="38.80" text-anchor="end" class="yt">20</text>
<line x1="109.5" x2="109.5" y1="305.0" y2="312.5" stroke="#000" stroke-width="1.4"/>
<text transform="translate(105.5,307.5) rotate(-45)" text-anchor="end" dy="0.72em" class="xt">GBM(T=153,N=5)</text>
<line x1="161.8" x2="161.8" y1="305.0" y2="312.5" stroke="#000" stroke-width="1.4"/>
<text transform="translate(157.8,307.5) rotate(-45)" text-anchor="end" dy="0.72em" class="xt">GBMLGG(T=662,N=5)</text>
<line x1="214.1" x2="214.1" y1="305.0" y2="312.5" stroke="#000" stroke-width="1.4"/>
<text transform="translate(210.1,307.5) rotate(-45)" text-anchor="end" dy="0.72em" class="xt">LGG(T=509,N=5)</text>
<line x1="266.4" x2="266.4" y1="305.0" y2="312.5" stroke="#000" stroke-width="1.4"/>
<text transform="translate(262.4,307.5) rotate(-45)" text-anchor="end" dy="0.72em" class="xt">CESC(T=304,N=3)</text>
<line x1="318.7" x2="318.7" y1="305.0" y2="312.5" stroke="#000" stroke-width="1.4"/>
<text transform="translate(314.7,307.5) rotate(-45)" text-anchor="end" dy="0.72em" class="xt">LUAD(T=513,N=109)</text>
<line x1="370.9" x2="370.9" y1="305.0" y2="312.5" stroke="#000" stroke-width="1.4"/>
<text transform="translate(366.9,307.5) rotate(-45)" text-anchor="end" dy="0.72em" class="xt">COAD(T=288,N=41)</text>
<line x1="423.2" x2="423.2" y1="305.0" y2="312.5" stroke="#000" stroke-width="1.4"/>
<text transform="translate(419.2,307.5) rotate(-45)" text-anchor="end" dy="0.72em" class="xt">COADREAD(T=380,N=51)</text>
<line x1="475.5" x2="475.5" y1="305.0" y2="312.5" stroke="#000" stroke-width="1.4"/>
<text transform="translate(471.5,307.5) rotate(-45)" text-anchor="end" dy="0.72em" class="xt">BRCA(T=1092,N=113)</text>
<line x1="527.8" x2="527.8" y1="305.0" y2="312.5" stroke="#000" stroke-width="1.4"/>
<text transform="translate(523.8,307.5) rotate(-45)" text-anchor="end" dy="0.72em" class="xt">ESCA(T=181,N=13)</text>
<line x1="580.1" x2="580.1" y1="305.0" y2="312.5" stroke="#000" stroke-width="1.4"/>
<text transform="translate(576.1,307.5) rotate(-45)" text-anchor="end" dy="0.72em" class="xt">STES(T=595,N=49)</text>
<line x1="632.4" x2="632.4" y1="305.0" y2="312.5" stroke="#000" stroke-width="1.4"/>
<text transform="translate(628.4,307.5) rotate(-45)" text-anchor="end" dy="0.72em" class="xt">KIRP(T=288,N=129)</text>
<line x1="684.7" x2="684.7" y1="305.0" y2="312.5" stroke="#000" stroke-width="1.4"/>
<text transform="translate(680.7,307.5) rotate(-45)" text-anchor="end" dy="0.72em" class="xt">KIPAN(T=884,N=129)</text>
<line x1="737.0" x2="737.0" y1="305.0" y2="312.5" stroke="#000" stroke-width="1.4"/>
<text transform="translate(733.0,307.5) rotate(-45)" text-anchor="end" dy="0.72em" class="xt">STAD(T=414,N=36)</text>
<line x1="789.3" x2="789.3" y1="305.0" y2="312.5" stroke="#000" stroke-width="1.4"/>
<text transform="translate(785.3,307.5) rotate(-45)" text-anchor="end" dy="0.72em" class="xt">PRAD(T=495,N=52)</text>
<line x1="841.6" x2="841.6" y1="305.0" y2="312.5" stroke="#000" stroke-width="1.4"/>
<text transform="translate(837.6,307.5) rotate(-45)" text-anchor="end" dy="0.72em" class="xt">UCEC(T=180,N=23)</text>
<line x1="893.9" x2="893.9" y1="305.0" y2="312.5" stroke="#000" stroke-width="1.4"/>
<text transform="translate(889.9,307.5) rotate(-45)" text-anchor="end" dy="0.72em" class="xt">HNSC(T=518,N=44)</text>
<line x1="946.1" x2="946.1" y1="305.0" y2="312.5" stroke="#000" stroke-width="1.4"/>
<text transform="translate(942.1,307.5) rotate(-45)" text-anchor="end" dy="0.72em" class="xt">KIRC(T=530,N=129)</text>
<line x1="998.4" x2="998.4" y1="305.0" y2="312.5" stroke="#000" stroke-width="1.4"/>
<text transform="translate(994.4,307.5) rotate(-45)" text-anchor="end" dy="0.72em" class="xt">LUSC(T=498,N=109)</text>
<line x1="1050.7" x2="1050.7" y1="305.0" y2="312.5" stroke="#000" stroke-width="1.4"/>
<text transform="translate(1046.7,307.5) rotate(-45)" text-anchor="end" dy="0.72em" class="xt">LIHC(T=369,N=50)</text>
<line x1="1103.0" x2="1103.0" y1="305.0" y2="312.5" stroke="#000" stroke-width="1.4"/>
<text transform="translate(1099.0,307.5) rotate(-45)" text-anchor="end" dy="0.72em" class="xt">THCA(T=504,N=59)</text>
<line x1="1155.3" x2="1155.3" y1="305.0" y2="312.5" stroke="#000" stroke-width="1.4"/>
<text transform="translate(1151.3,307.5) rotate(-45)" text-anchor="end" dy="0.72em" class="xt">READ(T=92,N=10)</text>
<line x1="1207.6" x2="1207.6" y1="305.0" y2="312.5" stroke="#000" stroke-width="1.4"/>
<text transform="translate(1203.6,307.5) rotate(-45)" text-anchor="end" dy="0.72em" class="xt">PAAD(T=178,N=4)</text>
<line x1="1259.9" x2="1259.9" y1="305.0" y2="312.5" stroke="#000" stroke-width="1.4"/>
<text transform="translate(1255.9,307.5) rotate(-45)" text-anchor="end" dy="0.72em" class="xt">PCPG(T=177,N=3)</text>
<line x1="1312.2" x2="1312.2" y1="305.0" y2="312.5" stroke="#000" stroke-width="1.4"/>
<text transform="translate(1308.2,307.5) rotate(-45)" text-anchor="end" dy="0.72em" class="xt">BLCA(T=407,N=19)</text>
<line x1="1364.5" x2="1364.5" y1="305.0" y2="312.5" stroke="#000" stroke-width="1.4"/>
<text transform="translate(1360.5,307.5) rotate(-45)" text-anchor="end" dy="0.72em" class="xt">KICH(T=66,N=129)</text>
<line x1="1416.8" x2="1416.8" y1="305.0" y2="312.5" stroke="#000" stroke-width="1.4"/>
<text transform="translate(1412.8,307.5) rotate(-45)" text-anchor="end" dy="0.72em" class="xt">CHOL(T=36,N=9)</text>
<text x="111.11" y="31" text-anchor="middle" class="sig">***</text>
<text x="162.43" y="31" text-anchor="middle" class="sig">**</text>
<text x="214.72" y="31" text-anchor="middle" class="sig">**</text>
<text x="265.57" y="31" text-anchor="middle" class="sig">-</text>
<text x="318.33" y="31" text-anchor="middle" class="sig">*</text>
<text x="371.59" y="31" text-anchor="middle" class="sig">**</text>
<text x="423.88" y="31" text-anchor="middle" class="sig">**</text>
<text x="478.11" y="31" text-anchor="middle" class="sig">****</text>
<text x="527.49" y="31" text-anchor="middle" class="sig">*</text>
<text x="581.72" y="31" text-anchor="middle" class="sig">***</text>
<text x="632.07" y="31" text-anchor="middle" class="sig">*</text>
<text x="684.36" y="31" text-anchor="middle" class="sig">*</text>
<text x="737.62" y="31" text-anchor="middle" class="sig">**</text>
<text x="788.47" y="31" text-anchor="middle" class="sig">-</text>
<text x="840.76" y="31" text-anchor="middle" class="sig">-</text>
<text x="893.05" y="31" text-anchor="middle" class="sig">.</text>
<text x="945.34" y="31" text-anchor="middle" class="sig">-</text>
<text x="1001.01" y="31" text-anchor="middle" class="sig">****</text>
<text x="1053.30" y="31" text-anchor="middle" class="sig">****</text>
<text x="1102.21" y="31" text-anchor="middle" class="sig">-</text>
<text x="1154.50" y="31" text-anchor="middle" class="sig">-</text>
<text x="1206.79" y="31" text-anchor="middle" class="sig">-</text>
<text x="1259.08" y="31" text-anchor="middle" class="sig">-</text>
<text x="1311.37" y="31" text-anchor="middle" class="sig">-</text>
<text x="1367.04" y="31" text-anchor="middle" class="sig">****</text>
<text x="1419.33" y="31" text-anchor="middle" class="sig">****</text>
<text transform="translate(26,139.3) rotate(-90)" text-anchor="middle" class="ttl">Expression</text>
<text x="1462.3" y="134.7" class="ttl">Group</text>
<rect x="1462" y="152" width="13" height="13" fill="#EFC000"/>
<rect x="1462" y="178" width="13" height="13" fill="#4DBBD5"/>
<text x="1482" y="164.2" class="ttl" style="font-size:15.4px;fill:#EFC000;stroke:#EFC000">Tumor</text>
<text x="1482" y="191" class="ttl" style="font-size:15.4px;fill:#4DBBD5;stroke:#4DBBD5">Normal</text>
</svg>
</body></html>
